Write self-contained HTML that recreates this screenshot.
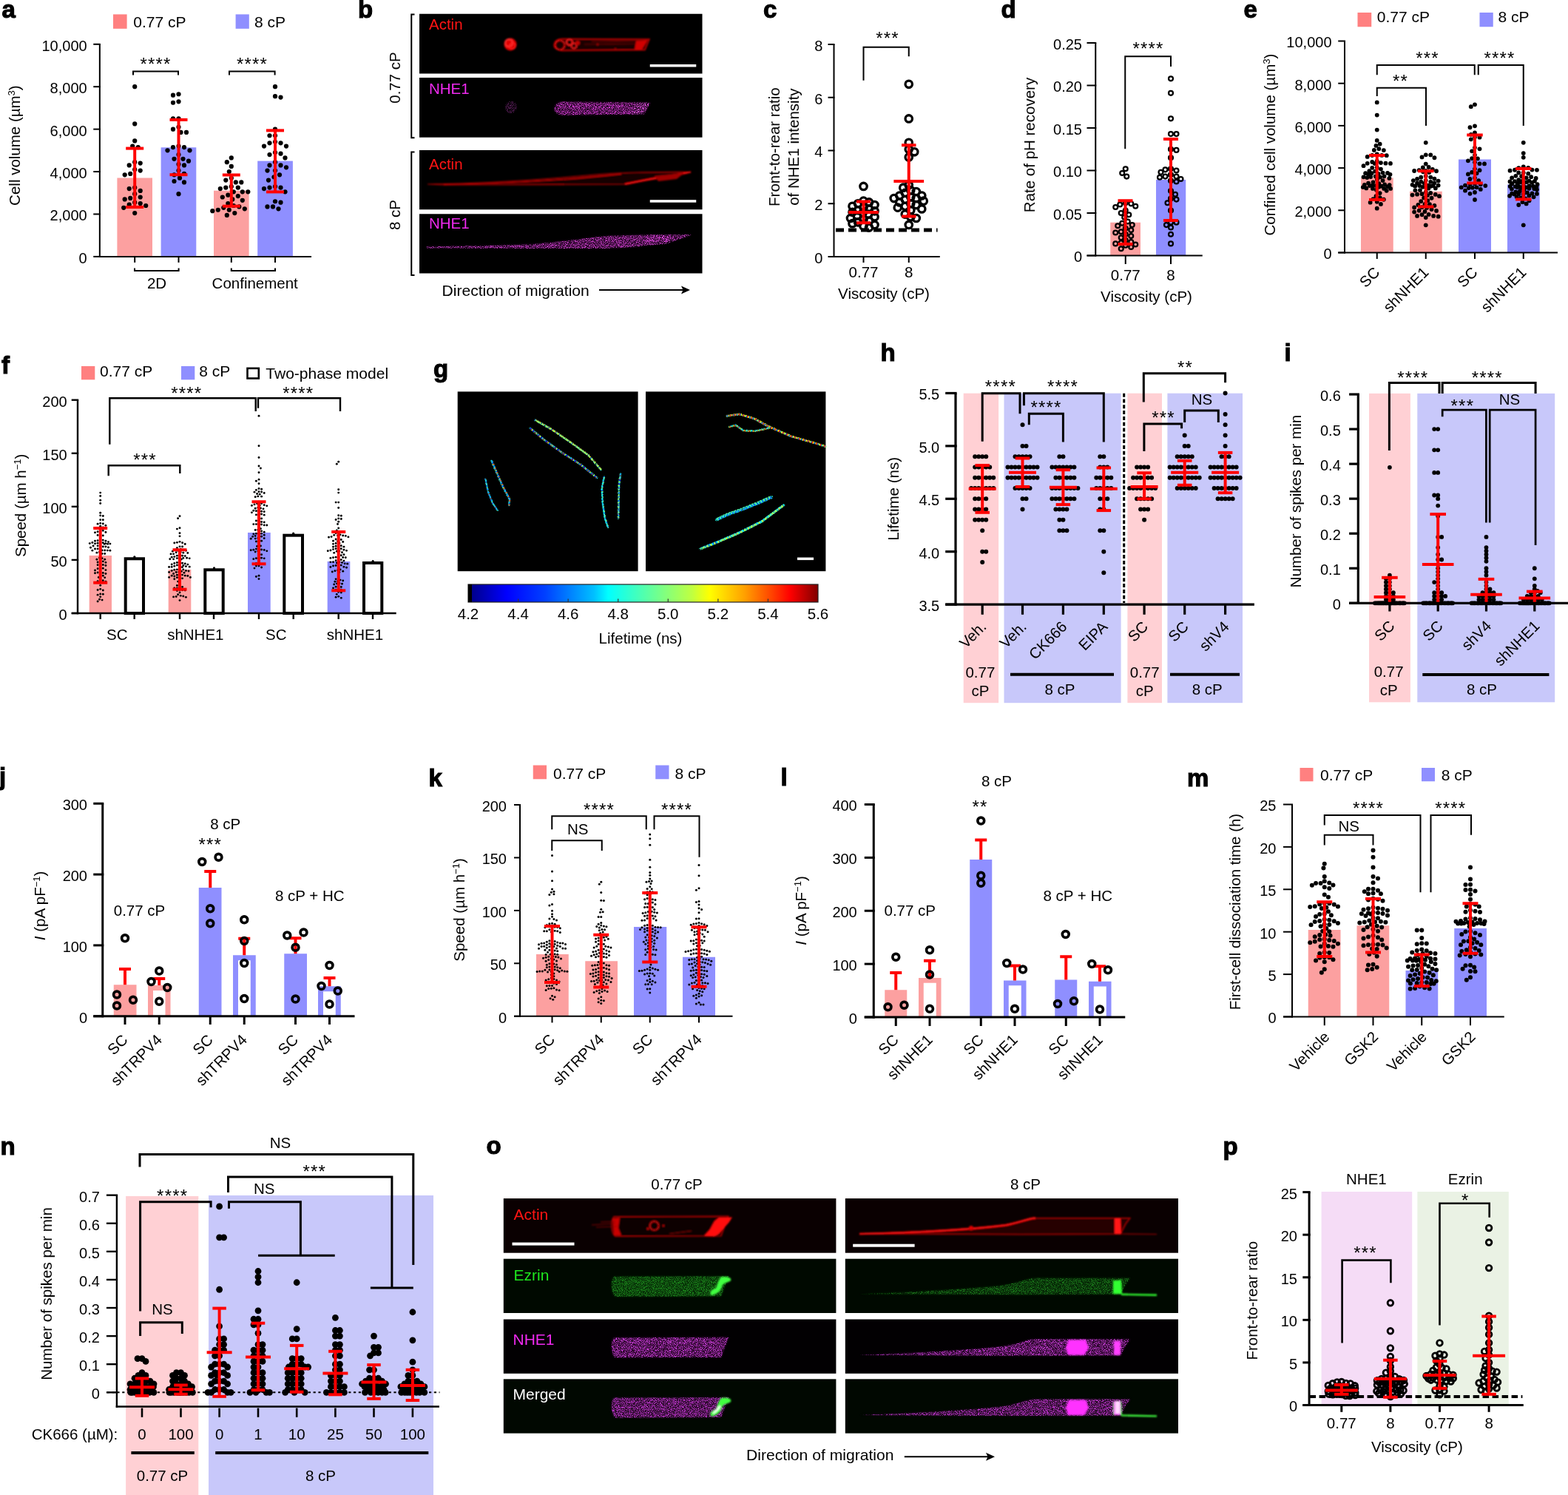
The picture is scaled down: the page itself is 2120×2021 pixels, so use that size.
<!DOCTYPE html>
<html><head><meta charset="utf-8"><title>Figure</title>
<style>html,body{margin:0;padding:0;background:#fff;overflow:hidden;} svg{display:block;} svg{font-family:"Liberation Sans",Helvetica,Arial,sans-serif;font-size:20.5px;}</style>
</head><body>
<svg width="2120" height="2021" viewBox="0 0 2120 2021">
<rect width="2120" height="2021" fill="#fff"/>
<defs>
<filter id="bl1" x="-20%" y="-50%" width="140%" height="200%"><feGaussianBlur stdDeviation="0.9"/></filter>
<filter id="bl2" x="-20%" y="-50%" width="140%" height="200%"><feGaussianBlur stdDeviation="1.6"/></filter>
<filter id="bl3" x="-20%" y="-50%" width="140%" height="200%"><feGaussianBlur stdDeviation="3"/></filter>
<filter id="spk" x="-5%" y="-30%" width="110%" height="160%">
 <feTurbulence type="fractalNoise" baseFrequency="1.1" numOctaves="2" seed="7" result="n"/>
 <feColorMatrix in="n" type="matrix" values="0 0 0 0 0  0 0 0 0 0  0 0 0 0 0  4.5 0 0 0 -2.0" result="m"/>
 <feComposite in="SourceGraphic" in2="m" operator="in" result="c"/>
 <feGaussianBlur in="c" stdDeviation="0.3"/>
</filter>
<filter id="spk2" x="-5%" y="-30%" width="110%" height="160%">
 <feTurbulence type="fractalNoise" baseFrequency="0.9" numOctaves="2" seed="3" result="n"/>
 <feColorMatrix in="n" type="matrix" values="0 0 0 0 0  0 0 0 0 0  0 0 0 0 0  4 0 0 0 -1.7" result="m"/>
 <feComposite in="SourceGraphic" in2="m" operator="in" result="c"/>
 <feGaussianBlur in="c" stdDeviation="0.3"/>
</filter>
<filter id="rag" x="-10%" y="-10%" width="120%" height="120%">
 <feTurbulence type="fractalNoise" baseFrequency="0.9" numOctaves="1" seed="11" result="n"/>
 <feColorMatrix in="n" type="matrix" values="0 0 0 0 0  0 0 0 0 0  0 0 0 0 0  3 0 0 0 -0.9" result="m"/>
 <feComposite in="SourceGraphic" in2="m" operator="in"/>
</filter>
<linearGradient id="jet" x1="0" x2="1" y1="0" y2="0">
 <stop offset="0" stop-color="#000080"/>
 <stop offset="0.11" stop-color="#0000ff"/>
 <stop offset="0.22" stop-color="#0040ff"/>
 <stop offset="0.36" stop-color="#00c0ff"/>
 <stop offset="0.40" stop-color="#00ffff"/>
 <stop offset="0.48" stop-color="#40ffbf"/>
 <stop offset="0.56" stop-color="#80ff80"/>
 <stop offset="0.64" stop-color="#c0ff40"/>
 <stop offset="0.69" stop-color="#ffff00"/>
 <stop offset="0.79" stop-color="#ffa000"/>
 <stop offset="0.87" stop-color="#ff4000"/>
 <stop offset="0.92" stop-color="#ff0000"/>
 <stop offset="1" stop-color="#800000"/>
</linearGradient>
</defs>
<text x="484.00" y="23.70" font-size="33" font-weight="bold" stroke="#000" stroke-width="1.1">b</text>
<rect x="567.00" y="18.75" width="382.50" height="80.75" fill="#000"/>
<rect x="567.00" y="105.00" width="382.50" height="80.75" fill="#000"/>
<rect x="567.00" y="203.00" width="382.50" height="80.25" fill="#000"/>
<rect x="567.00" y="289.25" width="382.50" height="80.25" fill="#000"/>
<text x="580.00" y="40.00" fill="#ff1414">Actin</text>
<text x="580.00" y="127.20" fill="#f02af0">NHE1</text>
<text x="580.00" y="228.75" fill="#ff1414">Actin</text>
<text x="580.00" y="309.40" fill="#f02af0">NHE1</text>
<rect x="878.75" y="87.00" width="62.50" height="3.50" fill="#fff"/>
<rect x="878.75" y="270.20" width="62.50" height="3.50" fill="#fff"/>
<polyline points="560.50,19.50 556.25,19.50 556.25,186.25 560.50,186.25" fill="none" stroke="#000" stroke-width="2"/>
<polyline points="560.50,205.50 556.25,205.50 556.25,372.00 560.50,372.00" fill="none" stroke="#000" stroke-width="2"/>
<text x="541.00" y="105.00" text-anchor="middle" transform="rotate(-90 541.00 105.00)">0.77 cP</text>
<text x="541.00" y="290.50" text-anchor="middle" transform="rotate(-90 541.00 290.50)">8 cP</text>
<text x="597.50" y="400.00" font-size="21.1">Direction of migration</text>
<line x1="810.00" y1="392.00" x2="928.00" y2="392.00" stroke="#000" stroke-width="2"/>
<path d="M933,392 L921,386.5 L923.5,392 L921,397.5 Z" fill="#000"/>
<g filter="url(#bl1)">
<circle cx="690" cy="60" r="8.5" fill="#e00000"/>
<circle cx="688" cy="58" r="5" fill="none" stroke="#ff3030" stroke-width="2"/>
<circle cx="693" cy="62" r="4" fill="none" stroke="#ff2020" stroke-width="1.6"/>
<path d="M760,52.5 L878,53 L872,67.5 L760,68.5 C751,68 748,63 749.5,59 C751,54 755,52.5 760,52.5 Z" fill="#1a0000" stroke="#d00000" stroke-width="1.4"/>
<circle cx="757" cy="61" r="6.5" fill="none" stroke="#e01010" stroke-width="1.6"/>
<circle cx="770" cy="57" r="4" fill="none" stroke="#ff2020" stroke-width="1.8"/>
<circle cx="776" cy="62" r="3.5" fill="none" stroke="#ff2020" stroke-width="1.6"/>
<circle cx="781" cy="58" r="3" fill="#c00000"/>
<path d="M860,55 L876,54 L868,67 L858,67 Z" fill="#d00000"/>
<path d="M800,56 L868,55" stroke="#a00000" stroke-width="0.8"/><path d="M790,60 L860,59" stroke="#800000" stroke-width="0.8"/>
<circle cx="808" cy="60" r="1.5" fill="#a00000"/><circle cx="832" cy="66" r="1.2" fill="#900000"/>
</g>
<g filter="url(#bl2)" opacity="0.5"><path d="M760,137.5 L879,138.5 L871,154.5 L760,155.5 C752,155 749,150 749.5,146 C750.5,140 755,137.5 760,137.5 Z" fill="#501050"/><path d="M577,333 C620,333 680,332 720,330 C760,327 790,322 820,319 C860,317 900,317 935,317.5 C925,322 905,327 880,331 C850,335 830,336 800,336 L577,335.5 Z" fill="#501050"/></g>
<g filter="url(#spk)">
<path d="M760,137.5 L879,138.5 L871,154.5 L760,155.5 C752,155 749,150 749.5,146 C750.5,140 755,137.5 760,137.5 Z" fill="#e040e0"/>
<path d="M858,140 L878,139 L870,154 L855,154 Z" fill="#ff60ff"/>
<circle cx="691" cy="145" r="8" fill="#602060"/>
</g>
<g filter="url(#bl1)">
<path d="M578,249 C640,248 700,245 760,240 C800,236 830,233.5 860,233 C890,232.5 915,232 934,232.5 C925,236 905,240 880,243 C860,246 852,249 845,249.5 L600,250 Z" fill="#140000" stroke="#b00000" stroke-width="1.1"/>
<path d="M600,249.5 C700,247.5 780,242 840,235" fill="none" stroke="#d00000" stroke-width="1.3"/>
<path d="M845,249 C870,244 900,238 934,232.5" fill="none" stroke="#ff1010" stroke-width="2"/>
<path d="M885,238 L925,234 L915,242 L890,245 Z" fill="#a00000"/>
</g>
<g filter="url(#spk)">
<path d="M577,333 C620,333 680,332 720,330 C760,327 790,322 820,319 C860,317 900,317 935,317.5 C925,322 905,327 880,331 C850,335 830,336 800,336 L577,335.5 Z" fill="#d040d0"/>
<path d="M870,318 L934,317.5 L900,330 L870,332 Z" fill="#ff50ff"/>
</g>
<text x="586.00" y="509.50" font-size="33" font-weight="bold" stroke="#000" stroke-width="1.1">g</text>
<rect x="618.70" y="529.40" width="243.90" height="242.80" fill="#000"/>
<rect x="873.00" y="529.40" width="243.40" height="242.80" fill="#000"/>
<path d="M723.5,567.8 L745.0,580.0 L770.0,597.0 L795.0,615.0 L812.7,635.0" fill="none" stroke="#28ffd7" stroke-width="2.6" stroke-linecap="round" stroke-linejoin="round" filter="url(#rag)"/>
<path d="M723.5,567.8 L745.0,580.0 L770.0,597.0 L795.0,615.0 L812.7,635.0" fill="none" stroke="#ffbd00" stroke-width="1.81" stroke-dasharray="1.4,3.4" stroke-dashoffset="2.7" transform="translate(0.18,0.35)"/>
<path d="M723.5,567.8 L745.0,580.0 L770.0,597.0 L795.0,615.0 L812.7,635.0" fill="none" stroke="#ff9600" stroke-width="2.26" stroke-dasharray="0.7,2.6" stroke-dashoffset="2.6" transform="translate(0.31,-0.60)"/>
<path d="M723.5,567.8 L745.0,580.0 L770.0,597.0 L795.0,615.0 L812.7,635.0" fill="none" stroke="#0000e6" stroke-width="2.34" stroke-dasharray="0.8,5.8" stroke-dashoffset="0.2" transform="translate(-0.57,0.05)"/>
<path d="M723.5,567.8 L745.0,580.0 L770.0,597.0 L795.0,615.0 L812.7,635.0" fill="none" stroke="#8fff70" stroke-width="1.45" stroke-dasharray="1.5,3.8" stroke-dashoffset="2.5" transform="translate(-0.57,-0.33)"/>
<path d="M723.5,567.8 L745.0,580.0 L770.0,597.0 L795.0,615.0 L812.7,635.0" fill="none" stroke="#002eff" stroke-width="1.45" stroke-dasharray="0.8,3.3" stroke-dashoffset="2.8" transform="translate(-0.25,-0.57)"/>
<path d="M723.5,567.8 L745.0,580.0 L770.0,597.0 L795.0,615.0 L812.7,635.0" fill="none" stroke="#7dff82" stroke-width="2.00" stroke-dasharray="1.4,4.4" stroke-dashoffset="1.1" transform="translate(0.59,0.43)"/>
<path d="M723.5,567.8 L745.0,580.0 L770.0,597.0 L795.0,615.0 L812.7,635.0" fill="none" stroke="#a5ff5a" stroke-width="2.39" stroke-dasharray="1.3,5.0" stroke-dashoffset="2.5" transform="translate(0.40,0.20)"/>
<path d="M723.5,567.8 L745.0,580.0 L770.0,597.0 L795.0,615.0 L812.7,635.0" fill="none" stroke="#9eff61" stroke-width="2.32" stroke-dasharray="0.9,4.6" stroke-dashoffset="5.1" transform="translate(0.01,0.11)"/>
<path d="M723.5,567.8 L745.0,580.0 L770.0,597.0 L795.0,615.0 L812.7,635.0" fill="none" stroke="#b3ff4c" stroke-width="1.39" stroke-dasharray="1.4,4.0" stroke-dashoffset="3.3" transform="translate(0.24,0.21)"/>
<path d="M716.6,578.8 L735.0,594.0 L760.0,612.0 L785.0,628.0 L807.2,646.0" fill="none" stroke="#28ffd7" stroke-width="2.6" stroke-linecap="round" stroke-linejoin="round" filter="url(#rag)"/>
<path d="M716.6,578.8 L735.0,594.0 L760.0,612.0 L785.0,628.0 L807.2,646.0" fill="none" stroke="#af0000" stroke-width="2.26" stroke-dasharray="0.7,2.8" stroke-dashoffset="4.4" transform="translate(0.20,-0.23)"/>
<path d="M716.6,578.8 L735.0,594.0 L760.0,612.0 L785.0,628.0 L807.2,646.0" fill="none" stroke="#0080ff" stroke-width="1.93" stroke-dasharray="1.2,4.6" stroke-dashoffset="1.0" transform="translate(-0.08,-0.13)"/>
<path d="M716.6,578.8 L735.0,594.0 L760.0,612.0 L785.0,628.0 L807.2,646.0" fill="none" stroke="#009aff" stroke-width="1.75" stroke-dasharray="1.5,4.4" stroke-dashoffset="1.6" transform="translate(-0.56,-0.57)"/>
<path d="M716.6,578.8 L735.0,594.0 L760.0,612.0 L785.0,628.0 L807.2,646.0" fill="none" stroke="#0000dc" stroke-width="1.66" stroke-dasharray="1.1,3.6" stroke-dashoffset="5.4" transform="translate(0.03,0.07)"/>
<path d="M716.6,578.8 L735.0,594.0 L760.0,612.0 L785.0,628.0 L807.2,646.0" fill="none" stroke="#2bffd3" stroke-width="1.83" stroke-dasharray="0.9,3.0" stroke-dashoffset="6.0" transform="translate(0.21,-0.38)"/>
<path d="M716.6,578.8 L735.0,594.0 L760.0,612.0 L785.0,628.0 L807.2,646.0" fill="none" stroke="#52ffad" stroke-width="2.12" stroke-dasharray="1.5,5.3" stroke-dashoffset="5.4" transform="translate(0.32,0.35)"/>
<path d="M716.6,578.8 L735.0,594.0 L760.0,612.0 L785.0,628.0 L807.2,646.0" fill="none" stroke="#0000dc" stroke-width="2.15" stroke-dasharray="1.6,3.1" stroke-dashoffset="4.3" transform="translate(-0.05,0.04)"/>
<path d="M716.6,578.8 L735.0,594.0 L760.0,612.0 L785.0,628.0 L807.2,646.0" fill="none" stroke="#af0000" stroke-width="1.82" stroke-dasharray="1.1,5.7" stroke-dashoffset="5.0" transform="translate(-0.18,0.46)"/>
<path d="M716.6,578.8 L735.0,594.0 L760.0,612.0 L785.0,628.0 L807.2,646.0" fill="none" stroke="#e0ff1f" stroke-width="2.11" stroke-dasharray="1.2,5.7" stroke-dashoffset="2.9" transform="translate(-0.33,-0.21)"/>
<path d="M664.5,622.7 L672.0,640.0 L680.0,658.0 L689.0,675.0 L688.0,683.0" fill="none" stroke="#28ffd7" stroke-width="2.4" stroke-linecap="round" stroke-linejoin="round" filter="url(#rag)"/>
<path d="M664.5,622.7 L672.0,640.0 L680.0,658.0 L689.0,675.0 L688.0,683.0" fill="none" stroke="#3affc4" stroke-width="1.83" stroke-dasharray="1.0,4.6" stroke-dashoffset="0.4" transform="translate(-0.58,0.40)"/>
<path d="M664.5,622.7 L672.0,640.0 L680.0,658.0 L689.0,675.0 L688.0,683.0" fill="none" stroke="#ffc500" stroke-width="2.27" stroke-dasharray="0.9,3.3" stroke-dashoffset="2.8" transform="translate(0.40,-0.03)"/>
<path d="M664.5,622.7 L672.0,640.0 L680.0,658.0 L689.0,675.0 L688.0,683.0" fill="none" stroke="#00c3ff" stroke-width="1.71" stroke-dasharray="1.2,5.5" stroke-dashoffset="4.4" transform="translate(0.21,-0.52)"/>
<path d="M664.5,622.7 L672.0,640.0 L680.0,658.0 L689.0,675.0 L688.0,683.0" fill="none" stroke="#00b2ff" stroke-width="1.44" stroke-dasharray="1.4,4.6" stroke-dashoffset="0.2" transform="translate(0.44,-0.03)"/>
<path d="M664.5,622.7 L672.0,640.0 L680.0,658.0 L689.0,675.0 L688.0,683.0" fill="none" stroke="#00baff" stroke-width="1.55" stroke-dasharray="1.3,5.7" stroke-dashoffset="4.8" transform="translate(-0.07,0.52)"/>
<path d="M664.5,622.7 L672.0,640.0 L680.0,658.0 L689.0,675.0 L688.0,683.0" fill="none" stroke="#0000dc" stroke-width="1.24" stroke-dasharray="1.5,2.8" stroke-dashoffset="1.3" transform="translate(0.56,-0.08)"/>
<path d="M664.5,622.7 L672.0,640.0 L680.0,658.0 L689.0,675.0 L688.0,683.0" fill="none" stroke="#0090ff" stroke-width="1.50" stroke-dasharray="1.1,3.9" stroke-dashoffset="3.5" transform="translate(0.10,0.49)"/>
<path d="M664.5,622.7 L672.0,640.0 L680.0,658.0 L689.0,675.0 L688.0,683.0" fill="none" stroke="#008dff" stroke-width="2.11" stroke-dasharray="1.3,5.8" stroke-dashoffset="5.9" transform="translate(0.21,-0.40)"/>
<path d="M664.5,622.7 L672.0,640.0 L680.0,658.0 L689.0,675.0 L688.0,683.0" fill="none" stroke="#ff5b00" stroke-width="1.94" stroke-dasharray="1.5,4.5" stroke-dashoffset="1.3" transform="translate(0.40,0.09)"/>
<path d="M656.3,647.4 L660.0,665.0 L666.0,680.0 L672.7,690.0" fill="none" stroke="#28ffd7" stroke-width="2.0" stroke-linecap="round" stroke-linejoin="round" filter="url(#rag)"/>
<path d="M656.3,647.4 L660.0,665.0 L666.0,680.0 L672.7,690.0" fill="none" stroke="#2fffcf" stroke-width="0.97" stroke-dasharray="1.0,3.0" stroke-dashoffset="2.4" transform="translate(0.50,0.36)"/>
<path d="M656.3,647.4 L660.0,665.0 L666.0,680.0 L672.7,690.0" fill="none" stroke="#81ff7e" stroke-width="1.44" stroke-dasharray="1.4,3.3" stroke-dashoffset="1.7" transform="translate(-0.39,-0.47)"/>
<path d="M656.3,647.4 L660.0,665.0 L666.0,680.0 L672.7,690.0" fill="none" stroke="#89ff76" stroke-width="1.70" stroke-dasharray="1.4,5.3" stroke-dashoffset="1.2" transform="translate(-0.23,0.15)"/>
<path d="M656.3,647.4 L660.0,665.0 L666.0,680.0 L672.7,690.0" fill="none" stroke="#af0000" stroke-width="1.78" stroke-dasharray="1.3,5.5" stroke-dashoffset="0.5" transform="translate(0.13,0.21)"/>
<path d="M656.3,647.4 L660.0,665.0 L666.0,680.0 L672.7,690.0" fill="none" stroke="#0089ff" stroke-width="1.83" stroke-dasharray="1.1,2.8" stroke-dashoffset="5.2" transform="translate(0.06,-0.24)"/>
<path d="M656.3,647.4 L660.0,665.0 L666.0,680.0 L672.7,690.0" fill="none" stroke="#23ffdb" stroke-width="1.78" stroke-dasharray="1.5,4.5" stroke-dashoffset="5.1" transform="translate(0.01,-0.10)"/>
<path d="M656.3,647.4 L660.0,665.0 L666.0,680.0 L672.7,690.0" fill="none" stroke="#0054ff" stroke-width="1.71" stroke-dasharray="0.8,3.6" stroke-dashoffset="0.3" transform="translate(-0.54,0.15)"/>
<path d="M656.3,647.4 L660.0,665.0 L666.0,680.0 L672.7,690.0" fill="none" stroke="#008aff" stroke-width="1.37" stroke-dasharray="0.9,4.4" stroke-dashoffset="2.1" transform="translate(0.60,-0.37)"/>
<path d="M656.3,647.4 L660.0,665.0 L666.0,680.0 L672.7,690.0" fill="none" stroke="#0094ff" stroke-width="1.26" stroke-dasharray="1.2,3.5" stroke-dashoffset="4.5" transform="translate(-0.22,0.07)"/>
<path d="M817.0,644.6 L814.0,660.0 L815.0,680.0 L818.0,700.0 L822.3,713.2" fill="none" stroke="#28ffd7" stroke-width="2.2" stroke-linecap="round" stroke-linejoin="round" filter="url(#rag)"/>
<path d="M817.0,644.6 L814.0,660.0 L815.0,680.0 L818.0,700.0 L822.3,713.2" fill="none" stroke="#0021ff" stroke-width="1.80" stroke-dasharray="1.4,5.8" stroke-dashoffset="5.5" transform="translate(-0.57,-0.04)"/>
<path d="M817.0,644.6 L814.0,660.0 L815.0,680.0 L818.0,700.0 L822.3,713.2" fill="none" stroke="#0025ff" stroke-width="1.98" stroke-dasharray="1.5,4.8" stroke-dashoffset="0.7" transform="translate(-0.04,-0.30)"/>
<path d="M817.0,644.6 L814.0,660.0 L815.0,680.0 L818.0,700.0 L822.3,713.2" fill="none" stroke="#0016ff" stroke-width="1.30" stroke-dasharray="0.6,3.3" stroke-dashoffset="5.5" transform="translate(0.32,-0.41)"/>
<path d="M817.0,644.6 L814.0,660.0 L815.0,680.0 L818.0,700.0 L822.3,713.2" fill="none" stroke="#00c7ff" stroke-width="1.67" stroke-dasharray="1.4,3.0" stroke-dashoffset="0.8" transform="translate(-0.60,0.45)"/>
<path d="M817.0,644.6 L814.0,660.0 L815.0,680.0 L818.0,700.0 L822.3,713.2" fill="none" stroke="#49ffb5" stroke-width="1.31" stroke-dasharray="1.6,5.6" stroke-dashoffset="5.8" transform="translate(0.05,0.21)"/>
<path d="M817.0,644.6 L814.0,660.0 L815.0,680.0 L818.0,700.0 L822.3,713.2" fill="none" stroke="#a9ff56" stroke-width="1.75" stroke-dasharray="0.8,5.8" stroke-dashoffset="5.8" transform="translate(0.47,-0.24)"/>
<path d="M817.0,644.6 L814.0,660.0 L815.0,680.0 L818.0,700.0 L822.3,713.2" fill="none" stroke="#00bdff" stroke-width="1.32" stroke-dasharray="0.7,2.7" stroke-dashoffset="3.6" transform="translate(-0.60,0.21)"/>
<path d="M817.0,644.6 L814.0,660.0 L815.0,680.0 L818.0,700.0 L822.3,713.2" fill="none" stroke="#80ff7f" stroke-width="1.89" stroke-dasharray="0.9,3.6" stroke-dashoffset="2.9" transform="translate(-0.22,-0.02)"/>
<path d="M817.0,644.6 L814.0,660.0 L815.0,680.0 L818.0,700.0 L822.3,713.2" fill="none" stroke="#15ffe9" stroke-width="1.81" stroke-dasharray="1.6,2.6" stroke-dashoffset="5.1" transform="translate(-0.58,0.35)"/>
<path d="M839.0,640.5 L837.0,655.0 L836.5,675.0 L836.0,701.0" fill="none" stroke="#28ffd7" stroke-width="2.6" stroke-linecap="round" stroke-linejoin="round" filter="url(#rag)"/>
<path d="M839.0,640.5 L837.0,655.0 L836.5,675.0 L836.0,701.0" fill="none" stroke="#87ff78" stroke-width="1.17" stroke-dasharray="1.1,3.4" stroke-dashoffset="4.0" transform="translate(-0.04,0.31)"/>
<path d="M839.0,640.5 L837.0,655.0 L836.5,675.0 L836.0,701.0" fill="none" stroke="#0000dc" stroke-width="1.52" stroke-dasharray="1.0,5.2" stroke-dashoffset="4.8" transform="translate(0.28,-0.10)"/>
<path d="M839.0,640.5 L837.0,655.0 L836.5,675.0 L836.0,701.0" fill="none" stroke="#0000f0" stroke-width="2.22" stroke-dasharray="0.8,4.4" stroke-dashoffset="1.6" transform="translate(0.36,0.22)"/>
<path d="M839.0,640.5 L837.0,655.0 L836.5,675.0 L836.0,701.0" fill="none" stroke="#00c5ff" stroke-width="1.29" stroke-dasharray="1.4,3.7" stroke-dashoffset="4.8" transform="translate(0.37,-0.07)"/>
<path d="M839.0,640.5 L837.0,655.0 L836.5,675.0 L836.0,701.0" fill="none" stroke="#91ff6e" stroke-width="2.41" stroke-dasharray="1.2,3.5" stroke-dashoffset="3.5" transform="translate(-0.36,0.19)"/>
<path d="M839.0,640.5 L837.0,655.0 L836.5,675.0 L836.0,701.0" fill="none" stroke="#6eff91" stroke-width="2.35" stroke-dasharray="1.0,5.8" stroke-dashoffset="3.1" transform="translate(0.17,0.24)"/>
<path d="M839.0,640.5 L837.0,655.0 L836.5,675.0 L836.0,701.0" fill="none" stroke="#ebff13" stroke-width="1.95" stroke-dasharray="0.6,3.8" stroke-dashoffset="1.8" transform="translate(0.11,-0.49)"/>
<path d="M839.0,640.5 L837.0,655.0 L836.5,675.0 L836.0,701.0" fill="none" stroke="#0000dc" stroke-width="1.32" stroke-dasharray="1.5,4.3" stroke-dashoffset="4.0" transform="translate(-0.23,-0.36)"/>
<path d="M839.0,640.5 L837.0,655.0 L836.5,675.0 L836.0,701.0" fill="none" stroke="#009bff" stroke-width="2.08" stroke-dasharray="0.8,5.5" stroke-dashoffset="0.1" transform="translate(0.33,-0.58)"/>
<path d="M982.8,562.3 L1000.0,560.0 L1020.0,566.0 L1039.0,576.5 L1070.0,590.0 L1095.0,597.0 L1116.0,603.5" fill="none" stroke="#78ff87" stroke-width="2.8" stroke-linecap="round" stroke-linejoin="round" filter="url(#rag)"/>
<path d="M982.8,562.3 L1000.0,560.0 L1020.0,566.0 L1039.0,576.5 L1070.0,590.0 L1095.0,597.0 L1116.0,603.5" fill="none" stroke="#46ffb8" stroke-width="2.01" stroke-dasharray="1.3,2.8" stroke-dashoffset="2.2" transform="translate(-0.53,0.01)"/>
<path d="M982.8,562.3 L1000.0,560.0 L1020.0,566.0 L1039.0,576.5 L1070.0,590.0 L1095.0,597.0 L1116.0,603.5" fill="none" stroke="#e9ff16" stroke-width="1.36" stroke-dasharray="0.6,4.0" stroke-dashoffset="0.5" transform="translate(-0.09,0.39)"/>
<path d="M982.8,562.3 L1000.0,560.0 L1020.0,566.0 L1039.0,576.5 L1070.0,590.0 L1095.0,597.0 L1116.0,603.5" fill="none" stroke="#e7ff17" stroke-width="2.07" stroke-dasharray="1.2,5.8" stroke-dashoffset="2.4" transform="translate(0.57,-0.54)"/>
<path d="M982.8,562.3 L1000.0,560.0 L1020.0,566.0 L1039.0,576.5 L1070.0,590.0 L1095.0,597.0 L1116.0,603.5" fill="none" stroke="#e5ff19" stroke-width="1.46" stroke-dasharray="1.5,3.5" stroke-dashoffset="0.7" transform="translate(-0.23,0.38)"/>
<path d="M982.8,562.3 L1000.0,560.0 L1020.0,566.0 L1039.0,576.5 L1070.0,590.0 L1095.0,597.0 L1116.0,603.5" fill="none" stroke="#f6ff08" stroke-width="2.03" stroke-dasharray="1.2,3.8" stroke-dashoffset="0.4" transform="translate(-0.53,-0.35)"/>
<path d="M982.8,562.3 L1000.0,560.0 L1020.0,566.0 L1039.0,576.5 L1070.0,590.0 L1095.0,597.0 L1116.0,603.5" fill="none" stroke="#ff6700" stroke-width="1.70" stroke-dasharray="1.3,4.0" stroke-dashoffset="3.5" transform="translate(-0.06,-0.24)"/>
<path d="M982.8,562.3 L1000.0,560.0 L1020.0,566.0 L1039.0,576.5 L1070.0,590.0 L1095.0,597.0 L1116.0,603.5" fill="none" stroke="#cfff30" stroke-width="2.00" stroke-dasharray="0.8,4.5" stroke-dashoffset="5.3" transform="translate(0.28,-0.25)"/>
<path d="M982.8,562.3 L1000.0,560.0 L1020.0,566.0 L1039.0,576.5 L1070.0,590.0 L1095.0,597.0 L1116.0,603.5" fill="none" stroke="#002fff" stroke-width="1.85" stroke-dasharray="1.6,2.9" stroke-dashoffset="4.5" transform="translate(-0.42,-0.01)"/>
<path d="M982.8,562.3 L1000.0,560.0 L1020.0,566.0 L1039.0,576.5 L1070.0,590.0 L1095.0,597.0 L1116.0,603.5" fill="none" stroke="#ff1f00" stroke-width="2.49" stroke-dasharray="1.4,4.5" stroke-dashoffset="1.9" transform="translate(0.23,0.11)"/>
<path d="M986.0,577.0 L995.0,575.0 L1005.0,582.0 L1020.0,583.0 L1040.0,578.8" fill="none" stroke="#78ff87" stroke-width="2.4" stroke-linecap="round" stroke-linejoin="round" filter="url(#rag)"/>
<path d="M986.0,577.0 L995.0,575.0 L1005.0,582.0 L1020.0,583.0 L1040.0,578.8" fill="none" stroke="#bfff40" stroke-width="1.18" stroke-dasharray="0.7,5.0" stroke-dashoffset="1.5" transform="translate(0.60,-0.35)"/>
<path d="M986.0,577.0 L995.0,575.0 L1005.0,582.0 L1020.0,583.0 L1040.0,578.8" fill="none" stroke="#af0000" stroke-width="1.62" stroke-dasharray="1.2,4.1" stroke-dashoffset="3.0" transform="translate(-0.37,0.40)"/>
<path d="M986.0,577.0 L995.0,575.0 L1005.0,582.0 L1020.0,583.0 L1040.0,578.8" fill="none" stroke="#fff700" stroke-width="1.57" stroke-dasharray="0.6,3.4" stroke-dashoffset="5.4" transform="translate(-0.15,-0.46)"/>
<path d="M986.0,577.0 L995.0,575.0 L1005.0,582.0 L1020.0,583.0 L1040.0,578.8" fill="none" stroke="#c4ff3b" stroke-width="1.16" stroke-dasharray="0.9,6.0" stroke-dashoffset="3.7" transform="translate(-0.15,0.19)"/>
<path d="M986.0,577.0 L995.0,575.0 L1005.0,582.0 L1020.0,583.0 L1040.0,578.8" fill="none" stroke="#00bcff" stroke-width="2.16" stroke-dasharray="1.1,4.8" stroke-dashoffset="3.5" transform="translate(-0.43,-0.52)"/>
<path d="M986.0,577.0 L995.0,575.0 L1005.0,582.0 L1020.0,583.0 L1040.0,578.8" fill="none" stroke="#ff4800" stroke-width="1.31" stroke-dasharray="1.5,4.2" stroke-dashoffset="5.7" transform="translate(0.09,0.27)"/>
<path d="M986.0,577.0 L995.0,575.0 L1005.0,582.0 L1020.0,583.0 L1040.0,578.8" fill="none" stroke="#fffa00" stroke-width="1.24" stroke-dasharray="1.0,5.6" stroke-dashoffset="4.6" transform="translate(-0.48,0.23)"/>
<path d="M986.0,577.0 L995.0,575.0 L1005.0,582.0 L1020.0,583.0 L1040.0,578.8" fill="none" stroke="#0cfff2" stroke-width="2.09" stroke-dasharray="1.3,5.8" stroke-dashoffset="3.0" transform="translate(-0.36,-0.42)"/>
<path d="M986.0,577.0 L995.0,575.0 L1005.0,582.0 L1020.0,583.0 L1040.0,578.8" fill="none" stroke="#006bff" stroke-width="1.69" stroke-dasharray="0.7,5.7" stroke-dashoffset="4.2" transform="translate(-0.34,-0.31)"/>
<path d="M969.0,702.3 L985.0,695.0 L1005.0,688.0 L1025.0,680.0 L1043.0,672.0" fill="none" stroke="#28ffd7" stroke-width="4.2" stroke-linecap="round" stroke-linejoin="round" filter="url(#rag)"/>
<path d="M969.0,702.3 L985.0,695.0 L1005.0,688.0 L1025.0,680.0 L1043.0,672.0" fill="none" stroke="#0043ff" stroke-width="1.90" stroke-dasharray="0.7,5.5" stroke-dashoffset="3.0" transform="translate(0.48,-0.50)"/>
<path d="M969.0,702.3 L985.0,695.0 L1005.0,688.0 L1025.0,680.0 L1043.0,672.0" fill="none" stroke="#52ffac" stroke-width="1.98" stroke-dasharray="1.2,4.7" stroke-dashoffset="2.3" transform="translate(0.24,-0.06)"/>
<path d="M969.0,702.3 L985.0,695.0 L1005.0,688.0 L1025.0,680.0 L1043.0,672.0" fill="none" stroke="#16ffe8" stroke-width="2.95" stroke-dasharray="0.8,2.9" stroke-dashoffset="5.5" transform="translate(0.11,0.33)"/>
<path d="M969.0,702.3 L985.0,695.0 L1005.0,688.0 L1025.0,680.0 L1043.0,672.0" fill="none" stroke="#0093ff" stroke-width="2.10" stroke-dasharray="1.0,5.1" stroke-dashoffset="1.7" transform="translate(0.21,0.27)"/>
<path d="M969.0,702.3 L985.0,695.0 L1005.0,688.0 L1025.0,680.0 L1043.0,672.0" fill="none" stroke="#00bfff" stroke-width="2.48" stroke-dasharray="0.9,3.2" stroke-dashoffset="4.9" transform="translate(-0.36,0.46)"/>
<path d="M969.0,702.3 L985.0,695.0 L1005.0,688.0 L1025.0,680.0 L1043.0,672.0" fill="none" stroke="#4effb0" stroke-width="2.69" stroke-dasharray="1.5,2.7" stroke-dashoffset="3.0" transform="translate(-0.57,-0.09)"/>
<path d="M969.0,702.3 L985.0,695.0 L1005.0,688.0 L1025.0,680.0 L1043.0,672.0" fill="none" stroke="#75ff89" stroke-width="3.11" stroke-dasharray="1.2,2.9" stroke-dashoffset="5.4" transform="translate(-0.36,-0.59)"/>
<path d="M969.0,702.3 L985.0,695.0 L1005.0,688.0 L1025.0,680.0 L1043.0,672.0" fill="none" stroke="#00e7ff" stroke-width="1.93" stroke-dasharray="0.7,4.4" stroke-dashoffset="0.5" transform="translate(-0.00,0.51)"/>
<path d="M969.0,702.3 L985.0,695.0 L1005.0,688.0 L1025.0,680.0 L1043.0,672.0" fill="none" stroke="#0050ff" stroke-width="3.11" stroke-dasharray="1.2,2.8" stroke-dashoffset="1.0" transform="translate(0.13,0.55)"/>
<path d="M947.0,742.0 L970.0,733.0 L1000.0,720.0 L1030.0,705.0 L1059.6,683.0" fill="none" stroke="#28ffd7" stroke-width="3.4" stroke-linecap="round" stroke-linejoin="round" filter="url(#rag)"/>
<path d="M947.0,742.0 L970.0,733.0 L1000.0,720.0 L1030.0,705.0 L1059.6,683.0" fill="none" stroke="#0041ff" stroke-width="2.91" stroke-dasharray="1.2,3.2" stroke-dashoffset="4.9" transform="translate(0.18,-0.41)"/>
<path d="M947.0,742.0 L970.0,733.0 L1000.0,720.0 L1030.0,705.0 L1059.6,683.0" fill="none" stroke="#00adff" stroke-width="1.95" stroke-dasharray="1.1,3.6" stroke-dashoffset="5.7" transform="translate(0.60,-0.55)"/>
<path d="M947.0,742.0 L970.0,733.0 L1000.0,720.0 L1030.0,705.0 L1059.6,683.0" fill="none" stroke="#d6ff28" stroke-width="2.68" stroke-dasharray="1.0,3.5" stroke-dashoffset="2.7" transform="translate(0.22,0.19)"/>
<path d="M947.0,742.0 L970.0,733.0 L1000.0,720.0 L1030.0,705.0 L1059.6,683.0" fill="none" stroke="#0033ff" stroke-width="3.20" stroke-dasharray="0.7,5.2" stroke-dashoffset="5.8" transform="translate(0.14,-0.55)"/>
<path d="M947.0,742.0 L970.0,733.0 L1000.0,720.0 L1030.0,705.0 L1059.6,683.0" fill="none" stroke="#8eff71" stroke-width="2.15" stroke-dasharray="1.5,3.6" stroke-dashoffset="5.4" transform="translate(-0.22,0.06)"/>
<path d="M947.0,742.0 L970.0,733.0 L1000.0,720.0 L1030.0,705.0 L1059.6,683.0" fill="none" stroke="#2affd4" stroke-width="2.52" stroke-dasharray="1.0,2.7" stroke-dashoffset="5.1" transform="translate(-0.41,-0.33)"/>
<path d="M947.0,742.0 L970.0,733.0 L1000.0,720.0 L1030.0,705.0 L1059.6,683.0" fill="none" stroke="#00f5ff" stroke-width="2.65" stroke-dasharray="1.1,5.4" stroke-dashoffset="3.2" transform="translate(0.43,-0.42)"/>
<path d="M947.0,742.0 L970.0,733.0 L1000.0,720.0 L1030.0,705.0 L1059.6,683.0" fill="none" stroke="#43ffbb" stroke-width="2.55" stroke-dasharray="1.2,3.8" stroke-dashoffset="0.7" transform="translate(0.33,-0.48)"/>
<path d="M947.0,742.0 L970.0,733.0 L1000.0,720.0 L1030.0,705.0 L1059.6,683.0" fill="none" stroke="#e3ff1b" stroke-width="2.23" stroke-dasharray="1.5,4.0" stroke-dashoffset="1.5" transform="translate(-0.27,0.14)"/>
<rect x="1078.00" y="753.60" width="22.00" height="3.50" fill="#fff"/>
<rect x="633" y="790" width="473" height="24" fill="url(#jet)" stroke="#222" stroke-width="1.2"/>
<rect x="633.00" y="790.00" width="5.00" height="24.00" fill="#000"/>
<text x="633.00" y="836.70" text-anchor="middle">4.2</text>
<line x1="700.57" y1="809.50" x2="700.57" y2="814.00" stroke="#333" stroke-width="1.2"/>
<text x="700.57" y="836.70" text-anchor="middle">4.4</text>
<line x1="768.14" y1="809.50" x2="768.14" y2="814.00" stroke="#333" stroke-width="1.2"/>
<text x="768.14" y="836.70" text-anchor="middle">4.6</text>
<line x1="835.71" y1="809.50" x2="835.71" y2="814.00" stroke="#333" stroke-width="1.2"/>
<text x="835.71" y="836.70" text-anchor="middle">4.8</text>
<line x1="903.28" y1="809.50" x2="903.28" y2="814.00" stroke="#333" stroke-width="1.2"/>
<text x="903.28" y="836.70" text-anchor="middle">5.0</text>
<line x1="970.85" y1="809.50" x2="970.85" y2="814.00" stroke="#333" stroke-width="1.2"/>
<text x="970.85" y="836.70" text-anchor="middle">5.2</text>
<line x1="1038.42" y1="809.50" x2="1038.42" y2="814.00" stroke="#333" stroke-width="1.2"/>
<text x="1038.42" y="836.70" text-anchor="middle">5.4</text>
<text x="1105.99" y="836.70" text-anchor="middle">5.6</text>
<text x="866.00" y="869.60" text-anchor="middle">Lifetime (ns)</text>
<text x="657.50" y="1560.40" font-size="33" font-weight="bold" stroke="#000" stroke-width="1.1">o</text>
<text x="915.00" y="1607.60" text-anchor="middle">0.77 cP</text>
<text x="1386.40" y="1607.60" text-anchor="middle">8 cP</text>
<rect x="680.80" y="1620.10" width="449.60" height="73.60" fill="#0a0001"/>
<rect x="1142.80" y="1620.10" width="450.20" height="73.60" fill="#0a0001"/>
<rect x="680.80" y="1701.70" width="449.60" height="73.30" fill="#000900"/>
<rect x="1142.80" y="1701.70" width="450.20" height="73.30" fill="#000900"/>
<rect x="680.80" y="1783.50" width="449.60" height="73.30" fill="#020002"/>
<rect x="1142.80" y="1783.50" width="450.20" height="73.30" fill="#020002"/>
<rect x="680.80" y="1864.30" width="449.60" height="73.30" fill="#010801"/>
<rect x="1142.80" y="1864.30" width="450.20" height="73.30" fill="#010801"/>
<text x="694.60" y="1649.00" font-size="21" fill="#ff1414">Actin</text>
<text x="694.60" y="1730.70" font-size="21" fill="#1ee61e">Ezrin</text>
<text x="693.50" y="1818.20" font-size="21" fill="#f02af0">NHE1</text>
<text x="693.50" y="1892.00" font-size="21" fill="#fff">Merged</text>
<rect x="692.50" y="1679.60" width="84.00" height="4.00" fill="#fff"/>
<rect x="1153.20" y="1681.70" width="83.40" height="4.00" fill="#fff"/>
<text x="1009.10" y="1974.10" font-size="21.1">Direction of migration</text>
<line x1="1222.80" y1="1969.30" x2="1340.00" y2="1969.30" stroke="#000" stroke-width="2"/>
<path d="M1345,1969.3 L1333,1963.8 L1335.5,1969.3 L1333,1974.8 Z" fill="#000"/>
<g filter="url(#bl1)">
<path d="M830,1644.5 L985,1644 L975,1671 L832,1671.5 C826,1668 825,1650 830,1644.5 Z" fill="#0a0000" stroke="#d00000" stroke-width="1.1"/>
<path d="M952,1671 L960,1662 L966,1651 L972,1646 L990,1645.5 L986,1652 L979,1660 L972,1668 L966,1671.5 Z" fill="#ff1010"/>
<circle cx="884.6" cy="1657" r="6" fill="none" stroke="#d01010" stroke-width="1.6"/>
<path d="M828,1647 L838,1646 L836,1660 L840,1670 L830,1670 Z" fill="#c80000"/>
<path d="M800,1656 L832,1654 M806,1659 L834,1658 M812,1652 L832,1651 M905,1668 L935,1664" stroke="#900000" stroke-width="0.9"/>
<circle cx="876" cy="1661" r="1.5" fill="#d00000"/><circle cx="897" cy="1657" r="1.2" fill="#c00000"/>
</g>
<g filter="url(#bl2)" opacity="0.55">
<path d="M830,1725.8 L985,1725.3 L975,1752.3 L832,1752.8 C826,1749.3 825,1731.3 830,1725.8 Z" fill="#0e500e"/>
<path d="M830,1808.2 L985,1807.7 L975,1834.7 L832,1835.2 C826,1831.7 825,1813.7 830,1808.2 Z" fill="#501050"/>
<path d="M830,1889.4 L985,1888.9 L975,1915.9 L832,1916.4 C826,1912.9 825,1894.9 830,1889.4 Z" fill="#4a104a"/>
</g>
<g filter="url(#spk)">
<path d="M830,1725.8 L985,1725.3 L975,1752.3 L832,1752.8 C826,1749.3 825,1731.3 830,1725.8 Z" fill="#1f8c1f"/>
<path d="M830,1808.2 L985,1807.7 L975,1834.7 L832,1835.2 C826,1831.7 825,1813.7 830,1808.2 Z" fill="#d040e0"/>
<path d="M830,1889.4 L985,1888.9 L975,1915.9 L832,1916.4 C826,1912.9 825,1894.9 830,1889.4 Z" fill="#c838d8"/>
</g>
<g filter="url(#bl1)">
<path d="M975,1726.3 C982,1725.3 990,1726.3 988,1731.3 C982,1735.3 978,1733.3 976,1739.3 C975,1744.3 970,1749.3 962,1751.3 C958,1747.3 962,1743.3 968,1741.3 C970,1735.3 972,1729.3 975,1726.3 Z" fill="#40ff40"/>
<path d="M975,1889.9 C982,1888.9 990,1889.9 988,1894.9 C982,1898.9 978,1896.9 976,1902.9 C975,1907.9 970,1912.9 962,1914.9 C958,1910.9 962,1906.9 968,1904.9 C970,1898.9 972,1892.9 975,1889.9 Z" fill="#40ff40"/>
<path d="M966,1911 C970,1908 973,1905 975,1901 L972,1900 C968,1905 965,1908 963,1911 Z" fill="#e8ffe8"/>
</g>
<g filter="url(#bl1)">
<path d="M1162,1668 C1230,1666 1300,1662 1350,1657 C1375,1654 1385,1648 1398,1646.5 L1528,1646.5 L1522,1655 L1515,1668.5 L1380,1669 Z" fill="#280000" stroke="#c00000" stroke-width="1.2"/>
<path d="M1162,1668 C1250,1666 1320,1661 1360,1656 C1380,1652 1390,1647 1400,1646.5" fill="none" stroke="#ff1010" stroke-width="2.4"/>
<path d="M1507,1647 L1515,1647 L1516,1668 L1507,1668 Z" fill="#ff1515"/>
<path d="M1515,1668 L1564,1668.5" stroke="#a00000" stroke-width="1.2"/>
<circle cx="1313" cy="1660" r="3" fill="#e00000"/>
</g>
<g filter="url(#bl2)" opacity="0.5">
<path d="M1162,1749.3 C1230,1747.3 1300,1743.3 1350,1738.3 C1375,1735.3 1385,1729.3 1398,1727.8 L1528,1727.8 L1522,1736.3 L1515,1749.8 L1380,1750.3 Z" fill="#0a400a"/>
<path d="M1162,1831.7 C1230,1829.7 1300,1825.7 1350,1820.7 C1375,1817.7 1385,1811.7 1398,1810.2 L1528,1810.2 L1522,1818.7 L1515,1832.2 L1380,1832.7 Z" fill="#501050"/>
<path d="M1162,1912.9 C1230,1910.9 1300,1906.9 1350,1901.9 C1375,1898.9 1385,1892.9 1398,1891.4 L1528,1891.4 L1522,1899.9 L1515,1913.4 L1380,1913.9 Z" fill="#4a104a"/>
</g>
<g filter="url(#spk)">
<path d="M1162,1749.3 C1230,1747.3 1300,1743.3 1350,1738.3 C1375,1735.3 1385,1729.3 1398,1727.8 L1528,1727.8 L1522,1736.3 L1515,1749.8 L1380,1750.3 Z" fill="#1a7a1a"/>
<path d="M1162,1831.7 C1230,1829.7 1300,1825.7 1350,1820.7 C1375,1817.7 1385,1811.7 1398,1810.2 L1528,1810.2 L1522,1818.7 L1515,1832.2 L1380,1832.7 Z" fill="#d040e0"/>
<path d="M1162,1912.9 C1230,1910.9 1300,1906.9 1350,1901.9 C1375,1898.9 1385,1892.9 1398,1891.4 L1528,1891.4 L1522,1899.9 L1515,1913.4 L1380,1913.9 Z" fill="#c838d8"/>
</g>
<g filter="url(#bl1)">
<path d="M1505,1731.3 L1516,1730.3 L1517,1749.3 L1505,1749.3 Z" fill="#30ff30"/>
<path d="M1516,1749.8 L1564,1750.8" stroke="#30ff30" stroke-width="2.4"/>
<path d="M1505,1894.9 L1516,1893.9 L1517,1912.9 L1505,1912.9 Z" fill="#40ff40"/>
<path d="M1516,1913.4 L1564,1914.4" stroke="#40ff40" stroke-width="2.4"/>
<path d="M1445,1811.2 L1468,1811.2 L1472,1821.7 L1466,1831.7 L1444,1831.7 L1441,1821.7 Z" fill="#ff30ff"/>
<path d="M1506,1812.7 L1515,1812.7 L1515,1831.7 L1506,1831.7 Z" fill="#ff40ff"/>
<path d="M1445,1892.4 L1468,1892.4 L1472,1902.9 L1466,1912.9 L1444,1912.9 L1441,1902.9 Z" fill="#ff30ff"/>
<path d="M1506,1893.9 L1515,1893.9 L1515,1912.9 L1506,1912.9 Z" fill="#ff40ff"/>
<path d="M1508,1894 L1514,1894 L1514,1911 L1508,1911 Z" fill="#ffffff" opacity="0.8"/>
</g>
<text x="2.50" y="24.20" font-size="33" font-weight="bold" stroke="#000" stroke-width="1.1">a</text>
<rect x="153.00" y="19.40" width="18.60" height="19.40" fill="#ff8080"/>
<text x="180.30" y="36.90" font-size="21">0.77 cP</text>
<rect x="318.60" y="19.40" width="18.20" height="19.40" fill="#8f8fff"/>
<text x="344.00" y="36.90" font-size="21">8 cP</text>
<rect x="158.40" y="240.50" width="47.60" height="106.40" fill="#fca0a0"/>
<rect x="217.60" y="199.30" width="47.70" height="147.60" fill="#8f8fff"/>
<rect x="289.00" y="257.70" width="47.60" height="89.20" fill="#fca0a0"/>
<rect x="348.20" y="217.59" width="47.70" height="129.31" fill="#8f8fff"/>
<circle cx="182.20" cy="117.22" r="3.10"/>
<circle cx="182.20" cy="167.46" r="3.10"/>
<circle cx="182.20" cy="190.43" r="3.10"/>
<circle cx="179.20" cy="197.61" r="3.10"/>
<circle cx="186.70" cy="199.04" r="3.10"/>
<circle cx="182.20" cy="219.14" r="3.10"/>
<circle cx="189.70" cy="220.58" r="3.10"/>
<circle cx="174.70" cy="223.45" r="3.10"/>
<circle cx="182.20" cy="229.19" r="3.10"/>
<circle cx="189.70" cy="230.62" r="3.10"/>
<circle cx="176.20" cy="234.93" r="3.10"/>
<circle cx="168.70" cy="236.37" r="3.10"/>
<circle cx="182.20" cy="253.59" r="3.10"/>
<circle cx="174.70" cy="255.03" r="3.10"/>
<circle cx="189.70" cy="257.90" r="3.10"/>
<circle cx="182.20" cy="262.21" r="3.10"/>
<circle cx="189.70" cy="266.51" r="3.10"/>
<circle cx="176.20" cy="267.95" r="3.10"/>
<circle cx="168.70" cy="269.38" r="3.10"/>
<circle cx="182.20" cy="273.69" r="3.10"/>
<circle cx="189.70" cy="275.12" r="3.10"/>
<circle cx="174.70" cy="276.56" r="3.10"/>
<circle cx="197.20" cy="278.00" r="3.10"/>
<circle cx="167.20" cy="280.87" r="3.10"/>
<circle cx="182.20" cy="288.04" r="3.10"/>
<circle cx="241.50" cy="127.27" r="3.10"/>
<circle cx="234.00" cy="128.70" r="3.10"/>
<circle cx="241.50" cy="137.32" r="3.10"/>
<circle cx="234.00" cy="138.75" r="3.10"/>
<circle cx="241.50" cy="160.28" r="3.10"/>
<circle cx="234.00" cy="160.28" r="3.10"/>
<circle cx="241.50" cy="171.77" r="3.10"/>
<circle cx="234.00" cy="174.64" r="3.10"/>
<circle cx="244.50" cy="178.95" r="3.10"/>
<circle cx="252.00" cy="178.95" r="3.10"/>
<circle cx="241.50" cy="197.61" r="3.10"/>
<circle cx="234.00" cy="199.04" r="3.10"/>
<circle cx="249.00" cy="199.04" r="3.10"/>
<circle cx="226.50" cy="203.35" r="3.10"/>
<circle cx="256.50" cy="203.35" r="3.10"/>
<circle cx="241.50" cy="209.09" r="3.10"/>
<circle cx="247.50" cy="214.83" r="3.10"/>
<circle cx="235.50" cy="214.83" r="3.10"/>
<circle cx="255.00" cy="217.70" r="3.10"/>
<circle cx="241.50" cy="222.01" r="3.10"/>
<circle cx="249.00" cy="223.45" r="3.10"/>
<circle cx="241.50" cy="230.62" r="3.10"/>
<circle cx="249.00" cy="234.93" r="3.10"/>
<circle cx="235.50" cy="236.37" r="3.10"/>
<circle cx="243.00" cy="240.67" r="3.10"/>
<circle cx="235.50" cy="244.98" r="3.10"/>
<circle cx="249.00" cy="246.41" r="3.10"/>
<circle cx="241.50" cy="262.21" r="3.10"/>
<circle cx="312.80" cy="213.40" r="3.10"/>
<circle cx="306.80" cy="219.14" r="3.10"/>
<circle cx="312.80" cy="224.88" r="3.10"/>
<circle cx="309.80" cy="232.06" r="3.10"/>
<circle cx="312.80" cy="240.67" r="3.10"/>
<circle cx="305.30" cy="243.54" r="3.10"/>
<circle cx="318.80" cy="246.41" r="3.10"/>
<circle cx="326.30" cy="246.41" r="3.10"/>
<circle cx="312.80" cy="252.16" r="3.10"/>
<circle cx="305.30" cy="253.59" r="3.10"/>
<circle cx="321.80" cy="253.59" r="3.10"/>
<circle cx="297.80" cy="255.03" r="3.10"/>
<circle cx="315.80" cy="259.33" r="3.10"/>
<circle cx="327.80" cy="259.33" r="3.10"/>
<circle cx="335.30" cy="259.33" r="3.10"/>
<circle cx="308.30" cy="263.64" r="3.10"/>
<circle cx="321.80" cy="265.08" r="3.10"/>
<circle cx="300.80" cy="266.51" r="3.10"/>
<circle cx="314.30" cy="269.38" r="3.10"/>
<circle cx="327.80" cy="270.82" r="3.10"/>
<circle cx="308.30" cy="275.12" r="3.10"/>
<circle cx="315.80" cy="278.00" r="3.10"/>
<circle cx="323.30" cy="279.43" r="3.10"/>
<circle cx="302.30" cy="280.87" r="3.10"/>
<circle cx="330.80" cy="282.30" r="3.10"/>
<circle cx="309.80" cy="283.74" r="3.10"/>
<circle cx="294.80" cy="283.74" r="3.10"/>
<circle cx="287.30" cy="285.17" r="3.10"/>
<circle cx="317.30" cy="288.04" r="3.10"/>
<circle cx="306.80" cy="290.92" r="3.10"/>
<circle cx="372.00" cy="117.22" r="3.10"/>
<circle cx="372.00" cy="130.14" r="3.10"/>
<circle cx="379.50" cy="131.57" r="3.10"/>
<circle cx="372.00" cy="174.64" r="3.10"/>
<circle cx="372.00" cy="183.25" r="3.10"/>
<circle cx="364.50" cy="183.25" r="3.10"/>
<circle cx="372.00" cy="191.87" r="3.10"/>
<circle cx="364.50" cy="193.30" r="3.10"/>
<circle cx="379.50" cy="193.30" r="3.10"/>
<circle cx="357.00" cy="197.61" r="3.10"/>
<circle cx="387.00" cy="197.61" r="3.10"/>
<circle cx="372.00" cy="206.22" r="3.10"/>
<circle cx="379.50" cy="207.66" r="3.10"/>
<circle cx="364.50" cy="209.09" r="3.10"/>
<circle cx="385.50" cy="213.40" r="3.10"/>
<circle cx="372.00" cy="219.14" r="3.10"/>
<circle cx="379.50" cy="223.45" r="3.10"/>
<circle cx="364.50" cy="223.45" r="3.10"/>
<circle cx="387.00" cy="226.32" r="3.10"/>
<circle cx="372.00" cy="230.62" r="3.10"/>
<circle cx="361.50" cy="230.62" r="3.10"/>
<circle cx="378.00" cy="236.37" r="3.10"/>
<circle cx="370.50" cy="239.24" r="3.10"/>
<circle cx="363.00" cy="243.54" r="3.10"/>
<circle cx="372.00" cy="252.16" r="3.10"/>
<circle cx="364.50" cy="253.59" r="3.10"/>
<circle cx="379.50" cy="253.59" r="3.10"/>
<circle cx="357.00" cy="255.03" r="3.10"/>
<circle cx="385.50" cy="259.33" r="3.10"/>
<circle cx="372.00" cy="272.25" r="3.10"/>
<circle cx="379.50" cy="273.69" r="3.10"/>
<circle cx="369.00" cy="279.43" r="3.10"/>
<circle cx="361.50" cy="279.43" r="3.10"/>
<circle cx="376.50" cy="282.30" r="3.10"/>
<line x1="182.20" y1="200.60" x2="182.20" y2="280.00" stroke="#ff0000" stroke-width="4"/>
<line x1="170.20" y1="200.60" x2="194.20" y2="200.60" stroke="#ff0000" stroke-width="4"/>
<line x1="170.20" y1="280.00" x2="194.20" y2="280.00" stroke="#ff0000" stroke-width="4"/>
<line x1="241.50" y1="161.90" x2="241.50" y2="236.20" stroke="#ff0000" stroke-width="4"/>
<line x1="229.50" y1="161.90" x2="253.50" y2="161.90" stroke="#ff0000" stroke-width="4"/>
<line x1="229.50" y1="236.20" x2="253.50" y2="236.20" stroke="#ff0000" stroke-width="4"/>
<line x1="312.80" y1="236.50" x2="312.80" y2="278.70" stroke="#ff0000" stroke-width="4"/>
<line x1="300.80" y1="236.50" x2="324.80" y2="236.50" stroke="#ff0000" stroke-width="4"/>
<line x1="300.80" y1="278.70" x2="324.80" y2="278.70" stroke="#ff0000" stroke-width="4"/>
<line x1="372.00" y1="176.40" x2="372.00" y2="259.40" stroke="#ff0000" stroke-width="4"/>
<line x1="360.00" y1="176.40" x2="384.00" y2="176.40" stroke="#ff0000" stroke-width="4"/>
<line x1="360.00" y1="259.40" x2="384.00" y2="259.40" stroke="#ff0000" stroke-width="4"/>
<line x1="134.85" y1="59.80" x2="134.85" y2="347.90" stroke="#000" stroke-width="2"/>
<line x1="126.25" y1="346.90" x2="135.85" y2="346.90" stroke="#000" stroke-width="2"/>
<text x="117.65" y="355.80" font-size="20" text-anchor="end">0</text>
<line x1="126.25" y1="289.48" x2="135.85" y2="289.48" stroke="#000" stroke-width="2"/>
<text x="117.65" y="298.38" font-size="20" text-anchor="end">2,000</text>
<line x1="126.25" y1="232.06" x2="135.85" y2="232.06" stroke="#000" stroke-width="2"/>
<text x="117.65" y="240.96" font-size="20" text-anchor="end">4,000</text>
<line x1="126.25" y1="174.64" x2="135.85" y2="174.64" stroke="#000" stroke-width="2"/>
<text x="117.65" y="183.54" font-size="20" text-anchor="end">6,000</text>
<line x1="126.25" y1="117.22" x2="135.85" y2="117.22" stroke="#000" stroke-width="2"/>
<text x="117.65" y="126.12" font-size="20" text-anchor="end">8,000</text>
<line x1="126.25" y1="59.80" x2="135.85" y2="59.80" stroke="#000" stroke-width="2"/>
<text x="117.65" y="68.70" font-size="20" text-anchor="end">10,000</text>
<line x1="134.00" y1="346.90" x2="421.00" y2="346.90" stroke="#000" stroke-width="2"/>
<line x1="182.20" y1="346.90" x2="182.20" y2="354.90" stroke="#000" stroke-width="2"/>
<line x1="241.50" y1="346.90" x2="241.50" y2="354.90" stroke="#000" stroke-width="2"/>
<line x1="312.80" y1="346.90" x2="312.80" y2="354.90" stroke="#000" stroke-width="2"/>
<line x1="372.00" y1="346.90" x2="372.00" y2="354.90" stroke="#000" stroke-width="2"/>
<polyline points="182.00,362.50 182.00,366.00 241.60,366.00 241.60,362.50" fill="none" stroke="#000" stroke-width="2"/>
<polyline points="312.80,362.50 312.80,366.00 372.00,366.00 372.00,362.50" fill="none" stroke="#000" stroke-width="2"/>
<text x="212.00" y="389.70" text-anchor="middle">2D</text>
<text x="344.70" y="389.70" text-anchor="middle">Confinement</text>
<polyline points="180.00,101.50 180.00,96.40 241.00,96.40 241.00,101.50" fill="none" stroke="#000" stroke-width="2" stroke-linejoin="miter" stroke-linecap="butt"/>
<polyline points="310.00,101.50 310.00,96.40 371.60,96.40 371.60,101.50" fill="none" stroke="#000" stroke-width="2" stroke-linejoin="miter" stroke-linecap="butt"/>
<text x="210.50" y="95.30" font-size="24" text-anchor="middle" letter-spacing="1.2">****</text>
<text x="341.00" y="95.30" font-size="24" text-anchor="middle" letter-spacing="1.2">****</text>
<text x="27.20" y="196.60" text-anchor="middle" transform="rotate(-90 27.20 196.60)">Cell volume (µm<tspan dy="-7" font-size="13">3</tspan><tspan dy="7">)</tspan></text>
<text x="1032.00" y="23.75" font-size="33" font-weight="bold" stroke="#000" stroke-width="1.1">c</text>
<line x1="1130.00" y1="311.12" x2="1267.50" y2="311.12" stroke="#000" stroke-width="5" stroke-dasharray="11,6"/>
<circle cx="1167.50" cy="251.93" r="4.70" fill="none" stroke="#000" stroke-width="3.3"/>
<circle cx="1167.50" cy="271.66" r="4.70" fill="none" stroke="#000" stroke-width="3.3"/>
<circle cx="1175.00" cy="273.46" r="4.70" fill="none" stroke="#000" stroke-width="3.3"/>
<circle cx="1160.00" cy="275.25" r="4.70" fill="none" stroke="#000" stroke-width="3.3"/>
<circle cx="1182.50" cy="277.04" r="4.70" fill="none" stroke="#000" stroke-width="3.3"/>
<circle cx="1152.50" cy="278.84" r="4.70" fill="none" stroke="#000" stroke-width="3.3"/>
<circle cx="1167.50" cy="280.63" r="4.70" fill="none" stroke="#000" stroke-width="3.3"/>
<circle cx="1175.00" cy="282.43" r="4.70" fill="none" stroke="#000" stroke-width="3.3"/>
<circle cx="1160.00" cy="284.22" r="4.70" fill="none" stroke="#000" stroke-width="3.3"/>
<circle cx="1182.50" cy="285.30" r="4.70" fill="none" stroke="#000" stroke-width="3.3"/>
<circle cx="1152.50" cy="286.73" r="4.70" fill="none" stroke="#000" stroke-width="3.3"/>
<circle cx="1166.66" cy="287.81" r="4.70" fill="none" stroke="#000" stroke-width="3.3"/>
<circle cx="1174.12" cy="289.60" r="4.70" fill="none" stroke="#000" stroke-width="3.3"/>
<circle cx="1158.88" cy="291.39" r="4.70" fill="none" stroke="#000" stroke-width="3.3"/>
<circle cx="1182.50" cy="293.19" r="4.70" fill="none" stroke="#000" stroke-width="3.3"/>
<circle cx="1150.00" cy="294.98" r="4.70" fill="none" stroke="#000" stroke-width="3.3"/>
<circle cx="1167.50" cy="296.77" r="4.70" fill="none" stroke="#000" stroke-width="3.3"/>
<circle cx="1175.00" cy="298.57" r="4.70" fill="none" stroke="#000" stroke-width="3.3"/>
<circle cx="1160.00" cy="300.36" r="4.70" fill="none" stroke="#000" stroke-width="3.3"/>
<circle cx="1152.50" cy="302.16" r="4.70" fill="none" stroke="#000" stroke-width="3.3"/>
<circle cx="1182.50" cy="303.95" r="4.70" fill="none" stroke="#000" stroke-width="3.3"/>
<circle cx="1167.50" cy="305.74" r="4.70" fill="none" stroke="#000" stroke-width="3.3"/>
<circle cx="1175.00" cy="307.54" r="4.70" fill="none" stroke="#000" stroke-width="3.3"/>
<circle cx="1228.75" cy="113.81" r="4.70" fill="none" stroke="#000" stroke-width="3.3"/>
<circle cx="1228.75" cy="160.45" r="4.70" fill="none" stroke="#000" stroke-width="3.3"/>
<circle cx="1228.75" cy="192.74" r="4.70" fill="none" stroke="#000" stroke-width="3.3"/>
<circle cx="1228.75" cy="201.71" r="4.70" fill="none" stroke="#000" stroke-width="3.3"/>
<circle cx="1236.25" cy="205.29" r="4.70" fill="none" stroke="#000" stroke-width="3.3"/>
<circle cx="1228.75" cy="212.47" r="4.70" fill="none" stroke="#000" stroke-width="3.3"/>
<circle cx="1228.75" cy="250.14" r="4.70" fill="none" stroke="#000" stroke-width="3.3"/>
<circle cx="1221.25" cy="253.72" r="4.70" fill="none" stroke="#000" stroke-width="3.3"/>
<circle cx="1231.25" cy="257.31" r="4.70" fill="none" stroke="#000" stroke-width="3.3"/>
<circle cx="1238.75" cy="259.11" r="4.70" fill="none" stroke="#000" stroke-width="3.3"/>
<circle cx="1223.75" cy="260.90" r="4.70" fill="none" stroke="#000" stroke-width="3.3"/>
<circle cx="1216.25" cy="264.49" r="4.70" fill="none" stroke="#000" stroke-width="3.3"/>
<circle cx="1246.25" cy="264.49" r="4.70" fill="none" stroke="#000" stroke-width="3.3"/>
<circle cx="1231.25" cy="266.28" r="4.70" fill="none" stroke="#000" stroke-width="3.3"/>
<circle cx="1238.75" cy="268.07" r="4.70" fill="none" stroke="#000" stroke-width="3.3"/>
<circle cx="1208.75" cy="268.07" r="4.70" fill="none" stroke="#000" stroke-width="3.3"/>
<circle cx="1223.75" cy="269.87" r="4.70" fill="none" stroke="#000" stroke-width="3.3"/>
<circle cx="1248.75" cy="271.66" r="4.70" fill="none" stroke="#000" stroke-width="3.3"/>
<circle cx="1216.25" cy="273.46" r="4.70" fill="none" stroke="#000" stroke-width="3.3"/>
<circle cx="1231.25" cy="275.25" r="4.70" fill="none" stroke="#000" stroke-width="3.3"/>
<circle cx="1238.75" cy="277.04" r="4.70" fill="none" stroke="#000" stroke-width="3.3"/>
<circle cx="1223.75" cy="278.84" r="4.70" fill="none" stroke="#000" stroke-width="3.3"/>
<circle cx="1213.75" cy="280.63" r="4.70" fill="none" stroke="#000" stroke-width="3.3"/>
<circle cx="1246.25" cy="282.43" r="4.70" fill="none" stroke="#000" stroke-width="3.3"/>
<circle cx="1231.25" cy="284.22" r="4.70" fill="none" stroke="#000" stroke-width="3.3"/>
<circle cx="1223.75" cy="289.60" r="4.70" fill="none" stroke="#000" stroke-width="3.3"/>
<circle cx="1231.25" cy="293.19" r="4.70" fill="none" stroke="#000" stroke-width="3.3"/>
<circle cx="1238.75" cy="294.98" r="4.70" fill="none" stroke="#000" stroke-width="3.3"/>
<circle cx="1228.75" cy="303.95" r="4.70" fill="none" stroke="#000" stroke-width="3.3"/>
<line x1="1167.50" y1="272.50" x2="1167.50" y2="301.25" stroke="#ff0000" stroke-width="4"/>
<line x1="1158.00" y1="272.50" x2="1177.00" y2="272.50" stroke="#ff0000" stroke-width="4"/>
<line x1="1158.00" y1="301.25" x2="1177.00" y2="301.25" stroke="#ff0000" stroke-width="4"/>
<line x1="1147.25" y1="287.00" x2="1187.75" y2="287.00" stroke="#ff0000" stroke-width="4"/>
<line x1="1228.75" y1="196.25" x2="1228.75" y2="292.50" stroke="#ff0000" stroke-width="4"/>
<line x1="1219.00" y1="196.25" x2="1238.50" y2="196.25" stroke="#ff0000" stroke-width="4"/>
<line x1="1219.00" y1="292.50" x2="1238.50" y2="292.50" stroke="#ff0000" stroke-width="4"/>
<line x1="1208.38" y1="245.00" x2="1249.12" y2="245.00" stroke="#ff0000" stroke-width="4"/>
<line x1="1127.50" y1="60.00" x2="1127.50" y2="348.00" stroke="#000" stroke-width="2"/>
<line x1="1119.50" y1="347.00" x2="1128.50" y2="347.00" stroke="#000" stroke-width="2"/>
<text x="1112.30" y="355.90" font-size="20" text-anchor="end">0</text>
<line x1="1119.50" y1="275.25" x2="1128.50" y2="275.25" stroke="#000" stroke-width="2"/>
<text x="1112.30" y="284.15" font-size="20" text-anchor="end">2</text>
<line x1="1119.50" y1="203.50" x2="1128.50" y2="203.50" stroke="#000" stroke-width="2"/>
<text x="1112.30" y="212.40" font-size="20" text-anchor="end">4</text>
<line x1="1119.50" y1="131.75" x2="1128.50" y2="131.75" stroke="#000" stroke-width="2"/>
<text x="1112.30" y="140.65" font-size="20" text-anchor="end">6</text>
<line x1="1119.50" y1="60.00" x2="1128.50" y2="60.00" stroke="#000" stroke-width="2"/>
<text x="1112.30" y="68.90" font-size="20" text-anchor="end">8</text>
<line x1="1126.50" y1="347.00" x2="1270.75" y2="347.00" stroke="#000" stroke-width="2"/>
<line x1="1167.50" y1="347.00" x2="1167.50" y2="355.00" stroke="#000" stroke-width="2"/>
<line x1="1228.75" y1="347.00" x2="1228.75" y2="355.00" stroke="#000" stroke-width="2"/>
<text x="1167.50" y="375.00" text-anchor="middle">0.77</text>
<text x="1228.75" y="375.00" text-anchor="middle">8</text>
<text x="1195.00" y="403.75" text-anchor="middle">Viscosity (cP)</text>
<text x="1054.50" y="198.60" text-anchor="middle" transform="rotate(-90 1054.50 198.60)">Front-to-rear ratio</text>
<text x="1080.50" y="198.60" text-anchor="middle" transform="rotate(-90 1080.50 198.60)">of NHE1 intensity</text>
<polyline points="1167.50,108.75 1167.50,63.75 1228.75,63.75 1228.75,76.25" fill="none" stroke="#000" stroke-width="2"/>
<text x="1200.00" y="60.20" font-size="24" text-anchor="middle" letter-spacing="1.2">***</text>
<text x="1353.50" y="23.75" font-size="33" font-weight="bold" stroke="#000" stroke-width="1.1">d</text>
<rect x="1501.25" y="300.75" width="40.75" height="44.75" fill="#fca0a0"/>
<rect x="1563.00" y="243.00" width="40.25" height="102.50" fill="#8f8fff"/>
<circle cx="1521.75" cy="228.20" r="2.95" fill="none" stroke="#000" stroke-width="2.25"/>
<circle cx="1517.25" cy="233.95" r="2.95" fill="none" stroke="#000" stroke-width="2.25"/>
<circle cx="1523.25" cy="238.55" r="2.95" fill="none" stroke="#000" stroke-width="2.25"/>
<circle cx="1521.75" cy="274.20" r="2.95" fill="none" stroke="#000" stroke-width="2.25"/>
<circle cx="1529.25" cy="275.35" r="2.95" fill="none" stroke="#000" stroke-width="2.25"/>
<circle cx="1514.25" cy="276.50" r="2.95" fill="none" stroke="#000" stroke-width="2.25"/>
<circle cx="1535.25" cy="278.80" r="2.95" fill="none" stroke="#000" stroke-width="2.25"/>
<circle cx="1508.25" cy="279.95" r="2.95" fill="none" stroke="#000" stroke-width="2.25"/>
<circle cx="1521.75" cy="284.55" r="2.95" fill="none" stroke="#000" stroke-width="2.25"/>
<circle cx="1515.75" cy="288.00" r="2.95" fill="none" stroke="#000" stroke-width="2.25"/>
<circle cx="1526.25" cy="290.30" r="2.95" fill="none" stroke="#000" stroke-width="2.25"/>
<circle cx="1520.25" cy="293.75" r="2.95" fill="none" stroke="#000" stroke-width="2.25"/>
<circle cx="1524.75" cy="299.50" r="2.95" fill="none" stroke="#000" stroke-width="2.25"/>
<circle cx="1517.25" cy="301.80" r="2.95" fill="none" stroke="#000" stroke-width="2.25"/>
<circle cx="1530.75" cy="304.10" r="2.95" fill="none" stroke="#000" stroke-width="2.25"/>
<circle cx="1511.25" cy="305.25" r="2.95" fill="none" stroke="#000" stroke-width="2.25"/>
<circle cx="1521.75" cy="308.70" r="2.95" fill="none" stroke="#000" stroke-width="2.25"/>
<circle cx="1529.25" cy="311.00" r="2.95" fill="none" stroke="#000" stroke-width="2.25"/>
<circle cx="1515.75" cy="313.30" r="2.95" fill="none" stroke="#000" stroke-width="2.25"/>
<circle cx="1508.25" cy="314.45" r="2.95" fill="none" stroke="#000" stroke-width="2.25"/>
<circle cx="1521.75" cy="316.75" r="2.95" fill="none" stroke="#000" stroke-width="2.25"/>
<circle cx="1529.25" cy="319.05" r="2.95" fill="none" stroke="#000" stroke-width="2.25"/>
<circle cx="1515.75" cy="321.35" r="2.95" fill="none" stroke="#000" stroke-width="2.25"/>
<circle cx="1521.75" cy="324.80" r="2.95" fill="none" stroke="#000" stroke-width="2.25"/>
<circle cx="1529.25" cy="327.10" r="2.95" fill="none" stroke="#000" stroke-width="2.25"/>
<circle cx="1515.75" cy="328.25" r="2.95" fill="none" stroke="#000" stroke-width="2.25"/>
<circle cx="1508.25" cy="329.40" r="2.95" fill="none" stroke="#000" stroke-width="2.25"/>
<circle cx="1535.25" cy="330.55" r="2.95" fill="none" stroke="#000" stroke-width="2.25"/>
<circle cx="1521.75" cy="331.70" r="2.95" fill="none" stroke="#000" stroke-width="2.25"/>
<circle cx="1529.25" cy="334.00" r="2.95" fill="none" stroke="#000" stroke-width="2.25"/>
<circle cx="1515.75" cy="336.30" r="2.95" fill="none" stroke="#000" stroke-width="2.25"/>
<circle cx="1583.00" cy="106.30" r="2.95" fill="none" stroke="#000" stroke-width="2.25"/>
<circle cx="1583.00" cy="125.85" r="2.95" fill="none" stroke="#000" stroke-width="2.25"/>
<circle cx="1583.00" cy="160.35" r="2.95" fill="none" stroke="#000" stroke-width="2.25"/>
<circle cx="1583.00" cy="181.05" r="2.95" fill="none" stroke="#000" stroke-width="2.25"/>
<circle cx="1590.50" cy="181.05" r="2.95" fill="none" stroke="#000" stroke-width="2.25"/>
<circle cx="1583.00" cy="201.75" r="2.95" fill="none" stroke="#000" stroke-width="2.25"/>
<circle cx="1590.50" cy="202.90" r="2.95" fill="none" stroke="#000" stroke-width="2.25"/>
<circle cx="1583.00" cy="213.25" r="2.95" fill="none" stroke="#000" stroke-width="2.25"/>
<circle cx="1583.00" cy="228.20" r="2.95" fill="none" stroke="#000" stroke-width="2.25"/>
<circle cx="1575.50" cy="229.35" r="2.95" fill="none" stroke="#000" stroke-width="2.25"/>
<circle cx="1590.50" cy="230.50" r="2.95" fill="none" stroke="#000" stroke-width="2.25"/>
<circle cx="1569.50" cy="232.80" r="2.95" fill="none" stroke="#000" stroke-width="2.25"/>
<circle cx="1583.00" cy="236.25" r="2.95" fill="none" stroke="#000" stroke-width="2.25"/>
<circle cx="1575.50" cy="238.55" r="2.95" fill="none" stroke="#000" stroke-width="2.25"/>
<circle cx="1590.50" cy="238.55" r="2.95" fill="none" stroke="#000" stroke-width="2.25"/>
<circle cx="1568.00" cy="239.70" r="2.95" fill="none" stroke="#000" stroke-width="2.25"/>
<circle cx="1596.50" cy="242.00" r="2.95" fill="none" stroke="#000" stroke-width="2.25"/>
<circle cx="1583.00" cy="244.30" r="2.95" fill="none" stroke="#000" stroke-width="2.25"/>
<circle cx="1590.50" cy="245.45" r="2.95" fill="none" stroke="#000" stroke-width="2.25"/>
<circle cx="1583.00" cy="258.10" r="2.95" fill="none" stroke="#000" stroke-width="2.25"/>
<circle cx="1589.00" cy="262.70" r="2.95" fill="none" stroke="#000" stroke-width="2.25"/>
<circle cx="1583.00" cy="268.45" r="2.95" fill="none" stroke="#000" stroke-width="2.25"/>
<circle cx="1590.50" cy="269.60" r="2.95" fill="none" stroke="#000" stroke-width="2.25"/>
<circle cx="1578.50" cy="274.20" r="2.95" fill="none" stroke="#000" stroke-width="2.25"/>
<circle cx="1583.00" cy="284.55" r="2.95" fill="none" stroke="#000" stroke-width="2.25"/>
<circle cx="1583.00" cy="300.65" r="2.95" fill="none" stroke="#000" stroke-width="2.25"/>
<circle cx="1590.50" cy="300.65" r="2.95" fill="none" stroke="#000" stroke-width="2.25"/>
<circle cx="1577.00" cy="304.10" r="2.95" fill="none" stroke="#000" stroke-width="2.25"/>
<circle cx="1583.00" cy="307.55" r="2.95" fill="none" stroke="#000" stroke-width="2.25"/>
<circle cx="1583.00" cy="316.75" r="2.95" fill="none" stroke="#000" stroke-width="2.25"/>
<circle cx="1583.00" cy="329.40" r="2.95" fill="none" stroke="#000" stroke-width="2.25"/>
<line x1="1521.50" y1="271.25" x2="1521.50" y2="330.00" stroke="#ff0000" stroke-width="4"/>
<line x1="1511.50" y1="271.25" x2="1531.50" y2="271.25" stroke="#ff0000" stroke-width="4"/>
<line x1="1511.50" y1="330.00" x2="1531.50" y2="330.00" stroke="#ff0000" stroke-width="4"/>
<line x1="1583.00" y1="188.00" x2="1583.00" y2="298.00" stroke="#ff0000" stroke-width="4"/>
<line x1="1573.00" y1="188.00" x2="1593.00" y2="188.00" stroke="#ff0000" stroke-width="4"/>
<line x1="1573.00" y1="298.00" x2="1593.00" y2="298.00" stroke="#ff0000" stroke-width="4"/>
<line x1="1481.25" y1="58.00" x2="1481.25" y2="346.50" stroke="#000" stroke-width="2"/>
<line x1="1469.50" y1="345.50" x2="1482.25" y2="345.50" stroke="#000" stroke-width="2"/>
<text x="1463.00" y="354.40" font-size="20" text-anchor="end">0</text>
<line x1="1469.50" y1="288.00" x2="1482.25" y2="288.00" stroke="#000" stroke-width="2"/>
<text x="1463.00" y="296.90" font-size="20" text-anchor="end">0.05</text>
<line x1="1469.50" y1="230.50" x2="1482.25" y2="230.50" stroke="#000" stroke-width="2"/>
<text x="1463.00" y="239.40" font-size="20" text-anchor="end">0.10</text>
<line x1="1469.50" y1="173.00" x2="1482.25" y2="173.00" stroke="#000" stroke-width="2"/>
<text x="1463.00" y="181.90" font-size="20" text-anchor="end">0.15</text>
<line x1="1469.50" y1="115.50" x2="1482.25" y2="115.50" stroke="#000" stroke-width="2"/>
<text x="1463.00" y="124.40" font-size="20" text-anchor="end">0.20</text>
<line x1="1469.50" y1="58.00" x2="1482.25" y2="58.00" stroke="#000" stroke-width="2"/>
<text x="1463.00" y="66.90" font-size="20" text-anchor="end">0.25</text>
<line x1="1469.50" y1="345.50" x2="1625.75" y2="345.50" stroke="#000" stroke-width="2"/>
<line x1="1521.75" y1="345.50" x2="1521.75" y2="357.00" stroke="#000" stroke-width="2"/>
<line x1="1583.00" y1="345.50" x2="1583.00" y2="357.00" stroke="#000" stroke-width="2"/>
<text x="1521.75" y="378.75" text-anchor="middle">0.77</text>
<text x="1583.00" y="378.75" text-anchor="middle">8</text>
<text x="1550.00" y="407.50" text-anchor="middle">Viscosity (cP)</text>
<text x="1398.50" y="196.00" text-anchor="middle" transform="rotate(-90 1398.50 196.00)">Rate of pH recovery</text>
<polyline points="1521.25,201.25 1521.25,76.25 1583.00,76.25 1583.00,90.00" fill="none" stroke="#000" stroke-width="2"/>
<text x="1552.50" y="74.40" font-size="24" text-anchor="middle" letter-spacing="1.2">****</text>
<text x="1681.50" y="23.75" font-size="33" font-weight="bold" stroke="#000" stroke-width="1.1">e</text>
<rect x="1835.50" y="17.00" width="18.75" height="19.25" fill="#ff8080"/>
<text x="1861.75" y="30.40" font-size="21">0.77 cP</text>
<rect x="2000.50" y="17.00" width="18.25" height="19.25" fill="#8f8fff"/>
<text x="2025.50" y="30.40" font-size="21">8 cP</text>
<rect x="1840.00" y="240.50" width="43.75" height="101.00" fill="#fca0a0"/>
<rect x="1906.00" y="258.75" width="43.75" height="82.75" fill="#fca0a0"/>
<rect x="1972.00" y="215.50" width="44.00" height="126.00" fill="#8f8fff"/>
<rect x="2038.00" y="249.50" width="43.75" height="92.00" fill="#8f8fff"/>
<circle cx="1861.75" cy="138.44" r="2.90"/>
<circle cx="1861.75" cy="155.60" r="2.90"/>
<circle cx="1861.75" cy="175.62" r="2.90"/>
<circle cx="1861.75" cy="189.94" r="2.90"/>
<circle cx="1865.65" cy="194.64" r="2.90"/>
<circle cx="1860.45" cy="196.93" r="2.90"/>
<circle cx="1864.35" cy="201.18" r="2.90"/>
<circle cx="1857.85" cy="202.99" r="2.90"/>
<circle cx="1870.85" cy="203.10" r="2.90"/>
<circle cx="1861.75" cy="208.48" r="2.90"/>
<circle cx="1868.25" cy="209.96" r="2.90"/>
<circle cx="1855.25" cy="210.00" r="2.90"/>
<circle cx="1874.75" cy="210.13" r="2.90"/>
<circle cx="1848.75" cy="211.96" r="2.90"/>
<circle cx="1861.75" cy="217.77" r="2.90"/>
<circle cx="1855.25" cy="219.00" r="2.90"/>
<circle cx="1866.95" cy="220.05" r="2.90"/>
<circle cx="1873.45" cy="220.69" r="2.90"/>
<circle cx="1848.75" cy="220.82" r="2.90"/>
<circle cx="1879.95" cy="220.90" r="2.90"/>
<circle cx="1858.73" cy="221.05" r="2.90"/>
<circle cx="1843.55" cy="224.14" r="2.90"/>
<circle cx="1861.75" cy="226.31" r="2.90"/>
<circle cx="1855.25" cy="226.78" r="2.90"/>
<circle cx="1866.95" cy="228.58" r="2.90"/>
<circle cx="1851.35" cy="231.14" r="2.90"/>
<circle cx="1859.15" cy="231.65" r="2.90"/>
<circle cx="1869.55" cy="233.57" r="2.90"/>
<circle cx="1876.05" cy="233.89" r="2.90"/>
<circle cx="1846.15" cy="234.17" r="2.90"/>
<circle cx="1854.54" cy="234.27" r="2.90"/>
<circle cx="1863.60" cy="234.95" r="2.90"/>
<circle cx="1850.01" cy="235.41" r="2.90"/>
<circle cx="1879.52" cy="235.81" r="2.90"/>
<circle cx="1859.66" cy="238.31" r="2.90"/>
<circle cx="1871.54" cy="238.32" r="2.90"/>
<circle cx="1853.22" cy="239.05" r="2.90"/>
<circle cx="1843.55" cy="239.32" r="2.90"/>
<circle cx="1866.04" cy="239.47" r="2.90"/>
<circle cx="1848.31" cy="240.04" r="2.90"/>
<circle cx="1878.35" cy="240.93" r="2.90"/>
<circle cx="1861.89" cy="242.72" r="2.90"/>
<circle cx="1869.55" cy="244.07" r="2.90"/>
<circle cx="1856.55" cy="246.37" r="2.90"/>
<circle cx="1850.05" cy="247.61" r="2.90"/>
<circle cx="1864.35" cy="248.15" r="2.90"/>
<circle cx="1872.15" cy="249.37" r="2.90"/>
<circle cx="1844.85" cy="249.99" r="2.90"/>
<circle cx="1878.65" cy="250.11" r="2.90"/>
<circle cx="1855.76" cy="250.47" r="2.90"/>
<circle cx="1860.67" cy="250.98" r="2.90"/>
<circle cx="1851.87" cy="251.05" r="2.90"/>
<circle cx="1867.48" cy="251.70" r="2.90"/>
<circle cx="1876.02" cy="252.30" r="2.90"/>
<circle cx="1864.08" cy="252.89" r="2.90"/>
<circle cx="1842.84" cy="253.13" r="2.90"/>
<circle cx="1847.27" cy="254.39" r="2.90"/>
<circle cx="1855.94" cy="254.89" r="2.90"/>
<circle cx="1871.22" cy="254.92" r="2.90"/>
<circle cx="1880.06" cy="254.93" r="2.90"/>
<circle cx="1860.92" cy="256.75" r="2.90"/>
<circle cx="1874.70" cy="257.81" r="2.90"/>
<circle cx="1865.65" cy="261.09" r="2.90"/>
<circle cx="1860.45" cy="265.04" r="2.90"/>
<circle cx="1865.65" cy="267.14" r="2.90"/>
<circle cx="1856.55" cy="269.17" r="2.90"/>
<circle cx="1870.85" cy="269.73" r="2.90"/>
<circle cx="1861.75" cy="272.81" r="2.90"/>
<circle cx="1852.65" cy="273.68" r="2.90"/>
<circle cx="1866.95" cy="275.93" r="2.90"/>
<circle cx="1861.75" cy="281.72" r="2.90"/>
<circle cx="1927.75" cy="192.78" r="2.90"/>
<circle cx="1927.75" cy="209.29" r="2.90"/>
<circle cx="1934.25" cy="209.44" r="2.90"/>
<circle cx="1922.55" cy="212.39" r="2.90"/>
<circle cx="1939.45" cy="213.24" r="2.90"/>
<circle cx="1927.75" cy="221.53" r="2.90"/>
<circle cx="1931.65" cy="226.02" r="2.90"/>
<circle cx="1923.85" cy="226.39" r="2.90"/>
<circle cx="1936.85" cy="228.97" r="2.90"/>
<circle cx="1918.65" cy="230.10" r="2.90"/>
<circle cx="1927.75" cy="231.00" r="2.90"/>
<circle cx="1912.15" cy="231.00" r="2.90"/>
<circle cx="1942.05" cy="231.24" r="2.90"/>
<circle cx="1924.14" cy="232.26" r="2.90"/>
<circle cx="1932.25" cy="232.98" r="2.90"/>
<circle cx="1927.75" cy="237.98" r="2.90"/>
<circle cx="1934.25" cy="239.58" r="2.90"/>
<circle cx="1921.25" cy="239.66" r="2.90"/>
<circle cx="1939.45" cy="241.67" r="2.90"/>
<circle cx="1916.05" cy="241.96" r="2.90"/>
<circle cx="1927.75" cy="243.87" r="2.90"/>
<circle cx="1910.85" cy="244.07" r="2.90"/>
<circle cx="1944.65" cy="244.53" r="2.90"/>
<circle cx="1921.25" cy="245.68" r="2.90"/>
<circle cx="1934.25" cy="245.81" r="2.90"/>
<circle cx="1939.34" cy="247.44" r="2.90"/>
<circle cx="1916.01" cy="247.74" r="2.90"/>
<circle cx="1925.77" cy="247.94" r="2.90"/>
<circle cx="1909.55" cy="249.81" r="2.90"/>
<circle cx="1944.65" cy="250.54" r="2.90"/>
<circle cx="1931.08" cy="250.75" r="2.90"/>
<circle cx="1937.54" cy="251.00" r="2.90"/>
<circle cx="1919.22" cy="251.00" r="2.90"/>
<circle cx="1913.20" cy="251.64" r="2.90"/>
<circle cx="1934.61" cy="251.68" r="2.90"/>
<circle cx="1923.62" cy="252.79" r="2.90"/>
<circle cx="1927.89" cy="253.32" r="2.90"/>
<circle cx="1940.88" cy="254.38" r="2.90"/>
<circle cx="1931.43" cy="254.64" r="2.90"/>
<circle cx="1919.95" cy="257.04" r="2.90"/>
<circle cx="1913.45" cy="257.33" r="2.90"/>
<circle cx="1927.75" cy="259.49" r="2.90"/>
<circle cx="1934.25" cy="260.91" r="2.90"/>
<circle cx="1922.55" cy="262.21" r="2.90"/>
<circle cx="1916.05" cy="262.67" r="2.90"/>
<circle cx="1940.75" cy="262.96" r="2.90"/>
<circle cx="1909.55" cy="263.56" r="2.90"/>
<circle cx="1930.05" cy="264.12" r="2.90"/>
<circle cx="1945.95" cy="265.16" r="2.90"/>
<circle cx="1925.15" cy="267.41" r="2.90"/>
<circle cx="1935.55" cy="267.73" r="2.90"/>
<circle cx="1930.35" cy="271.11" r="2.90"/>
<circle cx="1921.25" cy="272.15" r="2.90"/>
<circle cx="1926.45" cy="275.94" r="2.90"/>
<circle cx="1932.95" cy="276.14" r="2.90"/>
<circle cx="1917.35" cy="277.00" r="2.90"/>
<circle cx="1939.45" cy="277.93" r="2.90"/>
<circle cx="1922.55" cy="280.15" r="2.90"/>
<circle cx="1912.15" cy="280.49" r="2.90"/>
<circle cx="1929.05" cy="280.96" r="2.90"/>
<circle cx="1935.55" cy="283.00" r="2.90"/>
<circle cx="1918.65" cy="284.64" r="2.90"/>
<circle cx="1942.05" cy="284.97" r="2.90"/>
<circle cx="1926.45" cy="286.00" r="2.90"/>
<circle cx="1912.15" cy="286.58" r="2.90"/>
<circle cx="1931.65" cy="289.96" r="2.90"/>
<circle cx="1922.55" cy="290.26" r="2.90"/>
<circle cx="1938.15" cy="291.92" r="2.90"/>
<circle cx="1916.05" cy="291.94" r="2.90"/>
<circle cx="1944.65" cy="292.69" r="2.90"/>
<circle cx="1927.75" cy="294.03" r="2.90"/>
<circle cx="1927.75" cy="304.32" r="2.90"/>
<circle cx="1994.00" cy="141.30" r="2.90"/>
<circle cx="1988.80" cy="144.16" r="2.90"/>
<circle cx="1994.00" cy="170.36" r="2.90"/>
<circle cx="1987.50" cy="172.27" r="2.90"/>
<circle cx="1994.00" cy="179.40" r="2.90"/>
<circle cx="1988.80" cy="181.84" r="2.90"/>
<circle cx="1994.00" cy="185.50" r="2.90"/>
<circle cx="2000.50" cy="185.72" r="2.90"/>
<circle cx="1988.80" cy="188.36" r="2.90"/>
<circle cx="1994.00" cy="199.62" r="2.90"/>
<circle cx="2000.50" cy="201.34" r="2.90"/>
<circle cx="1990.10" cy="204.33" r="2.90"/>
<circle cx="1994.00" cy="209.58" r="2.90"/>
<circle cx="1990.10" cy="214.03" r="2.90"/>
<circle cx="1997.90" cy="214.34" r="2.90"/>
<circle cx="1984.90" cy="217.28" r="2.90"/>
<circle cx="1994.00" cy="219.36" r="2.90"/>
<circle cx="2000.50" cy="221.28" r="2.90"/>
<circle cx="2007.00" cy="221.40" r="2.90"/>
<circle cx="1994.00" cy="228.33" r="2.90"/>
<circle cx="2000.50" cy="230.20" r="2.90"/>
<circle cx="1990.10" cy="232.97" r="2.90"/>
<circle cx="1996.60" cy="234.32" r="2.90"/>
<circle cx="1984.90" cy="235.39" r="2.90"/>
<circle cx="1994.00" cy="240.42" r="2.90"/>
<circle cx="1987.50" cy="241.99" r="2.90"/>
<circle cx="1999.20" cy="244.16" r="2.90"/>
<circle cx="1994.00" cy="248.37" r="2.90"/>
<circle cx="1987.50" cy="249.07" r="2.90"/>
<circle cx="2001.80" cy="249.34" r="2.90"/>
<circle cx="1981.00" cy="250.53" r="2.90"/>
<circle cx="2008.30" cy="251.06" r="2.90"/>
<circle cx="1996.60" cy="253.42" r="2.90"/>
<circle cx="1975.80" cy="253.46" r="2.90"/>
<circle cx="1990.98" cy="253.72" r="2.90"/>
<circle cx="1985.71" cy="254.04" r="2.90"/>
<circle cx="2001.80" cy="255.97" r="2.90"/>
<circle cx="1981.00" cy="257.66" r="2.90"/>
<circle cx="1994.00" cy="260.00" r="2.90"/>
<circle cx="1987.50" cy="261.78" r="2.90"/>
<circle cx="1994.00" cy="270.00" r="2.90"/>
<circle cx="2059.75" cy="192.78" r="2.90"/>
<circle cx="2059.75" cy="207.08" r="2.90"/>
<circle cx="2059.75" cy="212.80" r="2.90"/>
<circle cx="2059.75" cy="225.34" r="2.90"/>
<circle cx="2066.25" cy="226.93" r="2.90"/>
<circle cx="2053.25" cy="227.03" r="2.90"/>
<circle cx="2071.45" cy="229.60" r="2.90"/>
<circle cx="2048.05" cy="229.76" r="2.90"/>
<circle cx="2077.95" cy="229.85" r="2.90"/>
<circle cx="2041.55" cy="230.65" r="2.90"/>
<circle cx="2059.75" cy="233.29" r="2.90"/>
<circle cx="2053.25" cy="233.49" r="2.90"/>
<circle cx="2066.25" cy="234.65" r="2.90"/>
<circle cx="2049.35" cy="237.82" r="2.90"/>
<circle cx="2057.15" cy="238.27" r="2.90"/>
<circle cx="2070.15" cy="239.17" r="2.90"/>
<circle cx="2063.65" cy="240.30" r="2.90"/>
<circle cx="2044.15" cy="240.46" r="2.90"/>
<circle cx="2076.65" cy="241.02" r="2.90"/>
<circle cx="2053.25" cy="243.08" r="2.90"/>
<circle cx="2058.86" cy="243.85" r="2.90"/>
<circle cx="2067.55" cy="244.62" r="2.90"/>
<circle cx="2074.91" cy="244.96" r="2.90"/>
<circle cx="2048.05" cy="245.23" r="2.90"/>
<circle cx="2041.55" cy="245.49" r="2.90"/>
<circle cx="2063.96" cy="246.19" r="2.90"/>
<circle cx="2055.91" cy="246.26" r="2.90"/>
<circle cx="2071.27" cy="246.80" r="2.90"/>
<circle cx="2051.78" cy="247.92" r="2.90"/>
<circle cx="2044.16" cy="248.47" r="2.90"/>
<circle cx="2078.61" cy="249.05" r="2.90"/>
<circle cx="2059.75" cy="250.68" r="2.90"/>
<circle cx="2067.55" cy="251.15" r="2.90"/>
<circle cx="2072.86" cy="251.68" r="2.90"/>
<circle cx="2041.76" cy="251.95" r="2.90"/>
<circle cx="2048.75" cy="252.09" r="2.90"/>
<circle cx="2054.06" cy="252.25" r="2.90"/>
<circle cx="2077.48" cy="252.53" r="2.90"/>
<circle cx="2063.43" cy="253.30" r="2.90"/>
<circle cx="2051.42" cy="253.38" r="2.90"/>
<circle cx="2056.50" cy="253.98" r="2.90"/>
<circle cx="2067.42" cy="254.82" r="2.90"/>
<circle cx="2074.34" cy="255.33" r="2.90"/>
<circle cx="2043.92" cy="255.57" r="2.90"/>
<circle cx="2077.93" cy="256.22" r="2.90"/>
<circle cx="2060.54" cy="256.72" r="2.90"/>
<circle cx="2054.90" cy="258.50" r="2.90"/>
<circle cx="2049.35" cy="259.45" r="2.90"/>
<circle cx="2064.95" cy="260.44" r="2.90"/>
<circle cx="2071.45" cy="261.51" r="2.90"/>
<circle cx="2044.15" cy="261.65" r="2.90"/>
<circle cx="2077.95" cy="261.97" r="2.90"/>
<circle cx="2053.42" cy="262.13" r="2.90"/>
<circle cx="2059.75" cy="262.60" r="2.90"/>
<circle cx="2047.57" cy="262.61" r="2.90"/>
<circle cx="2067.33" cy="264.59" r="2.90"/>
<circle cx="2041.05" cy="264.80" r="2.90"/>
<circle cx="2050.66" cy="266.16" r="2.90"/>
<circle cx="2073.57" cy="266.31" r="2.90"/>
<circle cx="2056.17" cy="267.50" r="2.90"/>
<circle cx="2062.35" cy="268.28" r="2.90"/>
<circle cx="2067.55" cy="271.36" r="2.90"/>
<circle cx="2058.45" cy="273.15" r="2.90"/>
<circle cx="2063.65" cy="275.46" r="2.90"/>
<circle cx="2053.25" cy="277.01" r="2.90"/>
<circle cx="2059.75" cy="304.32" r="2.90"/>
<line x1="1861.75" y1="210.00" x2="1861.75" y2="270.00" stroke="#ff0000" stroke-width="4"/>
<line x1="1851.00" y1="210.00" x2="1872.50" y2="210.00" stroke="#ff0000" stroke-width="4"/>
<line x1="1851.00" y1="270.00" x2="1872.50" y2="270.00" stroke="#ff0000" stroke-width="4"/>
<line x1="1927.75" y1="231.25" x2="1927.75" y2="279.50" stroke="#ff0000" stroke-width="4"/>
<line x1="1917.00" y1="231.25" x2="1938.50" y2="231.25" stroke="#ff0000" stroke-width="4"/>
<line x1="1917.00" y1="279.50" x2="1938.50" y2="279.50" stroke="#ff0000" stroke-width="4"/>
<line x1="1994.00" y1="182.50" x2="1994.00" y2="247.50" stroke="#ff0000" stroke-width="4"/>
<line x1="1983.25" y1="182.50" x2="2004.75" y2="182.50" stroke="#ff0000" stroke-width="4"/>
<line x1="1983.25" y1="247.50" x2="2004.75" y2="247.50" stroke="#ff0000" stroke-width="4"/>
<line x1="2059.75" y1="228.00" x2="2059.75" y2="269.50" stroke="#ff0000" stroke-width="4"/>
<line x1="2049.00" y1="228.00" x2="2070.50" y2="228.00" stroke="#ff0000" stroke-width="4"/>
<line x1="2049.00" y1="269.50" x2="2070.50" y2="269.50" stroke="#ff0000" stroke-width="4"/>
<line x1="1818.00" y1="55.50" x2="1818.00" y2="342.50" stroke="#000" stroke-width="2"/>
<line x1="1809.25" y1="341.50" x2="1819.00" y2="341.50" stroke="#000" stroke-width="2"/>
<text x="1800.50" y="350.40" font-size="20" text-anchor="end">0</text>
<line x1="1809.25" y1="284.30" x2="1819.00" y2="284.30" stroke="#000" stroke-width="2"/>
<text x="1800.50" y="293.20" font-size="20" text-anchor="end">2,000</text>
<line x1="1809.25" y1="227.10" x2="1819.00" y2="227.10" stroke="#000" stroke-width="2"/>
<text x="1800.50" y="236.00" font-size="20" text-anchor="end">4,000</text>
<line x1="1809.25" y1="169.90" x2="1819.00" y2="169.90" stroke="#000" stroke-width="2"/>
<text x="1800.50" y="178.80" font-size="20" text-anchor="end">6,000</text>
<line x1="1809.25" y1="112.70" x2="1819.00" y2="112.70" stroke="#000" stroke-width="2"/>
<text x="1800.50" y="121.60" font-size="20" text-anchor="end">8,000</text>
<line x1="1809.25" y1="55.50" x2="1819.00" y2="55.50" stroke="#000" stroke-width="2"/>
<text x="1800.50" y="64.40" font-size="20" text-anchor="end">10,000</text>
<line x1="1809.25" y1="341.50" x2="2106.00" y2="341.50" stroke="#000" stroke-width="2"/>
<line x1="1861.75" y1="341.50" x2="1861.75" y2="350.00" stroke="#000" stroke-width="2"/>
<line x1="1927.75" y1="341.50" x2="1927.75" y2="350.00" stroke="#000" stroke-width="2"/>
<line x1="1994.00" y1="341.50" x2="1994.00" y2="350.00" stroke="#000" stroke-width="2"/>
<line x1="2059.75" y1="341.50" x2="2059.75" y2="350.00" stroke="#000" stroke-width="2"/>
<text x="1866.75" y="369.50" text-anchor="end" transform="rotate(-45 1866.75 369.50)">SC</text>
<text x="1932.75" y="369.50" text-anchor="end" transform="rotate(-45 1932.75 369.50)">shNHE1</text>
<text x="1999.00" y="369.50" text-anchor="end" transform="rotate(-45 1999.00 369.50)">SC</text>
<text x="2064.75" y="369.50" text-anchor="end" transform="rotate(-45 2064.75 369.50)">shNHE1</text>
<text x="1724.00" y="195.60" text-anchor="middle" transform="rotate(-90 1724.00 195.60)">Confined cell volume (µm<tspan dy="-7" font-size="13">3</tspan><tspan dy="7">)</tspan></text>
<polyline points="1861.75,130.00 1861.75,118.75 1928.00,118.75 1928.00,170.00" fill="none" stroke="#000" stroke-width="2"/>
<polyline points="1861.75,101.25 1861.75,88.00 1993.75,88.00 1993.75,101.25" fill="none" stroke="#000" stroke-width="2"/>
<polyline points="1998.75,101.25 1998.75,88.00 2059.75,88.00 2059.75,170.00" fill="none" stroke="#000" stroke-width="2"/>
<text x="1893.50" y="117.60" font-size="24" text-anchor="middle" letter-spacing="1.2">**</text>
<text x="1930.00" y="87.40" font-size="24" text-anchor="middle" letter-spacing="1.2">***</text>
<text x="2027.50" y="87.40" font-size="24" text-anchor="middle" letter-spacing="1.2">****</text>
<text x="2.00" y="505.00" font-size="33" font-weight="bold" stroke="#000" stroke-width="1.1">f</text>
<rect x="110.00" y="495.00" width="18.30" height="18.30" fill="#ff8080"/>
<text x="135.00" y="509.30" font-size="21">0.77 cP</text>
<rect x="245.00" y="495.00" width="18.30" height="18.30" fill="#8f8fff"/>
<text x="269.30" y="509.30" font-size="21">8 cP</text>
<rect x="334.5" y="497.9" width="15.3" height="13.6" fill="none" stroke="#000" stroke-width="2.6"/>
<text x="359.30" y="511.70" font-size="21">Two-phase model</text>
<rect x="120.70" y="751.00" width="30.30" height="78.00" fill="#fca0a0"/>
<rect x="227.70" y="770.00" width="30.60" height="59.00" fill="#fca0a0"/>
<rect x="335.00" y="720.00" width="30.70" height="109.00" fill="#8f8fff"/>
<rect x="442.70" y="759.00" width="30.60" height="70.00" fill="#8f8fff"/>
<rect x="169.70" y="755.30" width="24.30" height="73.70" fill="none" stroke="#000" stroke-width="4"/>
<circle cx="181.85" cy="752.80" r="1.60"/>
<rect x="277.30" y="770.30" width="24.40" height="58.70" fill="none" stroke="#000" stroke-width="4"/>
<circle cx="289.50" cy="767.80" r="1.60"/>
<rect x="384.30" y="723.70" width="24.70" height="105.30" fill="none" stroke="#000" stroke-width="4"/>
<circle cx="396.65" cy="721.20" r="1.60"/>
<rect x="492.00" y="761.00" width="24.30" height="68.00" fill="none" stroke="#000" stroke-width="4"/>
<circle cx="504.15" cy="758.50" r="1.60"/>
<circle cx="135.70" cy="666.11" r="1.45"/>
<circle cx="135.70" cy="670.43" r="1.45"/>
<circle cx="135.70" cy="676.20" r="1.45"/>
<circle cx="135.70" cy="680.53" r="1.45"/>
<circle cx="135.70" cy="693.18" r="1.45"/>
<circle cx="135.70" cy="696.90" r="1.45"/>
<circle cx="139.30" cy="697.45" r="1.45"/>
<circle cx="135.70" cy="702.67" r="1.45"/>
<circle cx="139.30" cy="702.76" r="1.45"/>
<circle cx="135.70" cy="707.41" r="1.45"/>
<circle cx="139.30" cy="708.01" r="1.45"/>
<circle cx="132.10" cy="708.26" r="1.45"/>
<circle cx="142.90" cy="710.36" r="1.45"/>
<circle cx="135.70" cy="711.19" r="1.45"/>
<circle cx="139.30" cy="712.97" r="1.45"/>
<circle cx="133.30" cy="714.13" r="1.45"/>
<circle cx="129.70" cy="714.48" r="1.45"/>
<circle cx="135.70" cy="716.73" r="1.45"/>
<circle cx="139.30" cy="717.33" r="1.45"/>
<circle cx="132.10" cy="718.79" r="1.45"/>
<circle cx="142.90" cy="719.56" r="1.45"/>
<circle cx="128.50" cy="719.88" r="1.45"/>
<circle cx="135.70" cy="723.01" r="1.45"/>
<circle cx="132.10" cy="723.46" r="1.45"/>
<circle cx="139.30" cy="723.96" r="1.45"/>
<circle cx="135.70" cy="729.44" r="1.45"/>
<circle cx="139.30" cy="730.12" r="1.45"/>
<circle cx="132.10" cy="730.73" r="1.45"/>
<circle cx="142.90" cy="731.18" r="1.45"/>
<circle cx="128.50" cy="731.31" r="1.45"/>
<circle cx="146.50" cy="732.59" r="1.45"/>
<circle cx="135.70" cy="733.34" r="1.45"/>
<circle cx="124.90" cy="733.50" r="1.45"/>
<circle cx="139.30" cy="733.65" r="1.45"/>
<circle cx="132.10" cy="734.28" r="1.45"/>
<circle cx="121.30" cy="734.58" r="1.45"/>
<circle cx="142.90" cy="734.66" r="1.45"/>
<circle cx="128.50" cy="734.91" r="1.45"/>
<circle cx="148.90" cy="735.08" r="1.45"/>
<circle cx="145.69" cy="735.34" r="1.45"/>
<circle cx="141.04" cy="735.39" r="1.45"/>
<circle cx="135.70" cy="737.57" r="1.45"/>
<circle cx="132.10" cy="737.84" r="1.45"/>
<circle cx="126.10" cy="737.93" r="1.45"/>
<circle cx="139.30" cy="738.94" r="1.45"/>
<circle cx="142.90" cy="738.96" r="1.45"/>
<circle cx="146.50" cy="740.07" r="1.45"/>
<circle cx="122.50" cy="740.24" r="1.45"/>
<circle cx="135.70" cy="741.36" r="1.45"/>
<circle cx="132.10" cy="741.92" r="1.45"/>
<circle cx="128.50" cy="742.03" r="1.45"/>
<circle cx="138.10" cy="743.99" r="1.45"/>
<circle cx="141.70" cy="744.01" r="1.45"/>
<circle cx="145.30" cy="744.10" r="1.45"/>
<circle cx="124.90" cy="744.13" r="1.45"/>
<circle cx="148.90" cy="744.32" r="1.45"/>
<circle cx="134.50" cy="746.19" r="1.45"/>
<circle cx="130.90" cy="747.16" r="1.45"/>
<circle cx="138.10" cy="748.44" r="1.45"/>
<circle cx="141.70" cy="748.47" r="1.45"/>
<circle cx="135.70" cy="750.92" r="1.45"/>
<circle cx="134.50" cy="754.19" r="1.45"/>
<circle cx="138.10" cy="754.76" r="1.45"/>
<circle cx="130.90" cy="756.27" r="1.45"/>
<circle cx="141.70" cy="756.28" r="1.45"/>
<circle cx="135.70" cy="757.79" r="1.45"/>
<circle cx="139.30" cy="758.97" r="1.45"/>
<circle cx="132.10" cy="759.98" r="1.45"/>
<circle cx="142.90" cy="760.42" r="1.45"/>
<circle cx="135.70" cy="761.45" r="1.45"/>
<circle cx="139.30" cy="763.50" r="1.45"/>
<circle cx="132.10" cy="763.73" r="1.45"/>
<circle cx="142.90" cy="764.50" r="1.45"/>
<circle cx="135.70" cy="768.08" r="1.45"/>
<circle cx="139.30" cy="768.26" r="1.45"/>
<circle cx="132.10" cy="768.80" r="1.45"/>
<circle cx="142.90" cy="770.61" r="1.45"/>
<circle cx="128.50" cy="770.98" r="1.45"/>
<circle cx="135.70" cy="773.76" r="1.45"/>
<circle cx="132.10" cy="774.06" r="1.45"/>
<circle cx="139.30" cy="774.52" r="1.45"/>
<circle cx="128.50" cy="774.82" r="1.45"/>
<circle cx="142.90" cy="775.47" r="1.45"/>
<circle cx="135.70" cy="778.07" r="1.45"/>
<circle cx="139.30" cy="778.18" r="1.45"/>
<circle cx="133.30" cy="780.55" r="1.45"/>
<circle cx="141.70" cy="780.87" r="1.45"/>
<circle cx="135.70" cy="783.38" r="1.45"/>
<circle cx="139.30" cy="784.78" r="1.45"/>
<circle cx="132.10" cy="785.71" r="1.45"/>
<circle cx="142.90" cy="786.08" r="1.45"/>
<circle cx="135.70" cy="791.34" r="1.45"/>
<circle cx="135.70" cy="796.36" r="1.45"/>
<circle cx="132.10" cy="797.55" r="1.45"/>
<circle cx="139.30" cy="797.96" r="1.45"/>
<circle cx="135.70" cy="803.03" r="1.45"/>
<circle cx="139.30" cy="803.27" r="1.45"/>
<circle cx="132.10" cy="804.14" r="1.45"/>
<circle cx="135.70" cy="806.86" r="1.45"/>
<circle cx="134.50" cy="810.24" r="1.45"/>
<circle cx="138.10" cy="811.11" r="1.45"/>
<circle cx="132.10" cy="812.93" r="1.45"/>
<circle cx="243.00" cy="697.82" r="1.45"/>
<circle cx="240.60" cy="700.71" r="1.45"/>
<circle cx="243.00" cy="713.68" r="1.45"/>
<circle cx="239.40" cy="715.12" r="1.45"/>
<circle cx="243.00" cy="720.63" r="1.45"/>
<circle cx="243.00" cy="724.87" r="1.45"/>
<circle cx="243.00" cy="732.33" r="1.45"/>
<circle cx="239.40" cy="733.36" r="1.45"/>
<circle cx="246.60" cy="733.80" r="1.45"/>
<circle cx="235.80" cy="733.99" r="1.45"/>
<circle cx="250.20" cy="735.47" r="1.45"/>
<circle cx="243.00" cy="738.87" r="1.45"/>
<circle cx="246.60" cy="739.01" r="1.45"/>
<circle cx="239.40" cy="740.62" r="1.45"/>
<circle cx="244.20" cy="742.24" r="1.45"/>
<circle cx="247.80" cy="743.14" r="1.45"/>
<circle cx="237.00" cy="743.22" r="1.45"/>
<circle cx="240.60" cy="744.21" r="1.45"/>
<circle cx="251.40" cy="744.37" r="1.45"/>
<circle cx="233.40" cy="745.18" r="1.45"/>
<circle cx="244.20" cy="746.53" r="1.45"/>
<circle cx="238.20" cy="746.71" r="1.45"/>
<circle cx="247.80" cy="747.26" r="1.45"/>
<circle cx="253.80" cy="747.49" r="1.45"/>
<circle cx="234.60" cy="748.85" r="1.45"/>
<circle cx="231.00" cy="748.92" r="1.45"/>
<circle cx="243.00" cy="750.36" r="1.45"/>
<circle cx="239.40" cy="751.13" r="1.45"/>
<circle cx="246.60" cy="751.18" r="1.45"/>
<circle cx="250.20" cy="751.60" r="1.45"/>
<circle cx="235.80" cy="752.62" r="1.45"/>
<circle cx="232.20" cy="753.16" r="1.45"/>
<circle cx="243.00" cy="753.84" r="1.45"/>
<circle cx="252.60" cy="754.25" r="1.45"/>
<circle cx="247.80" cy="754.42" r="1.45"/>
<circle cx="239.40" cy="754.62" r="1.45"/>
<circle cx="256.20" cy="754.83" r="1.45"/>
<circle cx="229.80" cy="755.80" r="1.45"/>
<circle cx="234.60" cy="755.86" r="1.45"/>
<circle cx="245.42" cy="756.03" r="1.45"/>
<circle cx="243.00" cy="760.14" r="1.45"/>
<circle cx="239.40" cy="760.44" r="1.45"/>
<circle cx="246.60" cy="761.20" r="1.45"/>
<circle cx="235.80" cy="761.44" r="1.45"/>
<circle cx="250.20" cy="761.94" r="1.45"/>
<circle cx="232.20" cy="762.98" r="1.45"/>
<circle cx="253.80" cy="763.10" r="1.45"/>
<circle cx="243.00" cy="763.92" r="1.45"/>
<circle cx="239.40" cy="764.05" r="1.45"/>
<circle cx="247.80" cy="764.45" r="1.45"/>
<circle cx="235.80" cy="765.22" r="1.45"/>
<circle cx="251.40" cy="765.59" r="1.45"/>
<circle cx="256.20" cy="766.16" r="1.45"/>
<circle cx="232.20" cy="766.41" r="1.45"/>
<circle cx="228.60" cy="766.43" r="1.45"/>
<circle cx="246.43" cy="766.65" r="1.45"/>
<circle cx="243.00" cy="769.24" r="1.45"/>
<circle cx="239.40" cy="769.87" r="1.45"/>
<circle cx="247.80" cy="769.88" r="1.45"/>
<circle cx="235.80" cy="770.22" r="1.45"/>
<circle cx="251.40" cy="771.44" r="1.45"/>
<circle cx="232.20" cy="771.53" r="1.45"/>
<circle cx="255.00" cy="772.07" r="1.45"/>
<circle cx="245.40" cy="772.34" r="1.45"/>
<circle cx="241.80" cy="773.20" r="1.45"/>
<circle cx="238.20" cy="773.55" r="1.45"/>
<circle cx="228.60" cy="773.56" r="1.45"/>
<circle cx="249.00" cy="774.22" r="1.45"/>
<circle cx="234.60" cy="775.43" r="1.45"/>
<circle cx="243.00" cy="776.41" r="1.45"/>
<circle cx="246.60" cy="777.10" r="1.45"/>
<circle cx="239.40" cy="777.20" r="1.45"/>
<circle cx="250.20" cy="778.15" r="1.45"/>
<circle cx="232.20" cy="778.25" r="1.45"/>
<circle cx="253.80" cy="778.56" r="1.45"/>
<circle cx="235.80" cy="779.03" r="1.45"/>
<circle cx="243.00" cy="780.06" r="1.45"/>
<circle cx="228.60" cy="780.38" r="1.45"/>
<circle cx="257.40" cy="780.46" r="1.45"/>
<circle cx="239.40" cy="780.80" r="1.45"/>
<circle cx="246.60" cy="781.83" r="1.45"/>
<circle cx="235.80" cy="782.69" r="1.45"/>
<circle cx="243.00" cy="783.48" r="1.45"/>
<circle cx="240.60" cy="786.11" r="1.45"/>
<circle cx="243.00" cy="789.19" r="1.45"/>
<circle cx="239.40" cy="791.47" r="1.45"/>
<circle cx="243.00" cy="792.88" r="1.45"/>
<circle cx="246.60" cy="793.50" r="1.45"/>
<circle cx="239.40" cy="795.06" r="1.45"/>
<circle cx="235.80" cy="795.06" r="1.45"/>
<circle cx="243.00" cy="797.44" r="1.45"/>
<circle cx="246.60" cy="797.84" r="1.45"/>
<circle cx="250.20" cy="798.00" r="1.45"/>
<circle cx="239.40" cy="798.53" r="1.45"/>
<circle cx="243.00" cy="800.98" r="1.45"/>
<circle cx="240.60" cy="803.72" r="1.45"/>
<circle cx="244.20" cy="805.37" r="1.45"/>
<circle cx="247.80" cy="805.93" r="1.45"/>
<circle cx="238.20" cy="806.46" r="1.45"/>
<circle cx="234.60" cy="806.89" r="1.45"/>
<circle cx="251.40" cy="807.33" r="1.45"/>
<circle cx="243.00" cy="811.59" r="1.45"/>
<circle cx="350.00" cy="562.32" r="1.45"/>
<circle cx="350.00" cy="602.68" r="1.45"/>
<circle cx="350.00" cy="618.54" r="1.45"/>
<circle cx="350.00" cy="630.05" r="1.45"/>
<circle cx="352.40" cy="632.96" r="1.45"/>
<circle cx="350.00" cy="638.72" r="1.45"/>
<circle cx="350.00" cy="648.17" r="1.45"/>
<circle cx="346.40" cy="650.19" r="1.45"/>
<circle cx="350.00" cy="653.75" r="1.45"/>
<circle cx="350.00" cy="660.55" r="1.45"/>
<circle cx="353.60" cy="661.32" r="1.45"/>
<circle cx="346.40" cy="662.41" r="1.45"/>
<circle cx="350.00" cy="664.74" r="1.45"/>
<circle cx="353.60" cy="664.99" r="1.45"/>
<circle cx="344.00" cy="665.14" r="1.45"/>
<circle cx="357.20" cy="666.46" r="1.45"/>
<circle cx="347.60" cy="667.51" r="1.45"/>
<circle cx="351.20" cy="668.17" r="1.45"/>
<circle cx="348.80" cy="670.90" r="1.45"/>
<circle cx="353.60" cy="671.17" r="1.45"/>
<circle cx="345.20" cy="671.81" r="1.45"/>
<circle cx="350.00" cy="678.30" r="1.45"/>
<circle cx="353.60" cy="680.65" r="1.45"/>
<circle cx="347.60" cy="680.82" r="1.45"/>
<circle cx="344.00" cy="681.90" r="1.45"/>
<circle cx="357.20" cy="682.71" r="1.45"/>
<circle cx="351.20" cy="683.13" r="1.45"/>
<circle cx="340.40" cy="683.39" r="1.45"/>
<circle cx="360.80" cy="683.86" r="1.45"/>
<circle cx="348.80" cy="686.30" r="1.45"/>
<circle cx="352.40" cy="687.06" r="1.45"/>
<circle cx="345.20" cy="687.29" r="1.45"/>
<circle cx="356.00" cy="687.91" r="1.45"/>
<circle cx="350.00" cy="689.68" r="1.45"/>
<circle cx="342.80" cy="690.20" r="1.45"/>
<circle cx="346.40" cy="690.71" r="1.45"/>
<circle cx="353.60" cy="691.18" r="1.45"/>
<circle cx="357.20" cy="691.65" r="1.45"/>
<circle cx="340.40" cy="692.87" r="1.45"/>
<circle cx="350.00" cy="693.73" r="1.45"/>
<circle cx="353.60" cy="695.04" r="1.45"/>
<circle cx="346.40" cy="695.92" r="1.45"/>
<circle cx="357.20" cy="696.16" r="1.45"/>
<circle cx="350.00" cy="699.85" r="1.45"/>
<circle cx="353.60" cy="700.99" r="1.45"/>
<circle cx="350.00" cy="703.32" r="1.45"/>
<circle cx="346.40" cy="703.98" r="1.45"/>
<circle cx="353.60" cy="705.52" r="1.45"/>
<circle cx="357.20" cy="705.91" r="1.45"/>
<circle cx="350.00" cy="707.24" r="1.45"/>
<circle cx="346.40" cy="708.60" r="1.45"/>
<circle cx="342.80" cy="708.65" r="1.45"/>
<circle cx="353.60" cy="709.01" r="1.45"/>
<circle cx="357.20" cy="709.91" r="1.45"/>
<circle cx="360.80" cy="709.98" r="1.45"/>
<circle cx="350.00" cy="712.13" r="1.45"/>
<circle cx="352.40" cy="714.67" r="1.45"/>
<circle cx="348.80" cy="716.23" r="1.45"/>
<circle cx="345.20" cy="716.57" r="1.45"/>
<circle cx="353.60" cy="717.93" r="1.45"/>
<circle cx="357.20" cy="719.23" r="1.45"/>
<circle cx="350.00" cy="720.60" r="1.45"/>
<circle cx="346.40" cy="721.25" r="1.45"/>
<circle cx="353.60" cy="721.37" r="1.45"/>
<circle cx="342.80" cy="721.96" r="1.45"/>
<circle cx="357.20" cy="723.18" r="1.45"/>
<circle cx="350.00" cy="724.23" r="1.45"/>
<circle cx="345.20" cy="724.50" r="1.45"/>
<circle cx="353.60" cy="725.28" r="1.45"/>
<circle cx="341.60" cy="725.39" r="1.45"/>
<circle cx="348.80" cy="727.55" r="1.45"/>
<circle cx="357.20" cy="727.66" r="1.45"/>
<circle cx="345.20" cy="728.09" r="1.45"/>
<circle cx="339.20" cy="728.31" r="1.45"/>
<circle cx="350.00" cy="730.76" r="1.45"/>
<circle cx="353.60" cy="731.21" r="1.45"/>
<circle cx="346.40" cy="732.01" r="1.45"/>
<circle cx="350.00" cy="735.40" r="1.45"/>
<circle cx="352.40" cy="738.07" r="1.45"/>
<circle cx="347.60" cy="738.48" r="1.45"/>
<circle cx="350.00" cy="741.70" r="1.45"/>
<circle cx="346.40" cy="742.08" r="1.45"/>
<circle cx="353.60" cy="743.06" r="1.45"/>
<circle cx="342.80" cy="743.29" r="1.45"/>
<circle cx="357.20" cy="743.48" r="1.45"/>
<circle cx="339.20" cy="743.79" r="1.45"/>
<circle cx="360.80" cy="744.83" r="1.45"/>
<circle cx="348.80" cy="744.93" r="1.45"/>
<circle cx="345.20" cy="746.07" r="1.45"/>
<circle cx="350.00" cy="748.77" r="1.45"/>
<circle cx="353.60" cy="749.78" r="1.45"/>
<circle cx="350.00" cy="753.68" r="1.45"/>
<circle cx="353.60" cy="754.25" r="1.45"/>
<circle cx="346.40" cy="754.71" r="1.45"/>
<circle cx="357.20" cy="754.83" r="1.45"/>
<circle cx="342.80" cy="755.65" r="1.45"/>
<circle cx="350.00" cy="759.12" r="1.45"/>
<circle cx="346.40" cy="761.49" r="1.45"/>
<circle cx="350.00" cy="765.07" r="1.45"/>
<circle cx="346.40" cy="765.10" r="1.45"/>
<circle cx="353.60" cy="767.06" r="1.45"/>
<circle cx="344.00" cy="768.10" r="1.45"/>
<circle cx="350.00" cy="778.30" r="1.45"/>
<circle cx="346.40" cy="779.50" r="1.45"/>
<circle cx="350.00" cy="782.59" r="1.45"/>
<circle cx="457.70" cy="624.31" r="1.45"/>
<circle cx="455.30" cy="627.19" r="1.45"/>
<circle cx="457.70" cy="661.79" r="1.45"/>
<circle cx="457.70" cy="666.11" r="1.45"/>
<circle cx="457.70" cy="679.08" r="1.45"/>
<circle cx="454.10" cy="679.08" r="1.45"/>
<circle cx="457.70" cy="686.45" r="1.45"/>
<circle cx="457.70" cy="696.81" r="1.45"/>
<circle cx="461.30" cy="697.21" r="1.45"/>
<circle cx="457.70" cy="700.89" r="1.45"/>
<circle cx="461.30" cy="701.54" r="1.45"/>
<circle cx="454.10" cy="702.57" r="1.45"/>
<circle cx="457.70" cy="705.21" r="1.45"/>
<circle cx="456.50" cy="708.47" r="1.45"/>
<circle cx="457.70" cy="713.95" r="1.45"/>
<circle cx="455.30" cy="716.91" r="1.45"/>
<circle cx="457.70" cy="720.37" r="1.45"/>
<circle cx="454.10" cy="720.73" r="1.45"/>
<circle cx="460.10" cy="722.83" r="1.45"/>
<circle cx="451.70" cy="723.35" r="1.45"/>
<circle cx="456.50" cy="723.92" r="1.45"/>
<circle cx="463.70" cy="724.06" r="1.45"/>
<circle cx="467.30" cy="724.39" r="1.45"/>
<circle cx="448.10" cy="725.59" r="1.45"/>
<circle cx="470.90" cy="725.89" r="1.45"/>
<circle cx="444.50" cy="726.20" r="1.45"/>
<circle cx="457.70" cy="728.39" r="1.45"/>
<circle cx="454.10" cy="728.96" r="1.45"/>
<circle cx="461.30" cy="729.57" r="1.45"/>
<circle cx="450.50" cy="731.25" r="1.45"/>
<circle cx="456.50" cy="731.78" r="1.45"/>
<circle cx="463.70" cy="732.51" r="1.45"/>
<circle cx="458.90" cy="734.21" r="1.45"/>
<circle cx="454.10" cy="734.56" r="1.45"/>
<circle cx="450.50" cy="735.37" r="1.45"/>
<circle cx="457.70" cy="737.74" r="1.45"/>
<circle cx="461.30" cy="737.76" r="1.45"/>
<circle cx="454.10" cy="738.31" r="1.45"/>
<circle cx="464.90" cy="739.17" r="1.45"/>
<circle cx="450.50" cy="739.18" r="1.45"/>
<circle cx="457.70" cy="741.72" r="1.45"/>
<circle cx="454.10" cy="741.73" r="1.45"/>
<circle cx="461.30" cy="741.79" r="1.45"/>
<circle cx="450.50" cy="742.62" r="1.45"/>
<circle cx="464.90" cy="743.18" r="1.45"/>
<circle cx="446.90" cy="743.94" r="1.45"/>
<circle cx="468.50" cy="744.36" r="1.45"/>
<circle cx="443.30" cy="744.77" r="1.45"/>
<circle cx="458.90" cy="745.01" r="1.45"/>
<circle cx="455.30" cy="745.23" r="1.45"/>
<circle cx="462.50" cy="746.78" r="1.45"/>
<circle cx="451.70" cy="747.37" r="1.45"/>
<circle cx="457.70" cy="748.57" r="1.45"/>
<circle cx="464.90" cy="749.73" r="1.45"/>
<circle cx="461.30" cy="750.79" r="1.45"/>
<circle cx="457.70" cy="752.58" r="1.45"/>
<circle cx="454.10" cy="753.32" r="1.45"/>
<circle cx="463.70" cy="753.46" r="1.45"/>
<circle cx="450.50" cy="753.69" r="1.45"/>
<circle cx="467.30" cy="753.72" r="1.45"/>
<circle cx="446.90" cy="754.38" r="1.45"/>
<circle cx="457.70" cy="756.29" r="1.45"/>
<circle cx="461.30" cy="756.67" r="1.45"/>
<circle cx="454.10" cy="757.75" r="1.45"/>
<circle cx="464.90" cy="758.10" r="1.45"/>
<circle cx="458.90" cy="759.58" r="1.45"/>
<circle cx="450.50" cy="759.82" r="1.45"/>
<circle cx="446.90" cy="759.83" r="1.45"/>
<circle cx="462.50" cy="760.53" r="1.45"/>
<circle cx="455.30" cy="761.00" r="1.45"/>
<circle cx="466.10" cy="761.85" r="1.45"/>
<circle cx="469.70" cy="762.14" r="1.45"/>
<circle cx="457.70" cy="763.60" r="1.45"/>
<circle cx="461.30" cy="764.11" r="1.45"/>
<circle cx="454.10" cy="764.45" r="1.45"/>
<circle cx="450.50" cy="764.94" r="1.45"/>
<circle cx="464.90" cy="766.36" r="1.45"/>
<circle cx="446.90" cy="766.57" r="1.45"/>
<circle cx="457.70" cy="767.16" r="1.45"/>
<circle cx="468.50" cy="767.26" r="1.45"/>
<circle cx="460.10" cy="770.06" r="1.45"/>
<circle cx="456.50" cy="771.01" r="1.45"/>
<circle cx="452.90" cy="771.68" r="1.45"/>
<circle cx="463.70" cy="772.23" r="1.45"/>
<circle cx="449.30" cy="773.02" r="1.45"/>
<circle cx="458.90" cy="773.59" r="1.45"/>
<circle cx="457.70" cy="781.46" r="1.45"/>
<circle cx="454.10" cy="782.86" r="1.45"/>
<circle cx="460.10" cy="784.10" r="1.45"/>
<circle cx="463.70" cy="784.98" r="1.45"/>
<circle cx="456.50" cy="785.69" r="1.45"/>
<circle cx="452.90" cy="786.22" r="1.45"/>
<circle cx="458.90" cy="788.39" r="1.45"/>
<circle cx="455.30" cy="788.92" r="1.45"/>
<circle cx="462.50" cy="789.32" r="1.45"/>
<circle cx="451.70" cy="789.98" r="1.45"/>
<circle cx="457.70" cy="792.00" r="1.45"/>
<circle cx="454.10" cy="793.22" r="1.45"/>
<circle cx="461.30" cy="793.51" r="1.45"/>
<circle cx="450.50" cy="794.96" r="1.45"/>
<circle cx="457.70" cy="795.77" r="1.45"/>
<circle cx="454.10" cy="797.27" r="1.45"/>
<circle cx="461.30" cy="797.31" r="1.45"/>
<circle cx="457.70" cy="800.19" r="1.45"/>
<circle cx="461.30" cy="801.12" r="1.45"/>
<circle cx="455.30" cy="803.34" r="1.45"/>
<circle cx="457.70" cy="806.34" r="1.45"/>
<circle cx="454.10" cy="807.18" r="1.45"/>
<circle cx="461.30" cy="808.33" r="1.45"/>
<line x1="135.70" y1="714.00" x2="135.70" y2="787.70" stroke="#ff0000" stroke-width="4"/>
<line x1="126.20" y1="714.00" x2="145.20" y2="714.00" stroke="#ff0000" stroke-width="4"/>
<line x1="126.20" y1="787.70" x2="145.20" y2="787.70" stroke="#ff0000" stroke-width="4"/>
<line x1="243.00" y1="743.30" x2="243.00" y2="796.70" stroke="#ff0000" stroke-width="4"/>
<line x1="233.50" y1="743.30" x2="252.50" y2="743.30" stroke="#ff0000" stroke-width="4"/>
<line x1="233.50" y1="796.70" x2="252.50" y2="796.70" stroke="#ff0000" stroke-width="4"/>
<line x1="350.00" y1="678.30" x2="350.00" y2="762.30" stroke="#ff0000" stroke-width="4"/>
<line x1="340.50" y1="678.30" x2="359.50" y2="678.30" stroke="#ff0000" stroke-width="4"/>
<line x1="340.50" y1="762.30" x2="359.50" y2="762.30" stroke="#ff0000" stroke-width="4"/>
<line x1="457.70" y1="719.00" x2="457.70" y2="798.30" stroke="#ff0000" stroke-width="4"/>
<line x1="448.20" y1="719.00" x2="467.20" y2="719.00" stroke="#ff0000" stroke-width="4"/>
<line x1="448.20" y1="798.30" x2="467.20" y2="798.30" stroke="#ff0000" stroke-width="4"/>
<line x1="105.00" y1="540.70" x2="105.00" y2="830.20" stroke="#000" stroke-width="2.4"/>
<line x1="96.70" y1="829.00" x2="106.20" y2="829.00" stroke="#000" stroke-width="2.4"/>
<text x="90.70" y="837.90" font-size="20" text-anchor="end">0</text>
<line x1="96.70" y1="756.92" x2="106.20" y2="756.92" stroke="#000" stroke-width="2.4"/>
<text x="90.70" y="765.82" font-size="20" text-anchor="end">50</text>
<line x1="96.70" y1="684.85" x2="106.20" y2="684.85" stroke="#000" stroke-width="2.4"/>
<text x="90.70" y="693.75" font-size="20" text-anchor="end">100</text>
<line x1="96.70" y1="612.77" x2="106.20" y2="612.77" stroke="#000" stroke-width="2.4"/>
<text x="90.70" y="621.67" font-size="20" text-anchor="end">150</text>
<line x1="96.70" y1="540.70" x2="106.20" y2="540.70" stroke="#000" stroke-width="2.4"/>
<text x="90.70" y="549.60" font-size="20" text-anchor="end">200</text>
<line x1="96.70" y1="829.00" x2="535.70" y2="829.00" stroke="#000" stroke-width="2.4"/>
<line x1="135.70" y1="829.00" x2="135.70" y2="837.00" stroke="#000" stroke-width="2.4"/>
<line x1="181.70" y1="829.00" x2="181.70" y2="837.00" stroke="#000" stroke-width="2.4"/>
<line x1="243.00" y1="829.00" x2="243.00" y2="837.00" stroke="#000" stroke-width="2.4"/>
<line x1="289.00" y1="829.00" x2="289.00" y2="837.00" stroke="#000" stroke-width="2.4"/>
<line x1="350.00" y1="829.00" x2="350.00" y2="837.00" stroke="#000" stroke-width="2.4"/>
<line x1="396.70" y1="829.00" x2="396.70" y2="837.00" stroke="#000" stroke-width="2.4"/>
<line x1="457.70" y1="829.00" x2="457.70" y2="837.00" stroke="#000" stroke-width="2.4"/>
<line x1="504.00" y1="829.00" x2="504.00" y2="837.00" stroke="#000" stroke-width="2.4"/>
<text x="158.30" y="865.00" text-anchor="middle">SC</text>
<text x="264.30" y="865.00" text-anchor="middle">shNHE1</text>
<text x="373.30" y="865.00" text-anchor="middle">SC</text>
<text x="480.00" y="865.00" text-anchor="middle">shNHE1</text>
<text x="35.50" y="683.30" text-anchor="middle" transform="rotate(-90 35.50 683.30)">Speed (µm h<tspan dy="-7" font-size="13">−1</tspan><tspan dy="7">)</tspan></text>
<polyline points="146.70,643.30 146.70,629.30 243.30,629.30 243.30,640.00" fill="none" stroke="#000" stroke-width="2.4"/>
<polyline points="148.30,600.70 148.30,538.30 345.70,538.30 345.70,556.00" fill="none" stroke="#000" stroke-width="2.4"/>
<polyline points="349.00,551.70 349.00,538.30 460.00,538.30 460.00,556.00" fill="none" stroke="#000" stroke-width="2.4"/>
<text x="196.00" y="629.70" font-size="24" text-anchor="middle" letter-spacing="1.2">***</text>
<text x="252.30" y="539.70" font-size="24" text-anchor="middle" letter-spacing="1.2">****</text>
<text x="403.30" y="539.70" font-size="24" text-anchor="middle" letter-spacing="1.2">****</text>
<text x="1190.50" y="487.80" font-size="33" font-weight="bold" stroke="#000" stroke-width="1.1">h</text>
<rect x="1302.70" y="531.70" width="47.40" height="418.50" fill="#ffd0d4"/>
<rect x="1357.50" y="531.70" width="158.10" height="418.50" fill="#c8c8fa"/>
<rect x="1524.40" y="531.70" width="46.60" height="418.50" fill="#ffd0d4"/>
<rect x="1578.40" y="531.70" width="101.60" height="418.50" fill="#c8c8fa"/>
<line x1="1519.70" y1="531.70" x2="1519.70" y2="815.00" stroke="#000" stroke-width="3" stroke-dasharray="5,2.8"/>
<circle cx="1328.20" cy="617.18" r="3.00"/>
<circle cx="1323.20" cy="617.18" r="3.00"/>
<circle cx="1333.20" cy="617.18" r="3.00"/>
<circle cx="1318.20" cy="617.18" r="3.00"/>
<circle cx="1328.20" cy="631.46" r="3.00"/>
<circle cx="1323.20" cy="631.46" r="3.00"/>
<circle cx="1333.20" cy="631.46" r="3.00"/>
<circle cx="1318.20" cy="631.46" r="3.00"/>
<circle cx="1338.20" cy="631.46" r="3.00"/>
<circle cx="1328.20" cy="645.74" r="3.00"/>
<circle cx="1333.20" cy="645.74" r="3.00"/>
<circle cx="1323.20" cy="645.74" r="3.00"/>
<circle cx="1338.20" cy="645.74" r="3.00"/>
<circle cx="1318.20" cy="645.74" r="3.00"/>
<circle cx="1343.20" cy="645.74" r="3.00"/>
<circle cx="1328.20" cy="660.02" r="3.00"/>
<circle cx="1333.20" cy="660.02" r="3.00"/>
<circle cx="1323.20" cy="660.02" r="3.00"/>
<circle cx="1338.20" cy="660.02" r="3.00"/>
<circle cx="1318.20" cy="660.02" r="3.00"/>
<circle cx="1343.20" cy="660.02" r="3.00"/>
<circle cx="1313.20" cy="660.02" r="3.00"/>
<circle cx="1328.20" cy="674.30" r="3.00"/>
<circle cx="1323.20" cy="674.30" r="3.00"/>
<circle cx="1333.20" cy="674.30" r="3.00"/>
<circle cx="1318.20" cy="674.30" r="3.00"/>
<circle cx="1328.20" cy="688.58" r="3.00"/>
<circle cx="1323.20" cy="688.58" r="3.00"/>
<circle cx="1333.20" cy="688.58" r="3.00"/>
<circle cx="1318.20" cy="688.58" r="3.00"/>
<circle cx="1328.20" cy="702.86" r="3.00"/>
<circle cx="1323.20" cy="702.86" r="3.00"/>
<circle cx="1333.20" cy="702.86" r="3.00"/>
<circle cx="1318.20" cy="702.86" r="3.00"/>
<circle cx="1328.20" cy="717.14" r="3.00"/>
<circle cx="1328.20" cy="745.70" r="3.00"/>
<circle cx="1333.20" cy="745.70" r="3.00"/>
<circle cx="1328.20" cy="759.98" r="3.00"/>
<circle cx="1382.50" cy="574.34" r="3.00"/>
<circle cx="1382.50" cy="602.90" r="3.00"/>
<circle cx="1387.50" cy="602.90" r="3.00"/>
<circle cx="1382.50" cy="617.18" r="3.00"/>
<circle cx="1387.50" cy="617.18" r="3.00"/>
<circle cx="1377.50" cy="617.18" r="3.00"/>
<circle cx="1392.50" cy="617.18" r="3.00"/>
<circle cx="1372.50" cy="617.18" r="3.00"/>
<circle cx="1382.50" cy="631.46" r="3.00"/>
<circle cx="1377.50" cy="631.46" r="3.00"/>
<circle cx="1387.50" cy="631.46" r="3.00"/>
<circle cx="1372.50" cy="631.46" r="3.00"/>
<circle cx="1392.50" cy="631.46" r="3.00"/>
<circle cx="1367.50" cy="631.46" r="3.00"/>
<circle cx="1397.50" cy="631.46" r="3.00"/>
<circle cx="1362.50" cy="631.46" r="3.00"/>
<circle cx="1402.50" cy="631.46" r="3.00"/>
<circle cx="1382.50" cy="645.74" r="3.00"/>
<circle cx="1387.50" cy="645.74" r="3.00"/>
<circle cx="1377.50" cy="645.74" r="3.00"/>
<circle cx="1392.50" cy="645.74" r="3.00"/>
<circle cx="1372.50" cy="645.74" r="3.00"/>
<circle cx="1397.50" cy="645.74" r="3.00"/>
<circle cx="1367.50" cy="645.74" r="3.00"/>
<circle cx="1402.50" cy="645.74" r="3.00"/>
<circle cx="1362.50" cy="645.74" r="3.00"/>
<circle cx="1382.50" cy="660.02" r="3.00"/>
<circle cx="1377.50" cy="660.02" r="3.00"/>
<circle cx="1387.50" cy="660.02" r="3.00"/>
<circle cx="1372.50" cy="660.02" r="3.00"/>
<circle cx="1392.50" cy="660.02" r="3.00"/>
<circle cx="1382.50" cy="674.30" r="3.00"/>
<circle cx="1387.50" cy="674.30" r="3.00"/>
<circle cx="1382.50" cy="688.58" r="3.00"/>
<circle cx="1437.40" cy="617.18" r="3.00"/>
<circle cx="1432.40" cy="617.18" r="3.00"/>
<circle cx="1437.40" cy="631.46" r="3.00"/>
<circle cx="1432.40" cy="631.46" r="3.00"/>
<circle cx="1442.40" cy="631.46" r="3.00"/>
<circle cx="1427.40" cy="631.46" r="3.00"/>
<circle cx="1447.40" cy="631.46" r="3.00"/>
<circle cx="1422.40" cy="631.46" r="3.00"/>
<circle cx="1452.40" cy="631.46" r="3.00"/>
<circle cx="1437.40" cy="645.74" r="3.00"/>
<circle cx="1442.40" cy="645.74" r="3.00"/>
<circle cx="1432.40" cy="645.74" r="3.00"/>
<circle cx="1447.40" cy="645.74" r="3.00"/>
<circle cx="1427.40" cy="645.74" r="3.00"/>
<circle cx="1452.40" cy="645.74" r="3.00"/>
<circle cx="1437.40" cy="660.02" r="3.00"/>
<circle cx="1442.40" cy="660.02" r="3.00"/>
<circle cx="1432.40" cy="660.02" r="3.00"/>
<circle cx="1447.40" cy="660.02" r="3.00"/>
<circle cx="1427.40" cy="660.02" r="3.00"/>
<circle cx="1452.40" cy="660.02" r="3.00"/>
<circle cx="1422.40" cy="660.02" r="3.00"/>
<circle cx="1457.40" cy="660.02" r="3.00"/>
<circle cx="1437.40" cy="674.30" r="3.00"/>
<circle cx="1442.40" cy="674.30" r="3.00"/>
<circle cx="1432.40" cy="674.30" r="3.00"/>
<circle cx="1447.40" cy="674.30" r="3.00"/>
<circle cx="1427.40" cy="674.30" r="3.00"/>
<circle cx="1452.40" cy="674.30" r="3.00"/>
<circle cx="1422.40" cy="674.30" r="3.00"/>
<circle cx="1437.40" cy="688.58" r="3.00"/>
<circle cx="1432.40" cy="688.58" r="3.00"/>
<circle cx="1442.40" cy="688.58" r="3.00"/>
<circle cx="1427.40" cy="688.58" r="3.00"/>
<circle cx="1437.40" cy="702.86" r="3.00"/>
<circle cx="1432.40" cy="702.86" r="3.00"/>
<circle cx="1437.40" cy="717.14" r="3.00"/>
<circle cx="1432.40" cy="717.14" r="3.00"/>
<circle cx="1442.40" cy="717.14" r="3.00"/>
<circle cx="1492.30" cy="617.18" r="3.00"/>
<circle cx="1487.30" cy="617.18" r="3.00"/>
<circle cx="1492.30" cy="631.46" r="3.00"/>
<circle cx="1487.30" cy="631.46" r="3.00"/>
<circle cx="1497.30" cy="631.46" r="3.00"/>
<circle cx="1492.30" cy="645.74" r="3.00"/>
<circle cx="1497.30" cy="645.74" r="3.00"/>
<circle cx="1487.30" cy="645.74" r="3.00"/>
<circle cx="1502.30" cy="645.74" r="3.00"/>
<circle cx="1482.30" cy="645.74" r="3.00"/>
<circle cx="1492.30" cy="660.02" r="3.00"/>
<circle cx="1487.30" cy="660.02" r="3.00"/>
<circle cx="1497.30" cy="660.02" r="3.00"/>
<circle cx="1482.30" cy="660.02" r="3.00"/>
<circle cx="1502.30" cy="660.02" r="3.00"/>
<circle cx="1492.30" cy="674.30" r="3.00"/>
<circle cx="1497.30" cy="674.30" r="3.00"/>
<circle cx="1487.30" cy="674.30" r="3.00"/>
<circle cx="1492.30" cy="688.58" r="3.00"/>
<circle cx="1487.30" cy="688.58" r="3.00"/>
<circle cx="1492.30" cy="717.14" r="3.00"/>
<circle cx="1487.30" cy="717.14" r="3.00"/>
<circle cx="1492.30" cy="745.70" r="3.00"/>
<circle cx="1492.30" cy="774.26" r="3.00"/>
<circle cx="1547.10" cy="631.46" r="3.00"/>
<circle cx="1542.10" cy="631.46" r="3.00"/>
<circle cx="1552.10" cy="631.46" r="3.00"/>
<circle cx="1537.10" cy="631.46" r="3.00"/>
<circle cx="1547.10" cy="645.74" r="3.00"/>
<circle cx="1542.10" cy="645.74" r="3.00"/>
<circle cx="1552.10" cy="645.74" r="3.00"/>
<circle cx="1537.10" cy="645.74" r="3.00"/>
<circle cx="1557.10" cy="645.74" r="3.00"/>
<circle cx="1532.10" cy="645.74" r="3.00"/>
<circle cx="1547.10" cy="660.02" r="3.00"/>
<circle cx="1542.10" cy="660.02" r="3.00"/>
<circle cx="1552.10" cy="660.02" r="3.00"/>
<circle cx="1537.10" cy="660.02" r="3.00"/>
<circle cx="1557.10" cy="660.02" r="3.00"/>
<circle cx="1532.10" cy="660.02" r="3.00"/>
<circle cx="1562.10" cy="660.02" r="3.00"/>
<circle cx="1527.10" cy="660.02" r="3.00"/>
<circle cx="1547.10" cy="674.30" r="3.00"/>
<circle cx="1542.10" cy="674.30" r="3.00"/>
<circle cx="1552.10" cy="674.30" r="3.00"/>
<circle cx="1537.10" cy="674.30" r="3.00"/>
<circle cx="1557.10" cy="674.30" r="3.00"/>
<circle cx="1547.10" cy="688.58" r="3.00"/>
<circle cx="1552.10" cy="688.58" r="3.00"/>
<circle cx="1542.10" cy="688.58" r="3.00"/>
<circle cx="1547.10" cy="702.86" r="3.00"/>
<circle cx="1601.70" cy="588.62" r="3.00"/>
<circle cx="1601.70" cy="602.90" r="3.00"/>
<circle cx="1606.70" cy="602.90" r="3.00"/>
<circle cx="1601.70" cy="617.18" r="3.00"/>
<circle cx="1606.70" cy="617.18" r="3.00"/>
<circle cx="1596.70" cy="617.18" r="3.00"/>
<circle cx="1611.70" cy="617.18" r="3.00"/>
<circle cx="1591.70" cy="617.18" r="3.00"/>
<circle cx="1601.70" cy="631.46" r="3.00"/>
<circle cx="1596.70" cy="631.46" r="3.00"/>
<circle cx="1606.70" cy="631.46" r="3.00"/>
<circle cx="1591.70" cy="631.46" r="3.00"/>
<circle cx="1611.70" cy="631.46" r="3.00"/>
<circle cx="1586.70" cy="631.46" r="3.00"/>
<circle cx="1616.70" cy="631.46" r="3.00"/>
<circle cx="1581.70" cy="631.46" r="3.00"/>
<circle cx="1601.70" cy="645.74" r="3.00"/>
<circle cx="1596.70" cy="645.74" r="3.00"/>
<circle cx="1606.70" cy="645.74" r="3.00"/>
<circle cx="1591.70" cy="645.74" r="3.00"/>
<circle cx="1611.70" cy="645.74" r="3.00"/>
<circle cx="1586.70" cy="645.74" r="3.00"/>
<circle cx="1616.70" cy="645.74" r="3.00"/>
<circle cx="1581.70" cy="645.74" r="3.00"/>
<circle cx="1621.70" cy="645.74" r="3.00"/>
<circle cx="1601.70" cy="660.02" r="3.00"/>
<circle cx="1606.70" cy="660.02" r="3.00"/>
<circle cx="1596.70" cy="660.02" r="3.00"/>
<circle cx="1611.70" cy="660.02" r="3.00"/>
<circle cx="1591.70" cy="660.02" r="3.00"/>
<circle cx="1616.70" cy="660.02" r="3.00"/>
<circle cx="1656.60" cy="531.50" r="3.00"/>
<circle cx="1656.60" cy="560.06" r="3.00"/>
<circle cx="1656.60" cy="574.34" r="3.00"/>
<circle cx="1656.60" cy="588.62" r="3.00"/>
<circle cx="1656.60" cy="602.90" r="3.00"/>
<circle cx="1656.60" cy="617.18" r="3.00"/>
<circle cx="1661.60" cy="617.18" r="3.00"/>
<circle cx="1651.60" cy="617.18" r="3.00"/>
<circle cx="1656.60" cy="631.46" r="3.00"/>
<circle cx="1651.60" cy="631.46" r="3.00"/>
<circle cx="1661.60" cy="631.46" r="3.00"/>
<circle cx="1646.60" cy="631.46" r="3.00"/>
<circle cx="1666.60" cy="631.46" r="3.00"/>
<circle cx="1641.60" cy="631.46" r="3.00"/>
<circle cx="1671.60" cy="631.46" r="3.00"/>
<circle cx="1636.60" cy="631.46" r="3.00"/>
<circle cx="1656.60" cy="645.74" r="3.00"/>
<circle cx="1651.60" cy="645.74" r="3.00"/>
<circle cx="1661.60" cy="645.74" r="3.00"/>
<circle cx="1646.60" cy="645.74" r="3.00"/>
<circle cx="1666.60" cy="645.74" r="3.00"/>
<circle cx="1641.60" cy="645.74" r="3.00"/>
<circle cx="1671.60" cy="645.74" r="3.00"/>
<circle cx="1636.60" cy="645.74" r="3.00"/>
<circle cx="1676.60" cy="645.74" r="3.00"/>
<circle cx="1656.60" cy="660.02" r="3.00"/>
<circle cx="1661.60" cy="660.02" r="3.00"/>
<circle cx="1651.60" cy="660.02" r="3.00"/>
<circle cx="1666.60" cy="660.02" r="3.00"/>
<circle cx="1646.60" cy="660.02" r="3.00"/>
<circle cx="1671.60" cy="660.02" r="3.00"/>
<circle cx="1641.60" cy="660.02" r="3.00"/>
<circle cx="1656.60" cy="674.30" r="3.00"/>
<circle cx="1651.60" cy="674.30" r="3.00"/>
<circle cx="1661.60" cy="674.30" r="3.00"/>
<circle cx="1646.60" cy="674.30" r="3.00"/>
<circle cx="1666.60" cy="674.30" r="3.00"/>
<line x1="1328.20" y1="629.10" x2="1328.20" y2="692.80" stroke="#ff0000" stroke-width="4"/>
<line x1="1318.45" y1="629.10" x2="1337.95" y2="629.10" stroke="#ff0000" stroke-width="4"/>
<line x1="1318.45" y1="692.80" x2="1337.95" y2="692.80" stroke="#ff0000" stroke-width="4"/>
<line x1="1309.70" y1="660.70" x2="1346.70" y2="660.70" stroke="#ff0000" stroke-width="4"/>
<line x1="1382.50" y1="619.50" x2="1382.50" y2="658.00" stroke="#ff0000" stroke-width="4"/>
<line x1="1372.75" y1="619.50" x2="1392.25" y2="619.50" stroke="#ff0000" stroke-width="4"/>
<line x1="1372.75" y1="658.00" x2="1392.25" y2="658.00" stroke="#ff0000" stroke-width="4"/>
<line x1="1364.00" y1="638.80" x2="1401.00" y2="638.80" stroke="#ff0000" stroke-width="4"/>
<line x1="1437.40" y1="635.20" x2="1437.40" y2="682.10" stroke="#ff0000" stroke-width="4"/>
<line x1="1427.65" y1="635.20" x2="1447.15" y2="635.20" stroke="#ff0000" stroke-width="4"/>
<line x1="1427.65" y1="682.10" x2="1447.15" y2="682.10" stroke="#ff0000" stroke-width="4"/>
<line x1="1418.90" y1="658.80" x2="1455.90" y2="658.80" stroke="#ff0000" stroke-width="4"/>
<line x1="1492.30" y1="632.40" x2="1492.30" y2="690.10" stroke="#ff0000" stroke-width="4"/>
<line x1="1482.55" y1="632.40" x2="1502.05" y2="632.40" stroke="#ff0000" stroke-width="4"/>
<line x1="1482.55" y1="690.10" x2="1502.05" y2="690.10" stroke="#ff0000" stroke-width="4"/>
<line x1="1473.80" y1="660.70" x2="1510.80" y2="660.70" stroke="#ff0000" stroke-width="4"/>
<line x1="1547.10" y1="639.30" x2="1547.10" y2="674.40" stroke="#ff0000" stroke-width="4"/>
<line x1="1537.35" y1="639.30" x2="1556.85" y2="639.30" stroke="#ff0000" stroke-width="4"/>
<line x1="1537.35" y1="674.40" x2="1556.85" y2="674.40" stroke="#ff0000" stroke-width="4"/>
<line x1="1528.60" y1="658.00" x2="1565.60" y2="658.00" stroke="#ff0000" stroke-width="4"/>
<line x1="1601.70" y1="622.80" x2="1601.70" y2="655.80" stroke="#ff0000" stroke-width="4"/>
<line x1="1591.95" y1="622.80" x2="1611.45" y2="622.80" stroke="#ff0000" stroke-width="4"/>
<line x1="1591.95" y1="655.80" x2="1611.45" y2="655.80" stroke="#ff0000" stroke-width="4"/>
<line x1="1583.20" y1="638.80" x2="1620.20" y2="638.80" stroke="#ff0000" stroke-width="4"/>
<line x1="1656.60" y1="611.90" x2="1656.60" y2="666.20" stroke="#ff0000" stroke-width="4"/>
<line x1="1646.85" y1="611.90" x2="1666.35" y2="611.90" stroke="#ff0000" stroke-width="4"/>
<line x1="1646.85" y1="666.20" x2="1666.35" y2="666.20" stroke="#ff0000" stroke-width="4"/>
<line x1="1638.10" y1="638.80" x2="1675.10" y2="638.80" stroke="#ff0000" stroke-width="4"/>
<line x1="1292.00" y1="531.70" x2="1292.00" y2="818.70" stroke="#000" stroke-width="3.2"/>
<line x1="1278.20" y1="817.10" x2="1293.60" y2="817.10" stroke="#000" stroke-width="3.2"/>
<text x="1270.20" y="826.00" font-size="20" text-anchor="end">3.5</text>
<line x1="1278.20" y1="745.70" x2="1293.60" y2="745.70" stroke="#000" stroke-width="3.2"/>
<text x="1270.20" y="754.60" font-size="20" text-anchor="end">4.0</text>
<line x1="1278.20" y1="674.30" x2="1293.60" y2="674.30" stroke="#000" stroke-width="3.2"/>
<text x="1270.20" y="683.20" font-size="20" text-anchor="end">4.5</text>
<line x1="1278.20" y1="602.90" x2="1293.60" y2="602.90" stroke="#000" stroke-width="3.2"/>
<text x="1270.20" y="611.80" font-size="20" text-anchor="end">5.0</text>
<line x1="1278.20" y1="531.50" x2="1293.60" y2="531.50" stroke="#000" stroke-width="3.2"/>
<text x="1270.20" y="540.40" font-size="20" text-anchor="end">5.5</text>
<line x1="1278.20" y1="817.10" x2="1695.90" y2="817.10" stroke="#000" stroke-width="3.2"/>
<line x1="1328.20" y1="817.10" x2="1328.20" y2="830.80" stroke="#000" stroke-width="3.2"/>
<line x1="1382.50" y1="817.10" x2="1382.50" y2="830.80" stroke="#000" stroke-width="3.2"/>
<line x1="1437.40" y1="817.10" x2="1437.40" y2="830.80" stroke="#000" stroke-width="3.2"/>
<line x1="1492.30" y1="817.10" x2="1492.30" y2="830.80" stroke="#000" stroke-width="3.2"/>
<line x1="1547.10" y1="817.10" x2="1547.10" y2="830.80" stroke="#000" stroke-width="3.2"/>
<line x1="1601.70" y1="817.10" x2="1601.70" y2="830.80" stroke="#000" stroke-width="3.2"/>
<line x1="1656.60" y1="817.10" x2="1656.60" y2="830.80" stroke="#000" stroke-width="3.2"/>
<text x="1334.70" y="848.50" text-anchor="end" transform="rotate(-45 1334.70 848.50)">Veh.</text>
<text x="1389.00" y="848.50" text-anchor="end" transform="rotate(-45 1389.00 848.50)">Veh.</text>
<text x="1443.90" y="848.50" text-anchor="end" transform="rotate(-45 1443.90 848.50)">CK666</text>
<text x="1498.80" y="848.50" text-anchor="end" transform="rotate(-45 1498.80 848.50)">EIPA</text>
<text x="1553.60" y="848.50" text-anchor="end" transform="rotate(-45 1553.60 848.50)">SC</text>
<text x="1608.20" y="848.50" text-anchor="end" transform="rotate(-45 1608.20 848.50)">SC</text>
<text x="1663.10" y="848.50" text-anchor="end" transform="rotate(-45 1663.10 848.50)">shV4</text>
<text x="1325.40" y="916.00" text-anchor="middle">0.77</text>
<text x="1325.40" y="940.60" text-anchor="middle">cP</text>
<text x="1547.70" y="916.00" text-anchor="middle">0.77</text>
<text x="1547.70" y="940.60" text-anchor="middle">cP</text>
<text x="1433.00" y="939.20" text-anchor="middle">8 cP</text>
<text x="1632.20" y="939.20" text-anchor="middle">8 cP</text>
<line x1="1366.00" y1="911.80" x2="1506.00" y2="911.80" stroke="#000" stroke-width="4"/>
<line x1="1582.00" y1="911.80" x2="1676.00" y2="911.80" stroke="#000" stroke-width="4"/>
<text x="1215.00" y="674.40" text-anchor="middle" transform="rotate(-90 1215.00 674.40)">Lifetime (ns)</text>
<polyline points="1328.20,596.80 1328.20,531.70 1379.00,531.70 1379.00,559.20" fill="none" stroke="#000" stroke-width="3"/>
<polyline points="1384.40,548.20 1384.40,531.70 1492.30,531.70 1492.30,597.60" fill="none" stroke="#000" stroke-width="3"/>
<polyline points="1391.30,574.30 1391.30,559.20 1437.40,559.20 1437.40,597.60" fill="none" stroke="#000" stroke-width="3"/>
<polyline points="1546.30,543.50 1546.30,504.80 1656.60,504.80 1656.60,517.20" fill="none" stroke="#000" stroke-width="3"/>
<polyline points="1546.90,610.00 1546.90,572.90 1597.60,572.90 1597.60,579.20" fill="none" stroke="#000" stroke-width="3"/>
<polyline points="1601.70,571.00 1601.70,555.00 1647.30,555.00 1647.30,571.00" fill="none" stroke="#000" stroke-width="3"/>
<text x="1352.90" y="531.40" font-size="24" text-anchor="middle" letter-spacing="1.2">****</text>
<text x="1437.10" y="531.40" font-size="24" text-anchor="middle" letter-spacing="1.2">****</text>
<text x="1414.60" y="559.10" font-size="24" text-anchor="middle" letter-spacing="1.2">****</text>
<text x="1602.60" y="505.40" font-size="24" text-anchor="middle" letter-spacing="1.2">**</text>
<text x="1573.00" y="573.40" font-size="24" text-anchor="middle" letter-spacing="1.2">***</text>
<text x="1625.00" y="546.80" text-anchor="middle">NS</text>
<text x="1736.50" y="488.30" font-size="33" font-weight="bold" stroke="#000" stroke-width="1.1">i</text>
<rect x="1851.00" y="531.90" width="55.90" height="417.40" fill="#ffd0d4"/>
<rect x="1916.30" y="531.90" width="185.90" height="417.40" fill="#c8c8fa"/>
<circle cx="1878.90" cy="631.84" r="2.90"/>
<circle cx="1878.90" cy="777.67" r="2.90"/>
<circle cx="1878.90" cy="782.37" r="2.90"/>
<circle cx="1873.90" cy="782.37" r="2.90"/>
<circle cx="1878.90" cy="787.08" r="2.90"/>
<circle cx="1873.90" cy="787.08" r="2.90"/>
<circle cx="1878.90" cy="791.78" r="2.90"/>
<circle cx="1873.90" cy="791.78" r="2.90"/>
<circle cx="1878.90" cy="796.48" r="2.90"/>
<circle cx="1873.90" cy="796.48" r="2.90"/>
<circle cx="1878.90" cy="801.19" r="2.90"/>
<circle cx="1873.90" cy="801.19" r="2.90"/>
<circle cx="1883.90" cy="801.19" r="2.90"/>
<circle cx="1878.90" cy="805.89" r="2.90"/>
<circle cx="1883.90" cy="805.89" r="2.90"/>
<circle cx="1873.90" cy="805.89" r="2.90"/>
<circle cx="1878.90" cy="810.60" r="2.90"/>
<circle cx="1873.90" cy="810.60" r="2.90"/>
<circle cx="1883.90" cy="810.60" r="2.90"/>
<circle cx="1878.90" cy="815.30" r="2.90"/>
<circle cx="1883.90" cy="815.30" r="2.90"/>
<circle cx="1873.90" cy="815.30" r="2.90"/>
<circle cx="1888.90" cy="815.30" r="2.90"/>
<circle cx="1868.90" cy="815.30" r="2.90"/>
<circle cx="1893.90" cy="815.30" r="2.90"/>
<circle cx="1863.90" cy="815.30" r="2.90"/>
<circle cx="1898.90" cy="815.30" r="2.90"/>
<circle cx="1858.90" cy="815.30" r="2.90"/>
<circle cx="1871.03" cy="815.30" r="2.90"/>
<circle cx="1891.31" cy="815.30" r="2.90"/>
<circle cx="1876.27" cy="815.30" r="2.90"/>
<circle cx="1866.54" cy="815.30" r="2.90"/>
<circle cx="1896.21" cy="815.30" r="2.90"/>
<circle cx="1881.93" cy="815.30" r="2.90"/>
<circle cx="1862.49" cy="815.30" r="2.90"/>
<circle cx="1887.11" cy="815.30" r="2.90"/>
<circle cx="1892.70" cy="815.30" r="2.90"/>
<circle cx="1860.71" cy="815.30" r="2.90"/>
<circle cx="1897.34" cy="815.30" r="2.90"/>
<circle cx="1867.73" cy="815.30" r="2.90"/>
<circle cx="1872.59" cy="815.30" r="2.90"/>
<circle cx="1877.77" cy="815.30" r="2.90"/>
<circle cx="1870.14" cy="815.30" r="2.90"/>
<circle cx="1884.93" cy="815.30" r="2.90"/>
<circle cx="1865.21" cy="815.30" r="2.90"/>
<circle cx="1881.36" cy="815.30" r="2.90"/>
<circle cx="1880.03" cy="815.30" r="2.90"/>
<circle cx="1874.77" cy="815.30" r="2.90"/>
<circle cx="1886.14" cy="815.30" r="2.90"/>
<circle cx="1944.20" cy="580.10" r="2.90"/>
<circle cx="1939.20" cy="580.10" r="2.90"/>
<circle cx="1944.20" cy="608.32" r="2.90"/>
<circle cx="1939.20" cy="608.32" r="2.90"/>
<circle cx="1944.20" cy="638.90" r="2.90"/>
<circle cx="1939.20" cy="638.90" r="2.90"/>
<circle cx="1944.20" cy="669.48" r="2.90"/>
<circle cx="1939.20" cy="669.48" r="2.90"/>
<circle cx="1944.20" cy="674.18" r="2.90"/>
<circle cx="1944.20" cy="683.59" r="2.90"/>
<circle cx="1944.20" cy="697.70" r="2.90"/>
<circle cx="1944.20" cy="725.92" r="2.90"/>
<circle cx="1949.20" cy="725.92" r="2.90"/>
<circle cx="1944.20" cy="740.04" r="2.90"/>
<circle cx="1944.20" cy="749.44" r="2.90"/>
<circle cx="1944.20" cy="756.50" r="2.90"/>
<circle cx="1949.20" cy="756.50" r="2.90"/>
<circle cx="1944.20" cy="763.56" r="2.90"/>
<circle cx="1944.20" cy="768.26" r="2.90"/>
<circle cx="1944.20" cy="772.96" r="2.90"/>
<circle cx="1944.20" cy="777.67" r="2.90"/>
<circle cx="1944.20" cy="782.37" r="2.90"/>
<circle cx="1944.20" cy="787.08" r="2.90"/>
<circle cx="1939.20" cy="787.08" r="2.90"/>
<circle cx="1944.20" cy="791.78" r="2.90"/>
<circle cx="1944.20" cy="796.48" r="2.90"/>
<circle cx="1944.20" cy="801.19" r="2.90"/>
<circle cx="1939.20" cy="801.19" r="2.90"/>
<circle cx="1949.20" cy="801.19" r="2.90"/>
<circle cx="1944.20" cy="805.89" r="2.90"/>
<circle cx="1949.20" cy="805.89" r="2.90"/>
<circle cx="1939.20" cy="805.89" r="2.90"/>
<circle cx="1954.20" cy="805.89" r="2.90"/>
<circle cx="1944.20" cy="810.60" r="2.90"/>
<circle cx="1949.20" cy="810.60" r="2.90"/>
<circle cx="1939.20" cy="810.60" r="2.90"/>
<circle cx="1944.20" cy="815.30" r="2.90"/>
<circle cx="1939.20" cy="815.30" r="2.90"/>
<circle cx="1949.20" cy="815.30" r="2.90"/>
<circle cx="1934.20" cy="815.30" r="2.90"/>
<circle cx="1954.20" cy="815.30" r="2.90"/>
<circle cx="1929.20" cy="815.30" r="2.90"/>
<circle cx="1959.20" cy="815.30" r="2.90"/>
<circle cx="1924.20" cy="815.30" r="2.90"/>
<circle cx="1964.20" cy="815.30" r="2.90"/>
<circle cx="1936.33" cy="815.30" r="2.90"/>
<circle cx="1956.61" cy="815.30" r="2.90"/>
<circle cx="1941.57" cy="815.30" r="2.90"/>
<circle cx="1931.84" cy="815.30" r="2.90"/>
<circle cx="1961.51" cy="815.30" r="2.90"/>
<circle cx="1947.23" cy="815.30" r="2.90"/>
<circle cx="1927.79" cy="815.30" r="2.90"/>
<circle cx="1952.41" cy="815.30" r="2.90"/>
<circle cx="1958.00" cy="815.30" r="2.90"/>
<circle cx="1926.01" cy="815.30" r="2.90"/>
<circle cx="1962.64" cy="815.30" r="2.90"/>
<circle cx="1933.03" cy="815.30" r="2.90"/>
<circle cx="1937.89" cy="815.30" r="2.90"/>
<circle cx="2009.50" cy="725.92" r="2.90"/>
<circle cx="2009.50" cy="740.04" r="2.90"/>
<circle cx="2009.50" cy="744.74" r="2.90"/>
<circle cx="2009.50" cy="749.44" r="2.90"/>
<circle cx="2009.50" cy="754.15" r="2.90"/>
<circle cx="2009.50" cy="758.85" r="2.90"/>
<circle cx="2009.50" cy="768.26" r="2.90"/>
<circle cx="2009.50" cy="772.96" r="2.90"/>
<circle cx="2009.50" cy="777.67" r="2.90"/>
<circle cx="2009.50" cy="787.08" r="2.90"/>
<circle cx="2009.50" cy="791.78" r="2.90"/>
<circle cx="2009.50" cy="796.48" r="2.90"/>
<circle cx="2014.50" cy="796.48" r="2.90"/>
<circle cx="2009.50" cy="801.19" r="2.90"/>
<circle cx="2014.50" cy="801.19" r="2.90"/>
<circle cx="2004.50" cy="801.19" r="2.90"/>
<circle cx="2019.50" cy="801.19" r="2.90"/>
<circle cx="2009.50" cy="805.89" r="2.90"/>
<circle cx="2014.50" cy="805.89" r="2.90"/>
<circle cx="2004.50" cy="805.89" r="2.90"/>
<circle cx="2019.50" cy="805.89" r="2.90"/>
<circle cx="1999.50" cy="805.89" r="2.90"/>
<circle cx="2009.50" cy="810.60" r="2.90"/>
<circle cx="2004.50" cy="810.60" r="2.90"/>
<circle cx="2014.50" cy="810.60" r="2.90"/>
<circle cx="1999.50" cy="810.60" r="2.90"/>
<circle cx="2019.50" cy="810.60" r="2.90"/>
<circle cx="2009.50" cy="815.30" r="2.90"/>
<circle cx="2014.50" cy="815.30" r="2.90"/>
<circle cx="2004.50" cy="815.30" r="2.90"/>
<circle cx="2019.50" cy="815.30" r="2.90"/>
<circle cx="1999.50" cy="815.30" r="2.90"/>
<circle cx="2024.50" cy="815.30" r="2.90"/>
<circle cx="1994.50" cy="815.30" r="2.90"/>
<circle cx="2029.50" cy="815.30" r="2.90"/>
<circle cx="1989.50" cy="815.30" r="2.90"/>
<circle cx="2001.63" cy="815.30" r="2.90"/>
<circle cx="2021.91" cy="815.30" r="2.90"/>
<circle cx="2006.87" cy="815.30" r="2.90"/>
<circle cx="1997.14" cy="815.30" r="2.90"/>
<circle cx="2026.81" cy="815.30" r="2.90"/>
<circle cx="2012.53" cy="815.30" r="2.90"/>
<circle cx="1993.09" cy="815.30" r="2.90"/>
<circle cx="2017.71" cy="815.30" r="2.90"/>
<circle cx="2023.30" cy="815.30" r="2.90"/>
<circle cx="1991.31" cy="815.30" r="2.90"/>
<circle cx="2027.94" cy="815.30" r="2.90"/>
<circle cx="1998.33" cy="815.30" r="2.90"/>
<circle cx="2003.19" cy="815.30" r="2.90"/>
<circle cx="2074.80" cy="768.26" r="2.90"/>
<circle cx="2074.80" cy="782.37" r="2.90"/>
<circle cx="2074.80" cy="791.78" r="2.90"/>
<circle cx="2074.80" cy="796.48" r="2.90"/>
<circle cx="2078.80" cy="798.84" r="2.90"/>
<circle cx="2074.80" cy="801.19" r="2.90"/>
<circle cx="2069.80" cy="801.19" r="2.90"/>
<circle cx="2082.80" cy="801.19" r="2.90"/>
<circle cx="2074.80" cy="805.89" r="2.90"/>
<circle cx="2069.80" cy="805.89" r="2.90"/>
<circle cx="2079.80" cy="805.89" r="2.90"/>
<circle cx="2064.80" cy="805.89" r="2.90"/>
<circle cx="2074.80" cy="810.60" r="2.90"/>
<circle cx="2069.80" cy="810.60" r="2.90"/>
<circle cx="2079.80" cy="810.60" r="2.90"/>
<circle cx="2064.80" cy="810.60" r="2.90"/>
<circle cx="2084.80" cy="810.60" r="2.90"/>
<circle cx="2059.80" cy="810.60" r="2.90"/>
<circle cx="2074.80" cy="815.30" r="2.90"/>
<circle cx="2069.80" cy="815.30" r="2.90"/>
<circle cx="2079.80" cy="815.30" r="2.90"/>
<circle cx="2064.80" cy="815.30" r="2.90"/>
<circle cx="2084.80" cy="815.30" r="2.90"/>
<circle cx="2059.80" cy="815.30" r="2.90"/>
<circle cx="2089.80" cy="815.30" r="2.90"/>
<circle cx="2054.80" cy="815.30" r="2.90"/>
<circle cx="2094.80" cy="815.30" r="2.90"/>
<circle cx="2066.93" cy="815.30" r="2.90"/>
<circle cx="2087.21" cy="815.30" r="2.90"/>
<circle cx="2072.17" cy="815.30" r="2.90"/>
<circle cx="2062.44" cy="815.30" r="2.90"/>
<circle cx="2092.11" cy="815.30" r="2.90"/>
<circle cx="2077.83" cy="815.30" r="2.90"/>
<circle cx="2058.39" cy="815.30" r="2.90"/>
<circle cx="2083.01" cy="815.30" r="2.90"/>
<circle cx="2088.60" cy="815.30" r="2.90"/>
<circle cx="2056.61" cy="815.30" r="2.90"/>
<circle cx="2093.24" cy="815.30" r="2.90"/>
<circle cx="2063.63" cy="815.30" r="2.90"/>
<circle cx="2068.49" cy="815.30" r="2.90"/>
<circle cx="2073.67" cy="815.30" r="2.90"/>
<circle cx="2066.04" cy="815.30" r="2.90"/>
<circle cx="2080.83" cy="815.30" r="2.90"/>
<circle cx="2061.11" cy="815.30" r="2.90"/>
<line x1="1878.90" y1="780.80" x2="1878.90" y2="815.30" stroke="#ff0000" stroke-width="4"/>
<line x1="1868.10" y1="780.80" x2="1889.70" y2="780.80" stroke="#ff0000" stroke-width="4"/>
<line x1="1857.60" y1="807.00" x2="1900.20" y2="807.00" stroke="#ff0000" stroke-width="4"/>
<line x1="1944.20" y1="695.10" x2="1944.20" y2="815.30" stroke="#ff0000" stroke-width="4"/>
<line x1="1933.40" y1="695.10" x2="1955.00" y2="695.10" stroke="#ff0000" stroke-width="4"/>
<line x1="1922.90" y1="763.00" x2="1965.50" y2="763.00" stroke="#ff0000" stroke-width="4"/>
<line x1="2009.50" y1="782.90" x2="2009.50" y2="815.30" stroke="#ff0000" stroke-width="4"/>
<line x1="1998.70" y1="782.90" x2="2020.30" y2="782.90" stroke="#ff0000" stroke-width="4"/>
<line x1="1988.20" y1="803.80" x2="2030.80" y2="803.80" stroke="#ff0000" stroke-width="4"/>
<line x1="2074.80" y1="799.60" x2="2074.80" y2="815.30" stroke="#ff0000" stroke-width="4"/>
<line x1="2064.00" y1="799.60" x2="2085.60" y2="799.60" stroke="#ff0000" stroke-width="4"/>
<line x1="2053.50" y1="808.50" x2="2096.10" y2="808.50" stroke="#ff0000" stroke-width="4"/>
<line x1="1836.30" y1="532.70" x2="1836.30" y2="816.90" stroke="#000" stroke-width="3.2"/>
<line x1="1824.10" y1="815.30" x2="1837.90" y2="815.30" stroke="#000" stroke-width="3.2"/>
<text x="1812.80" y="824.20" font-size="20" text-anchor="end">0</text>
<line x1="1824.10" y1="768.26" x2="1837.90" y2="768.26" stroke="#000" stroke-width="3.2"/>
<text x="1812.80" y="777.16" font-size="20" text-anchor="end">0.1</text>
<line x1="1824.10" y1="721.22" x2="1837.90" y2="721.22" stroke="#000" stroke-width="3.2"/>
<text x="1812.80" y="730.12" font-size="20" text-anchor="end">0.2</text>
<line x1="1824.10" y1="674.18" x2="1837.90" y2="674.18" stroke="#000" stroke-width="3.2"/>
<text x="1812.80" y="683.08" font-size="20" text-anchor="end">0.3</text>
<line x1="1824.10" y1="627.14" x2="1837.90" y2="627.14" stroke="#000" stroke-width="3.2"/>
<text x="1812.80" y="636.04" font-size="20" text-anchor="end">0.4</text>
<line x1="1824.10" y1="580.10" x2="1837.90" y2="580.10" stroke="#000" stroke-width="3.2"/>
<text x="1812.80" y="589.00" font-size="20" text-anchor="end">0.5</text>
<line x1="1824.10" y1="533.06" x2="1837.90" y2="533.06" stroke="#000" stroke-width="3.2"/>
<text x="1812.80" y="541.96" font-size="20" text-anchor="end">0.6</text>
<line x1="1824.10" y1="815.30" x2="2120.00" y2="815.30" stroke="#000" stroke-width="3.2"/>
<line x1="1878.90" y1="815.30" x2="1878.90" y2="826.50" stroke="#000" stroke-width="3.2"/>
<line x1="1944.20" y1="815.30" x2="1944.20" y2="826.50" stroke="#000" stroke-width="3.2"/>
<line x1="2009.50" y1="815.30" x2="2009.50" y2="826.50" stroke="#000" stroke-width="3.2"/>
<line x1="2074.80" y1="815.30" x2="2074.80" y2="826.50" stroke="#000" stroke-width="3.2"/>
<text x="1886.90" y="847.50" text-anchor="end" transform="rotate(-45 1886.90 847.50)">SC</text>
<text x="1952.20" y="847.50" text-anchor="end" transform="rotate(-45 1952.20 847.50)">SC</text>
<text x="2017.50" y="847.50" text-anchor="end" transform="rotate(-45 2017.50 847.50)">shV4</text>
<text x="2082.80" y="847.50" text-anchor="end" transform="rotate(-45 2082.80 847.50)">shNHE1</text>
<text x="1877.60" y="915.30" text-anchor="middle">0.77</text>
<text x="1877.60" y="940.10" text-anchor="middle">cP</text>
<text x="2003.50" y="938.80" text-anchor="middle">8 cP</text>
<line x1="1923.30" y1="912.00" x2="2094.40" y2="912.00" stroke="#000" stroke-width="4"/>
<text x="1759.50" y="677.60" text-anchor="middle" transform="rotate(-90 1759.50 677.60)">Number of spikes per min</text>
<polyline points="1878.40,609.00 1878.40,517.50 1946.00,517.50 1946.00,531.90" fill="none" stroke="#000" stroke-width="3"/>
<polyline points="1950.20,531.90 1950.20,517.50 2076.10,517.50 2076.10,531.90" fill="none" stroke="#000" stroke-width="3"/>
<polyline points="1950.20,563.20 1950.20,554.10 2009.40,554.10 2009.40,706.40" fill="none" stroke="#000" stroke-width="2.7"/>
<polyline points="2014.20,706.40 2014.20,554.10 2076.10,554.10 2076.10,736.90" fill="none" stroke="#000" stroke-width="2.7"/>
<text x="1910.30" y="519.00" font-size="24" text-anchor="middle" letter-spacing="1.2">****</text>
<text x="2010.80" y="519.00" font-size="24" text-anchor="middle" letter-spacing="1.2">****</text>
<text x="1977.40" y="556.90" font-size="24" text-anchor="middle" letter-spacing="1.2">***</text>
<text x="2040.90" y="547.00" text-anchor="middle">NS</text>
<text x="-1.00" y="1060.60" font-size="33" font-weight="bold" stroke="#000" stroke-width="1.1">j</text>
<rect x="153.75" y="1331.25" width="30.75" height="42.50" fill="#fca0a0"/>
<rect x="200.00" y="1332.00" width="30.50" height="41.75" fill="#fca0a0"/>
<rect x="207.00" y="1339.00" width="16.50" height="34.75" fill="#fff"/>
<rect x="268.75" y="1200.00" width="30.75" height="173.75" fill="#8f8fff"/>
<rect x="315.00" y="1291.25" width="30.75" height="82.50" fill="#8f8fff"/>
<rect x="322.00" y="1298.25" width="16.75" height="75.50" fill="#fff"/>
<rect x="384.25" y="1289.25" width="30.75" height="84.50" fill="#8f8fff"/>
<rect x="430.00" y="1333.25" width="30.75" height="40.50" fill="#8f8fff"/>
<rect x="437.00" y="1340.25" width="16.75" height="33.50" fill="#fff"/>
<line x1="169.00" y1="1310.00" x2="169.00" y2="1331.25" stroke="#ff0000" stroke-width="4"/>
<line x1="161.00" y1="1310.00" x2="177.00" y2="1310.00" stroke="#ff0000" stroke-width="4"/>
<line x1="215.25" y1="1323.00" x2="215.25" y2="1332.00" stroke="#ff0000" stroke-width="4"/>
<line x1="207.25" y1="1323.00" x2="223.25" y2="1323.00" stroke="#ff0000" stroke-width="4"/>
<line x1="284.25" y1="1178.00" x2="284.25" y2="1200.00" stroke="#ff0000" stroke-width="4"/>
<line x1="276.25" y1="1178.00" x2="292.25" y2="1178.00" stroke="#ff0000" stroke-width="4"/>
<line x1="330.25" y1="1268.75" x2="330.25" y2="1291.25" stroke="#ff0000" stroke-width="4"/>
<line x1="322.25" y1="1268.75" x2="338.25" y2="1268.75" stroke="#ff0000" stroke-width="4"/>
<line x1="399.50" y1="1268.25" x2="399.50" y2="1289.25" stroke="#ff0000" stroke-width="4"/>
<line x1="391.50" y1="1268.25" x2="407.50" y2="1268.25" stroke="#ff0000" stroke-width="4"/>
<line x1="445.50" y1="1322.00" x2="445.50" y2="1333.25" stroke="#ff0000" stroke-width="4"/>
<line x1="437.50" y1="1322.00" x2="453.50" y2="1322.00" stroke="#ff0000" stroke-width="4"/>
<circle cx="169.00" cy="1268.25" r="4.40" fill="none" stroke="#000" stroke-width="3.7"/>
<circle cx="158.00" cy="1344.50" r="4.40" fill="none" stroke="#000" stroke-width="3.7"/>
<circle cx="158.00" cy="1359.50" r="4.40" fill="none" stroke="#000" stroke-width="3.7"/>
<circle cx="180.00" cy="1351.75" r="4.40" fill="none" stroke="#000" stroke-width="3.7"/>
<circle cx="215.25" cy="1312.50" r="4.40" fill="none" stroke="#000" stroke-width="3.7"/>
<circle cx="204.50" cy="1327.00" r="4.40" fill="none" stroke="#000" stroke-width="3.7"/>
<circle cx="226.25" cy="1335.00" r="4.40" fill="none" stroke="#000" stroke-width="3.7"/>
<circle cx="215.25" cy="1353.75" r="4.40" fill="none" stroke="#000" stroke-width="3.7"/>
<circle cx="273.25" cy="1165.00" r="4.40" fill="none" stroke="#000" stroke-width="3.7"/>
<circle cx="295.50" cy="1158.75" r="4.40" fill="none" stroke="#000" stroke-width="3.7"/>
<circle cx="284.25" cy="1228.25" r="4.40" fill="none" stroke="#000" stroke-width="3.7"/>
<circle cx="284.25" cy="1248.25" r="4.40" fill="none" stroke="#000" stroke-width="3.7"/>
<circle cx="330.25" cy="1243.25" r="4.40" fill="none" stroke="#000" stroke-width="3.7"/>
<circle cx="330.25" cy="1272.00" r="4.40" fill="none" stroke="#000" stroke-width="3.7"/>
<circle cx="330.25" cy="1302.00" r="4.40" fill="none" stroke="#000" stroke-width="3.7"/>
<circle cx="330.25" cy="1350.00" r="4.40" fill="none" stroke="#000" stroke-width="3.7"/>
<circle cx="388.25" cy="1264.50" r="4.40" fill="none" stroke="#000" stroke-width="3.7"/>
<circle cx="410.50" cy="1260.50" r="4.40" fill="none" stroke="#000" stroke-width="3.7"/>
<circle cx="399.50" cy="1280.75" r="4.40" fill="none" stroke="#000" stroke-width="3.7"/>
<circle cx="399.50" cy="1350.50" r="4.40" fill="none" stroke="#000" stroke-width="3.7"/>
<circle cx="445.50" cy="1305.00" r="4.40" fill="none" stroke="#000" stroke-width="3.7"/>
<circle cx="434.50" cy="1333.00" r="4.40" fill="none" stroke="#000" stroke-width="3.7"/>
<circle cx="456.75" cy="1339.50" r="4.40" fill="none" stroke="#000" stroke-width="3.7"/>
<circle cx="445.50" cy="1357.50" r="4.40" fill="none" stroke="#000" stroke-width="3.7"/>
<line x1="138.75" y1="1086.25" x2="138.75" y2="1375.25" stroke="#000" stroke-width="3"/>
<line x1="126.25" y1="1373.75" x2="140.25" y2="1373.75" stroke="#000" stroke-width="3"/>
<text x="118.00" y="1382.65" font-size="20" text-anchor="end">0</text>
<line x1="126.25" y1="1277.92" x2="140.25" y2="1277.92" stroke="#000" stroke-width="3"/>
<text x="118.00" y="1286.82" font-size="20" text-anchor="end">100</text>
<line x1="126.25" y1="1182.09" x2="140.25" y2="1182.09" stroke="#000" stroke-width="3"/>
<text x="118.00" y="1190.99" font-size="20" text-anchor="end">200</text>
<line x1="126.25" y1="1086.26" x2="140.25" y2="1086.26" stroke="#000" stroke-width="3"/>
<text x="118.00" y="1095.16" font-size="20" text-anchor="end">300</text>
<line x1="126.25" y1="1373.75" x2="479.50" y2="1373.75" stroke="#000" stroke-width="3"/>
<line x1="169.00" y1="1373.75" x2="169.00" y2="1385.00" stroke="#000" stroke-width="3"/>
<line x1="215.25" y1="1373.75" x2="215.25" y2="1385.00" stroke="#000" stroke-width="3"/>
<line x1="284.25" y1="1373.75" x2="284.25" y2="1385.00" stroke="#000" stroke-width="3"/>
<line x1="330.25" y1="1373.75" x2="330.25" y2="1385.00" stroke="#000" stroke-width="3"/>
<line x1="399.50" y1="1373.75" x2="399.50" y2="1385.00" stroke="#000" stroke-width="3"/>
<line x1="445.50" y1="1373.75" x2="445.50" y2="1385.00" stroke="#000" stroke-width="3"/>
<text x="174.00" y="1407.00" text-anchor="end" transform="rotate(-45 174.00 1407.00)">SC</text>
<text x="220.25" y="1407.00" text-anchor="end" transform="rotate(-45 220.25 1407.00)">shTRPV4</text>
<text x="289.25" y="1407.00" text-anchor="end" transform="rotate(-45 289.25 1407.00)">SC</text>
<text x="335.25" y="1407.00" text-anchor="end" transform="rotate(-45 335.25 1407.00)">shTRPV4</text>
<text x="404.50" y="1407.00" text-anchor="end" transform="rotate(-45 404.50 1407.00)">SC</text>
<text x="450.50" y="1407.00" text-anchor="end" transform="rotate(-45 450.50 1407.00)">shTRPV4</text>
<text x="153.75" y="1237.50">0.77 cP</text>
<text x="284.25" y="1121.25">8 cP</text>
<text x="284.25" y="1150.10" font-size="24" text-anchor="middle" letter-spacing="1.2">***</text>
<text x="372.00" y="1218.00">8 cP + HC</text>
<text x="61.00" y="1224.40" text-anchor="middle" transform="rotate(-90 61.00 1224.40)"><tspan font-style="italic">I</tspan> (pA pF<tspan dy="-7" font-size="13">−1</tspan><tspan dy="7">)</tspan></text>
<text x="579.50" y="1062.50" font-size="33" font-weight="bold" stroke="#000" stroke-width="1.1">k</text>
<rect x="720.75" y="1034.50" width="18.25" height="18.75" fill="#ff8080"/>
<text x="748.00" y="1052.50" font-size="21">0.77 cP</text>
<rect x="886.25" y="1034.50" width="18.25" height="18.75" fill="#8f8fff"/>
<text x="912.50" y="1052.50" font-size="21">8 cP</text>
<rect x="725.00" y="1290.00" width="43.75" height="83.75" fill="#fca0a0"/>
<rect x="791.25" y="1299.25" width="43.75" height="74.50" fill="#fca0a0"/>
<rect x="857.00" y="1253.00" width="44.25" height="120.75" fill="#8f8fff"/>
<rect x="923.00" y="1293.75" width="44.00" height="80.00" fill="#8f8fff"/>
<circle cx="746.50" cy="1156.57" r="1.50"/>
<circle cx="746.50" cy="1178.00" r="1.50"/>
<circle cx="746.50" cy="1190.86" r="1.50"/>
<circle cx="746.50" cy="1201.88" r="1.50"/>
<circle cx="748.90" cy="1205.15" r="1.50"/>
<circle cx="745.30" cy="1206.20" r="1.50"/>
<circle cx="748.90" cy="1208.84" r="1.50"/>
<circle cx="742.90" cy="1209.44" r="1.50"/>
<circle cx="746.50" cy="1222.52" r="1.50"/>
<circle cx="742.90" cy="1223.97" r="1.50"/>
<circle cx="746.50" cy="1231.36" r="1.50"/>
<circle cx="746.50" cy="1235.66" r="1.50"/>
<circle cx="746.50" cy="1239.32" r="1.50"/>
<circle cx="742.90" cy="1242.00" r="1.50"/>
<circle cx="748.90" cy="1242.53" r="1.50"/>
<circle cx="752.50" cy="1243.99" r="1.50"/>
<circle cx="746.50" cy="1248.14" r="1.50"/>
<circle cx="742.90" cy="1248.69" r="1.50"/>
<circle cx="750.10" cy="1249.19" r="1.50"/>
<circle cx="739.30" cy="1250.58" r="1.50"/>
<circle cx="746.50" cy="1251.81" r="1.50"/>
<circle cx="742.90" cy="1252.84" r="1.50"/>
<circle cx="750.10" cy="1253.26" r="1.50"/>
<circle cx="753.70" cy="1253.51" r="1.50"/>
<circle cx="736.90" cy="1253.78" r="1.50"/>
<circle cx="757.30" cy="1254.78" r="1.50"/>
<circle cx="746.50" cy="1256.40" r="1.50"/>
<circle cx="742.90" cy="1256.72" r="1.50"/>
<circle cx="750.10" cy="1258.26" r="1.50"/>
<circle cx="739.30" cy="1258.68" r="1.50"/>
<circle cx="753.70" cy="1258.70" r="1.50"/>
<circle cx="735.70" cy="1258.79" r="1.50"/>
<circle cx="745.30" cy="1259.87" r="1.50"/>
<circle cx="757.30" cy="1260.51" r="1.50"/>
<circle cx="746.50" cy="1270.61" r="1.50"/>
<circle cx="742.90" cy="1271.79" r="1.50"/>
<circle cx="750.10" cy="1272.48" r="1.50"/>
<circle cx="739.30" cy="1273.30" r="1.50"/>
<circle cx="753.70" cy="1273.91" r="1.50"/>
<circle cx="746.50" cy="1274.99" r="1.50"/>
<circle cx="757.30" cy="1275.09" r="1.50"/>
<circle cx="735.70" cy="1275.11" r="1.50"/>
<circle cx="760.90" cy="1275.11" r="1.50"/>
<circle cx="732.10" cy="1275.20" r="1.50"/>
<circle cx="742.90" cy="1275.62" r="1.50"/>
<circle cx="750.10" cy="1276.19" r="1.50"/>
<circle cx="764.50" cy="1276.47" r="1.50"/>
<circle cx="728.50" cy="1276.70" r="1.50"/>
<circle cx="739.30" cy="1277.18" r="1.50"/>
<circle cx="745.52" cy="1277.34" r="1.50"/>
<circle cx="753.70" cy="1278.31" r="1.50"/>
<circle cx="735.70" cy="1279.22" r="1.50"/>
<circle cx="757.30" cy="1279.54" r="1.50"/>
<circle cx="732.10" cy="1279.55" r="1.50"/>
<circle cx="748.90" cy="1279.59" r="1.50"/>
<circle cx="742.90" cy="1279.86" r="1.50"/>
<circle cx="739.30" cy="1281.37" r="1.50"/>
<circle cx="752.50" cy="1282.03" r="1.50"/>
<circle cx="760.90" cy="1282.04" r="1.50"/>
<circle cx="728.50" cy="1282.23" r="1.50"/>
<circle cx="764.50" cy="1282.27" r="1.50"/>
<circle cx="746.50" cy="1283.02" r="1.50"/>
<circle cx="742.90" cy="1284.23" r="1.50"/>
<circle cx="736.90" cy="1284.30" r="1.50"/>
<circle cx="750.10" cy="1284.99" r="1.50"/>
<circle cx="753.70" cy="1285.76" r="1.50"/>
<circle cx="746.50" cy="1287.01" r="1.50"/>
<circle cx="740.50" cy="1287.26" r="1.50"/>
<circle cx="750.10" cy="1289.66" r="1.50"/>
<circle cx="744.10" cy="1290.10" r="1.50"/>
<circle cx="753.70" cy="1290.20" r="1.50"/>
<circle cx="738.10" cy="1290.39" r="1.50"/>
<circle cx="747.70" cy="1292.69" r="1.50"/>
<circle cx="741.70" cy="1293.14" r="1.50"/>
<circle cx="751.30" cy="1293.55" r="1.50"/>
<circle cx="754.90" cy="1293.96" r="1.50"/>
<circle cx="738.10" cy="1294.25" r="1.50"/>
<circle cx="734.50" cy="1295.24" r="1.50"/>
<circle cx="745.30" cy="1295.64" r="1.50"/>
<circle cx="758.50" cy="1295.90" r="1.50"/>
<circle cx="748.90" cy="1297.04" r="1.50"/>
<circle cx="741.70" cy="1297.54" r="1.50"/>
<circle cx="752.50" cy="1299.11" r="1.50"/>
<circle cx="738.10" cy="1299.16" r="1.50"/>
<circle cx="746.50" cy="1300.15" r="1.50"/>
<circle cx="742.90" cy="1302.68" r="1.50"/>
<circle cx="748.90" cy="1303.02" r="1.50"/>
<circle cx="752.50" cy="1304.06" r="1.50"/>
<circle cx="739.30" cy="1304.19" r="1.50"/>
<circle cx="746.50" cy="1306.80" r="1.50"/>
<circle cx="750.10" cy="1306.99" r="1.50"/>
<circle cx="742.90" cy="1307.08" r="1.50"/>
<circle cx="753.70" cy="1307.82" r="1.50"/>
<circle cx="739.30" cy="1307.87" r="1.50"/>
<circle cx="757.30" cy="1308.73" r="1.50"/>
<circle cx="746.50" cy="1310.52" r="1.50"/>
<circle cx="750.10" cy="1310.77" r="1.50"/>
<circle cx="742.90" cy="1310.91" r="1.50"/>
<circle cx="736.90" cy="1311.26" r="1.50"/>
<circle cx="753.70" cy="1311.73" r="1.50"/>
<circle cx="759.70" cy="1311.89" r="1.50"/>
<circle cx="733.30" cy="1312.91" r="1.50"/>
<circle cx="763.30" cy="1312.96" r="1.50"/>
<circle cx="729.70" cy="1313.02" r="1.50"/>
<circle cx="766.90" cy="1313.33" r="1.50"/>
<circle cx="726.10" cy="1313.47" r="1.50"/>
<circle cx="756.15" cy="1313.57" r="1.50"/>
<circle cx="745.33" cy="1313.58" r="1.50"/>
<circle cx="740.50" cy="1313.95" r="1.50"/>
<circle cx="748.90" cy="1316.04" r="1.50"/>
<circle cx="745.30" cy="1317.75" r="1.50"/>
<circle cx="748.90" cy="1319.87" r="1.50"/>
<circle cx="745.30" cy="1322.11" r="1.50"/>
<circle cx="748.90" cy="1323.53" r="1.50"/>
<circle cx="741.70" cy="1323.69" r="1.50"/>
<circle cx="752.50" cy="1324.88" r="1.50"/>
<circle cx="738.10" cy="1325.01" r="1.50"/>
<circle cx="746.50" cy="1326.36" r="1.50"/>
<circle cx="756.10" cy="1327.08" r="1.50"/>
<circle cx="742.90" cy="1327.98" r="1.50"/>
<circle cx="748.90" cy="1329.36" r="1.50"/>
<circle cx="752.50" cy="1330.61" r="1.50"/>
<circle cx="746.50" cy="1332.38" r="1.50"/>
<circle cx="742.90" cy="1332.62" r="1.50"/>
<circle cx="739.30" cy="1332.78" r="1.50"/>
<circle cx="748.90" cy="1335.63" r="1.50"/>
<circle cx="745.30" cy="1336.18" r="1.50"/>
<circle cx="741.70" cy="1336.42" r="1.50"/>
<circle cx="752.50" cy="1337.93" r="1.50"/>
<circle cx="738.10" cy="1338.56" r="1.50"/>
<circle cx="756.10" cy="1338.74" r="1.50"/>
<circle cx="746.50" cy="1346.36" r="1.50"/>
<circle cx="750.10" cy="1347.77" r="1.50"/>
<circle cx="744.10" cy="1349.74" r="1.50"/>
<circle cx="747.70" cy="1351.24" r="1.50"/>
<circle cx="812.75" cy="1192.29" r="1.50"/>
<circle cx="810.35" cy="1195.15" r="1.50"/>
<circle cx="812.75" cy="1206.58" r="1.50"/>
<circle cx="812.75" cy="1217.17" r="1.50"/>
<circle cx="816.35" cy="1217.38" r="1.50"/>
<circle cx="812.75" cy="1229.35" r="1.50"/>
<circle cx="815.15" cy="1232.64" r="1.50"/>
<circle cx="811.55" cy="1233.25" r="1.50"/>
<circle cx="812.75" cy="1239.39" r="1.50"/>
<circle cx="809.15" cy="1239.46" r="1.50"/>
<circle cx="812.75" cy="1247.41" r="1.50"/>
<circle cx="809.15" cy="1249.37" r="1.50"/>
<circle cx="812.75" cy="1251.11" r="1.50"/>
<circle cx="816.35" cy="1252.12" r="1.50"/>
<circle cx="806.75" cy="1252.58" r="1.50"/>
<circle cx="819.95" cy="1252.67" r="1.50"/>
<circle cx="810.35" cy="1254.12" r="1.50"/>
<circle cx="813.95" cy="1256.38" r="1.50"/>
<circle cx="817.55" cy="1256.77" r="1.50"/>
<circle cx="810.35" cy="1257.82" r="1.50"/>
<circle cx="815.15" cy="1259.91" r="1.50"/>
<circle cx="811.55" cy="1261.49" r="1.50"/>
<circle cx="817.55" cy="1263.22" r="1.50"/>
<circle cx="807.95" cy="1263.76" r="1.50"/>
<circle cx="812.75" cy="1266.13" r="1.50"/>
<circle cx="819.95" cy="1266.28" r="1.50"/>
<circle cx="816.35" cy="1267.35" r="1.50"/>
<circle cx="809.15" cy="1267.94" r="1.50"/>
<circle cx="805.55" cy="1268.88" r="1.50"/>
<circle cx="822.35" cy="1269.26" r="1.50"/>
<circle cx="812.75" cy="1270.65" r="1.50"/>
<circle cx="817.55" cy="1270.93" r="1.50"/>
<circle cx="809.15" cy="1271.79" r="1.50"/>
<circle cx="805.55" cy="1273.13" r="1.50"/>
<circle cx="812.75" cy="1275.12" r="1.50"/>
<circle cx="809.15" cy="1276.23" r="1.50"/>
<circle cx="816.35" cy="1276.37" r="1.50"/>
<circle cx="812.75" cy="1279.11" r="1.50"/>
<circle cx="818.75" cy="1279.18" r="1.50"/>
<circle cx="806.75" cy="1279.21" r="1.50"/>
<circle cx="822.35" cy="1279.90" r="1.50"/>
<circle cx="803.15" cy="1280.93" r="1.50"/>
<circle cx="825.95" cy="1281.10" r="1.50"/>
<circle cx="812.75" cy="1282.74" r="1.50"/>
<circle cx="816.35" cy="1282.97" r="1.50"/>
<circle cx="809.15" cy="1284.14" r="1.50"/>
<circle cx="819.95" cy="1284.95" r="1.50"/>
<circle cx="805.55" cy="1286.11" r="1.50"/>
<circle cx="823.55" cy="1286.13" r="1.50"/>
<circle cx="813.95" cy="1286.25" r="1.50"/>
<circle cx="801.95" cy="1286.71" r="1.50"/>
<circle cx="810.35" cy="1288.18" r="1.50"/>
<circle cx="816.35" cy="1288.98" r="1.50"/>
<circle cx="819.95" cy="1289.40" r="1.50"/>
<circle cx="806.75" cy="1289.74" r="1.50"/>
<circle cx="803.15" cy="1290.81" r="1.50"/>
<circle cx="812.75" cy="1291.00" r="1.50"/>
<circle cx="823.55" cy="1291.53" r="1.50"/>
<circle cx="799.55" cy="1292.35" r="1.50"/>
<circle cx="809.15" cy="1292.87" r="1.50"/>
<circle cx="816.35" cy="1293.38" r="1.50"/>
<circle cx="805.55" cy="1293.81" r="1.50"/>
<circle cx="819.95" cy="1294.22" r="1.50"/>
<circle cx="812.75" cy="1295.41" r="1.50"/>
<circle cx="812.75" cy="1299.71" r="1.50"/>
<circle cx="809.15" cy="1300.41" r="1.50"/>
<circle cx="816.35" cy="1302.00" r="1.50"/>
<circle cx="811.55" cy="1303.15" r="1.50"/>
<circle cx="807.95" cy="1304.61" r="1.50"/>
<circle cx="819.95" cy="1304.67" r="1.50"/>
<circle cx="804.35" cy="1304.75" r="1.50"/>
<circle cx="823.55" cy="1305.30" r="1.50"/>
<circle cx="800.75" cy="1305.37" r="1.50"/>
<circle cx="812.75" cy="1308.07" r="1.50"/>
<circle cx="816.35" cy="1308.15" r="1.50"/>
<circle cx="809.15" cy="1308.80" r="1.50"/>
<circle cx="819.95" cy="1309.38" r="1.50"/>
<circle cx="805.55" cy="1310.62" r="1.50"/>
<circle cx="823.55" cy="1310.80" r="1.50"/>
<circle cx="801.95" cy="1310.91" r="1.50"/>
<circle cx="812.75" cy="1312.93" r="1.50"/>
<circle cx="809.15" cy="1313.86" r="1.50"/>
<circle cx="816.35" cy="1313.98" r="1.50"/>
<circle cx="805.55" cy="1314.39" r="1.50"/>
<circle cx="819.95" cy="1315.41" r="1.50"/>
<circle cx="801.95" cy="1316.03" r="1.50"/>
<circle cx="823.55" cy="1316.04" r="1.50"/>
<circle cx="798.35" cy="1316.39" r="1.50"/>
<circle cx="812.75" cy="1316.92" r="1.50"/>
<circle cx="809.15" cy="1317.68" r="1.50"/>
<circle cx="816.35" cy="1317.88" r="1.50"/>
<circle cx="805.55" cy="1319.37" r="1.50"/>
<circle cx="819.95" cy="1319.83" r="1.50"/>
<circle cx="801.95" cy="1320.10" r="1.50"/>
<circle cx="823.55" cy="1320.30" r="1.50"/>
<circle cx="812.75" cy="1321.16" r="1.50"/>
<circle cx="816.35" cy="1321.58" r="1.50"/>
<circle cx="809.15" cy="1321.94" r="1.50"/>
<circle cx="827.15" cy="1322.46" r="1.50"/>
<circle cx="818.75" cy="1324.44" r="1.50"/>
<circle cx="813.95" cy="1324.75" r="1.50"/>
<circle cx="806.75" cy="1324.86" r="1.50"/>
<circle cx="822.35" cy="1325.07" r="1.50"/>
<circle cx="810.35" cy="1325.38" r="1.50"/>
<circle cx="803.15" cy="1326.25" r="1.50"/>
<circle cx="799.55" cy="1326.55" r="1.50"/>
<circle cx="825.95" cy="1327.43" r="1.50"/>
<circle cx="816.35" cy="1327.87" r="1.50"/>
<circle cx="812.75" cy="1328.28" r="1.50"/>
<circle cx="807.95" cy="1328.36" r="1.50"/>
<circle cx="819.95" cy="1329.90" r="1.50"/>
<circle cx="804.35" cy="1330.38" r="1.50"/>
<circle cx="815.15" cy="1331.63" r="1.50"/>
<circle cx="811.55" cy="1333.36" r="1.50"/>
<circle cx="813.95" cy="1336.73" r="1.50"/>
<circle cx="810.35" cy="1338.81" r="1.50"/>
<circle cx="817.55" cy="1339.04" r="1.50"/>
<circle cx="806.75" cy="1339.87" r="1.50"/>
<circle cx="813.95" cy="1340.47" r="1.50"/>
<circle cx="821.15" cy="1340.48" r="1.50"/>
<circle cx="803.15" cy="1341.42" r="1.50"/>
<circle cx="810.35" cy="1342.59" r="1.50"/>
<circle cx="812.75" cy="1347.80" r="1.50"/>
<circle cx="809.15" cy="1350.02" r="1.50"/>
<circle cx="812.75" cy="1352.31" r="1.50"/>
<circle cx="816.35" cy="1352.74" r="1.50"/>
<circle cx="809.15" cy="1354.70" r="1.50"/>
<circle cx="812.75" cy="1356.48" r="1.50"/>
<circle cx="878.75" cy="1128.00" r="1.50"/>
<circle cx="878.75" cy="1133.71" r="1.50"/>
<circle cx="878.75" cy="1142.28" r="1.50"/>
<circle cx="878.75" cy="1162.29" r="1.50"/>
<circle cx="878.75" cy="1172.29" r="1.50"/>
<circle cx="878.75" cy="1179.57" r="1.50"/>
<circle cx="878.75" cy="1183.25" r="1.50"/>
<circle cx="878.75" cy="1187.99" r="1.50"/>
<circle cx="881.15" cy="1191.04" r="1.50"/>
<circle cx="877.55" cy="1191.41" r="1.50"/>
<circle cx="873.95" cy="1192.14" r="1.50"/>
<circle cx="879.95" cy="1194.47" r="1.50"/>
<circle cx="878.75" cy="1198.78" r="1.50"/>
<circle cx="875.15" cy="1201.45" r="1.50"/>
<circle cx="881.15" cy="1201.84" r="1.50"/>
<circle cx="878.75" cy="1205.03" r="1.50"/>
<circle cx="882.35" cy="1205.64" r="1.50"/>
<circle cx="875.15" cy="1205.66" r="1.50"/>
<circle cx="885.95" cy="1206.56" r="1.50"/>
<circle cx="871.55" cy="1207.81" r="1.50"/>
<circle cx="878.75" cy="1209.27" r="1.50"/>
<circle cx="875.15" cy="1209.81" r="1.50"/>
<circle cx="878.75" cy="1213.78" r="1.50"/>
<circle cx="875.15" cy="1214.58" r="1.50"/>
<circle cx="882.35" cy="1215.65" r="1.50"/>
<circle cx="871.55" cy="1215.85" r="1.50"/>
<circle cx="885.95" cy="1216.59" r="1.50"/>
<circle cx="878.75" cy="1218.35" r="1.50"/>
<circle cx="882.35" cy="1220.00" r="1.50"/>
<circle cx="876.35" cy="1221.45" r="1.50"/>
<circle cx="872.75" cy="1221.48" r="1.50"/>
<circle cx="885.95" cy="1222.62" r="1.50"/>
<circle cx="878.75" cy="1225.56" r="1.50"/>
<circle cx="875.15" cy="1226.23" r="1.50"/>
<circle cx="882.35" cy="1226.51" r="1.50"/>
<circle cx="871.55" cy="1226.52" r="1.50"/>
<circle cx="878.75" cy="1229.57" r="1.50"/>
<circle cx="884.75" cy="1229.58" r="1.50"/>
<circle cx="881.15" cy="1232.30" r="1.50"/>
<circle cx="876.35" cy="1232.40" r="1.50"/>
<circle cx="884.75" cy="1233.22" r="1.50"/>
<circle cx="872.75" cy="1233.76" r="1.50"/>
<circle cx="888.35" cy="1234.10" r="1.50"/>
<circle cx="869.15" cy="1234.42" r="1.50"/>
<circle cx="878.75" cy="1237.19" r="1.50"/>
<circle cx="875.15" cy="1237.82" r="1.50"/>
<circle cx="882.35" cy="1238.09" r="1.50"/>
<circle cx="871.55" cy="1238.29" r="1.50"/>
<circle cx="885.95" cy="1238.83" r="1.50"/>
<circle cx="878.75" cy="1240.95" r="1.50"/>
<circle cx="875.15" cy="1241.58" r="1.50"/>
<circle cx="883.55" cy="1241.63" r="1.50"/>
<circle cx="871.55" cy="1244.05" r="1.50"/>
<circle cx="887.15" cy="1244.05" r="1.50"/>
<circle cx="867.95" cy="1244.30" r="1.50"/>
<circle cx="878.75" cy="1244.73" r="1.50"/>
<circle cx="878.75" cy="1248.76" r="1.50"/>
<circle cx="875.15" cy="1250.42" r="1.50"/>
<circle cx="882.35" cy="1251.31" r="1.50"/>
<circle cx="871.55" cy="1251.34" r="1.50"/>
<circle cx="878.75" cy="1253.10" r="1.50"/>
<circle cx="885.95" cy="1253.32" r="1.50"/>
<circle cx="889.55" cy="1253.51" r="1.50"/>
<circle cx="867.95" cy="1253.65" r="1.50"/>
<circle cx="893.15" cy="1253.79" r="1.50"/>
<circle cx="875.15" cy="1254.39" r="1.50"/>
<circle cx="882.35" cy="1255.73" r="1.50"/>
<circle cx="871.55" cy="1255.97" r="1.50"/>
<circle cx="865.55" cy="1256.41" r="1.50"/>
<circle cx="878.75" cy="1257.32" r="1.50"/>
<circle cx="885.95" cy="1257.71" r="1.50"/>
<circle cx="875.15" cy="1258.08" r="1.50"/>
<circle cx="882.35" cy="1259.71" r="1.50"/>
<circle cx="871.55" cy="1259.87" r="1.50"/>
<circle cx="889.55" cy="1260.02" r="1.50"/>
<circle cx="878.75" cy="1261.46" r="1.50"/>
<circle cx="885.95" cy="1261.65" r="1.50"/>
<circle cx="875.15" cy="1263.67" r="1.50"/>
<circle cx="881.15" cy="1264.85" r="1.50"/>
<circle cx="884.75" cy="1265.61" r="1.50"/>
<circle cx="877.55" cy="1266.94" r="1.50"/>
<circle cx="872.75" cy="1266.99" r="1.50"/>
<circle cx="888.35" cy="1268.02" r="1.50"/>
<circle cx="881.15" cy="1269.07" r="1.50"/>
<circle cx="877.55" cy="1270.91" r="1.50"/>
<circle cx="873.95" cy="1271.12" r="1.50"/>
<circle cx="884.75" cy="1271.14" r="1.50"/>
<circle cx="881.15" cy="1273.09" r="1.50"/>
<circle cx="870.35" cy="1273.14" r="1.50"/>
<circle cx="876.35" cy="1274.49" r="1.50"/>
<circle cx="884.75" cy="1275.34" r="1.50"/>
<circle cx="872.75" cy="1276.16" r="1.50"/>
<circle cx="879.95" cy="1276.99" r="1.50"/>
<circle cx="876.35" cy="1278.85" r="1.50"/>
<circle cx="883.55" cy="1279.46" r="1.50"/>
<circle cx="879.95" cy="1280.86" r="1.50"/>
<circle cx="876.35" cy="1282.62" r="1.50"/>
<circle cx="883.55" cy="1283.45" r="1.50"/>
<circle cx="872.75" cy="1283.84" r="1.50"/>
<circle cx="887.15" cy="1284.01" r="1.50"/>
<circle cx="878.75" cy="1285.40" r="1.50"/>
<circle cx="875.15" cy="1287.24" r="1.50"/>
<circle cx="878.75" cy="1290.07" r="1.50"/>
<circle cx="882.35" cy="1290.23" r="1.50"/>
<circle cx="872.75" cy="1290.50" r="1.50"/>
<circle cx="885.95" cy="1290.73" r="1.50"/>
<circle cx="878.75" cy="1295.06" r="1.50"/>
<circle cx="878.75" cy="1300.49" r="1.50"/>
<circle cx="879.95" cy="1304.04" r="1.50"/>
<circle cx="878.75" cy="1307.74" r="1.50"/>
<circle cx="882.35" cy="1308.97" r="1.50"/>
<circle cx="875.15" cy="1309.90" r="1.50"/>
<circle cx="885.95" cy="1310.16" r="1.50"/>
<circle cx="871.55" cy="1311.13" r="1.50"/>
<circle cx="889.55" cy="1311.21" r="1.50"/>
<circle cx="878.75" cy="1311.34" r="1.50"/>
<circle cx="867.95" cy="1312.21" r="1.50"/>
<circle cx="864.35" cy="1312.39" r="1.50"/>
<circle cx="878.75" cy="1315.83" r="1.50"/>
<circle cx="875.15" cy="1316.01" r="1.50"/>
<circle cx="882.35" cy="1316.17" r="1.50"/>
<circle cx="871.55" cy="1316.90" r="1.50"/>
<circle cx="884.75" cy="1318.96" r="1.50"/>
<circle cx="877.55" cy="1319.41" r="1.50"/>
<circle cx="878.75" cy="1323.73" r="1.50"/>
<circle cx="875.15" cy="1325.55" r="1.50"/>
<circle cx="882.35" cy="1326.14" r="1.50"/>
<circle cx="878.75" cy="1327.39" r="1.50"/>
<circle cx="885.95" cy="1328.08" r="1.50"/>
<circle cx="876.35" cy="1330.53" r="1.50"/>
<circle cx="881.15" cy="1330.67" r="1.50"/>
<circle cx="872.75" cy="1330.78" r="1.50"/>
<circle cx="878.75" cy="1336.79" r="1.50"/>
<circle cx="875.15" cy="1336.92" r="1.50"/>
<circle cx="878.75" cy="1342.07" r="1.50"/>
<circle cx="945.00" cy="1169.43" r="1.50"/>
<circle cx="945.00" cy="1183.72" r="1.50"/>
<circle cx="945.00" cy="1200.76" r="1.50"/>
<circle cx="941.40" cy="1203.36" r="1.50"/>
<circle cx="945.00" cy="1218.56" r="1.50"/>
<circle cx="941.40" cy="1219.47" r="1.50"/>
<circle cx="945.00" cy="1223.12" r="1.50"/>
<circle cx="945.00" cy="1227.83" r="1.50"/>
<circle cx="948.60" cy="1229.61" r="1.50"/>
<circle cx="945.00" cy="1233.68" r="1.50"/>
<circle cx="945.00" cy="1241.76" r="1.50"/>
<circle cx="941.40" cy="1242.08" r="1.50"/>
<circle cx="945.00" cy="1247.51" r="1.50"/>
<circle cx="941.40" cy="1248.51" r="1.50"/>
<circle cx="948.60" cy="1248.69" r="1.50"/>
<circle cx="937.80" cy="1248.95" r="1.50"/>
<circle cx="952.20" cy="1249.79" r="1.50"/>
<circle cx="934.20" cy="1250.16" r="1.50"/>
<circle cx="945.00" cy="1251.26" r="1.50"/>
<circle cx="955.80" cy="1251.59" r="1.50"/>
<circle cx="948.60" cy="1253.33" r="1.50"/>
<circle cx="942.60" cy="1254.33" r="1.50"/>
<circle cx="939.00" cy="1254.71" r="1.50"/>
<circle cx="946.20" cy="1256.68" r="1.50"/>
<circle cx="949.80" cy="1257.05" r="1.50"/>
<circle cx="953.40" cy="1257.29" r="1.50"/>
<circle cx="935.40" cy="1257.32" r="1.50"/>
<circle cx="942.60" cy="1258.91" r="1.50"/>
<circle cx="939.00" cy="1259.64" r="1.50"/>
<circle cx="957.00" cy="1259.65" r="1.50"/>
<circle cx="946.20" cy="1261.24" r="1.50"/>
<circle cx="942.60" cy="1262.74" r="1.50"/>
<circle cx="949.80" cy="1262.98" r="1.50"/>
<circle cx="939.00" cy="1263.64" r="1.50"/>
<circle cx="945.00" cy="1265.53" r="1.50"/>
<circle cx="952.20" cy="1266.27" r="1.50"/>
<circle cx="945.00" cy="1269.72" r="1.50"/>
<circle cx="941.40" cy="1270.05" r="1.50"/>
<circle cx="948.60" cy="1271.36" r="1.50"/>
<circle cx="937.80" cy="1271.87" r="1.50"/>
<circle cx="952.20" cy="1272.00" r="1.50"/>
<circle cx="934.20" cy="1272.01" r="1.50"/>
<circle cx="945.00" cy="1274.58" r="1.50"/>
<circle cx="941.40" cy="1274.79" r="1.50"/>
<circle cx="949.80" cy="1274.85" r="1.50"/>
<circle cx="937.80" cy="1276.05" r="1.50"/>
<circle cx="946.20" cy="1278.17" r="1.50"/>
<circle cx="942.60" cy="1278.64" r="1.50"/>
<circle cx="945.00" cy="1283.21" r="1.50"/>
<circle cx="941.40" cy="1283.37" r="1.50"/>
<circle cx="948.60" cy="1283.44" r="1.50"/>
<circle cx="937.80" cy="1283.76" r="1.50"/>
<circle cx="952.20" cy="1284.31" r="1.50"/>
<circle cx="934.20" cy="1284.96" r="1.50"/>
<circle cx="955.80" cy="1285.17" r="1.50"/>
<circle cx="930.60" cy="1285.80" r="1.50"/>
<circle cx="959.40" cy="1286.37" r="1.50"/>
<circle cx="927.00" cy="1286.52" r="1.50"/>
<circle cx="945.00" cy="1287.35" r="1.50"/>
<circle cx="941.40" cy="1288.78" r="1.50"/>
<circle cx="948.60" cy="1288.82" r="1.50"/>
<circle cx="937.80" cy="1288.98" r="1.50"/>
<circle cx="952.20" cy="1289.29" r="1.50"/>
<circle cx="934.20" cy="1289.90" r="1.50"/>
<circle cx="955.80" cy="1290.47" r="1.50"/>
<circle cx="945.00" cy="1291.35" r="1.50"/>
<circle cx="948.60" cy="1293.35" r="1.50"/>
<circle cx="942.60" cy="1294.37" r="1.50"/>
<circle cx="946.20" cy="1296.04" r="1.50"/>
<circle cx="939.00" cy="1296.63" r="1.50"/>
<circle cx="951.00" cy="1296.70" r="1.50"/>
<circle cx="935.40" cy="1296.87" r="1.50"/>
<circle cx="954.60" cy="1297.06" r="1.50"/>
<circle cx="931.80" cy="1297.54" r="1.50"/>
<circle cx="958.20" cy="1297.73" r="1.50"/>
<circle cx="942.60" cy="1298.66" r="1.50"/>
<circle cx="961.80" cy="1299.36" r="1.50"/>
<circle cx="946.20" cy="1300.14" r="1.50"/>
<circle cx="949.80" cy="1300.86" r="1.50"/>
<circle cx="939.00" cy="1301.07" r="1.50"/>
<circle cx="953.40" cy="1301.60" r="1.50"/>
<circle cx="942.60" cy="1302.66" r="1.50"/>
<circle cx="935.40" cy="1302.88" r="1.50"/>
<circle cx="957.00" cy="1302.93" r="1.50"/>
<circle cx="931.80" cy="1303.49" r="1.50"/>
<circle cx="946.20" cy="1303.89" r="1.50"/>
<circle cx="960.60" cy="1304.16" r="1.50"/>
<circle cx="940.20" cy="1305.56" r="1.50"/>
<circle cx="943.80" cy="1307.04" r="1.50"/>
<circle cx="948.60" cy="1307.28" r="1.50"/>
<circle cx="952.20" cy="1307.55" r="1.50"/>
<circle cx="936.60" cy="1307.90" r="1.50"/>
<circle cx="945.00" cy="1310.83" r="1.50"/>
<circle cx="941.40" cy="1311.36" r="1.50"/>
<circle cx="948.60" cy="1311.62" r="1.50"/>
<circle cx="937.80" cy="1311.75" r="1.50"/>
<circle cx="952.20" cy="1312.28" r="1.50"/>
<circle cx="934.20" cy="1312.30" r="1.50"/>
<circle cx="955.80" cy="1312.74" r="1.50"/>
<circle cx="945.00" cy="1314.63" r="1.50"/>
<circle cx="941.40" cy="1315.13" r="1.50"/>
<circle cx="948.60" cy="1316.78" r="1.50"/>
<circle cx="952.20" cy="1317.22" r="1.50"/>
<circle cx="937.80" cy="1317.49" r="1.50"/>
<circle cx="943.80" cy="1318.23" r="1.50"/>
<circle cx="934.20" cy="1318.66" r="1.50"/>
<circle cx="955.80" cy="1319.60" r="1.50"/>
<circle cx="947.40" cy="1320.48" r="1.50"/>
<circle cx="940.20" cy="1320.74" r="1.50"/>
<circle cx="951.00" cy="1321.52" r="1.50"/>
<circle cx="936.60" cy="1321.56" r="1.50"/>
<circle cx="945.00" cy="1323.86" r="1.50"/>
<circle cx="948.60" cy="1325.08" r="1.50"/>
<circle cx="941.40" cy="1325.39" r="1.50"/>
<circle cx="945.00" cy="1327.63" r="1.50"/>
<circle cx="939.00" cy="1328.17" r="1.50"/>
<circle cx="949.80" cy="1328.65" r="1.50"/>
<circle cx="953.40" cy="1328.81" r="1.50"/>
<circle cx="935.40" cy="1329.05" r="1.50"/>
<circle cx="957.00" cy="1329.45" r="1.50"/>
<circle cx="942.60" cy="1330.90" r="1.50"/>
<circle cx="931.80" cy="1330.92" r="1.50"/>
<circle cx="946.20" cy="1331.75" r="1.50"/>
<circle cx="949.80" cy="1332.48" r="1.50"/>
<circle cx="940.20" cy="1334.27" r="1.50"/>
<circle cx="945.00" cy="1335.55" r="1.50"/>
<circle cx="948.60" cy="1336.29" r="1.50"/>
<circle cx="952.20" cy="1336.70" r="1.50"/>
<circle cx="936.60" cy="1336.72" r="1.50"/>
<circle cx="942.60" cy="1338.41" r="1.50"/>
<circle cx="946.20" cy="1339.79" r="1.50"/>
<circle cx="949.80" cy="1340.77" r="1.50"/>
<circle cx="945.00" cy="1343.22" r="1.50"/>
<circle cx="941.40" cy="1345.02" r="1.50"/>
<circle cx="948.60" cy="1345.74" r="1.50"/>
<circle cx="937.80" cy="1346.21" r="1.50"/>
<circle cx="945.00" cy="1347.08" r="1.50"/>
<circle cx="941.40" cy="1349.25" r="1.50"/>
<circle cx="945.00" cy="1355.26" r="1.50"/>
<circle cx="941.40" cy="1357.12" r="1.50"/>
<circle cx="947.40" cy="1358.00" r="1.50"/>
<circle cx="951.00" cy="1358.10" r="1.50"/>
<line x1="746.50" y1="1252.00" x2="746.50" y2="1328.00" stroke="#ff0000" stroke-width="4"/>
<line x1="736.00" y1="1252.00" x2="757.00" y2="1252.00" stroke="#ff0000" stroke-width="4"/>
<line x1="736.00" y1="1328.00" x2="757.00" y2="1328.00" stroke="#ff0000" stroke-width="4"/>
<line x1="812.75" y1="1263.75" x2="812.75" y2="1334.50" stroke="#ff0000" stroke-width="4"/>
<line x1="802.25" y1="1263.75" x2="823.25" y2="1263.75" stroke="#ff0000" stroke-width="4"/>
<line x1="802.25" y1="1334.50" x2="823.25" y2="1334.50" stroke="#ff0000" stroke-width="4"/>
<line x1="878.75" y1="1207.00" x2="878.75" y2="1300.50" stroke="#ff0000" stroke-width="4"/>
<line x1="868.25" y1="1207.00" x2="889.25" y2="1207.00" stroke="#ff0000" stroke-width="4"/>
<line x1="868.25" y1="1300.50" x2="889.25" y2="1300.50" stroke="#ff0000" stroke-width="4"/>
<line x1="945.00" y1="1253.25" x2="945.00" y2="1333.75" stroke="#ff0000" stroke-width="4"/>
<line x1="934.50" y1="1253.25" x2="955.50" y2="1253.25" stroke="#ff0000" stroke-width="4"/>
<line x1="934.50" y1="1333.75" x2="955.50" y2="1333.75" stroke="#ff0000" stroke-width="4"/>
<line x1="703.00" y1="1088.00" x2="703.00" y2="1374.75" stroke="#000" stroke-width="2"/>
<line x1="695.00" y1="1373.75" x2="704.00" y2="1373.75" stroke="#000" stroke-width="2"/>
<text x="685.00" y="1382.65" font-size="20" text-anchor="end">0</text>
<line x1="695.00" y1="1302.31" x2="704.00" y2="1302.31" stroke="#000" stroke-width="2"/>
<text x="685.00" y="1311.21" font-size="20" text-anchor="end">50</text>
<line x1="695.00" y1="1230.87" x2="704.00" y2="1230.87" stroke="#000" stroke-width="2"/>
<text x="685.00" y="1239.77" font-size="20" text-anchor="end">100</text>
<line x1="695.00" y1="1159.43" x2="704.00" y2="1159.43" stroke="#000" stroke-width="2"/>
<text x="685.00" y="1168.33" font-size="20" text-anchor="end">150</text>
<line x1="695.00" y1="1087.99" x2="704.00" y2="1087.99" stroke="#000" stroke-width="2"/>
<text x="685.00" y="1096.89" font-size="20" text-anchor="end">200</text>
<line x1="695.00" y1="1373.75" x2="990.50" y2="1373.75" stroke="#000" stroke-width="2"/>
<line x1="746.50" y1="1373.75" x2="746.50" y2="1382.50" stroke="#000" stroke-width="2"/>
<line x1="812.75" y1="1373.75" x2="812.75" y2="1382.50" stroke="#000" stroke-width="2"/>
<line x1="878.75" y1="1373.75" x2="878.75" y2="1382.50" stroke="#000" stroke-width="2"/>
<line x1="945.00" y1="1373.75" x2="945.00" y2="1382.50" stroke="#000" stroke-width="2"/>
<text x="751.50" y="1406.50" text-anchor="end" transform="rotate(-45 751.50 1406.50)">SC</text>
<text x="817.75" y="1406.50" text-anchor="end" transform="rotate(-45 817.75 1406.50)">shTRPV4</text>
<text x="883.75" y="1406.50" text-anchor="end" transform="rotate(-45 883.75 1406.50)">SC</text>
<text x="950.00" y="1406.50" text-anchor="end" transform="rotate(-45 950.00 1406.50)">shTRPV4</text>
<polyline points="746.25,1150.00 746.25,1136.25 813.75,1136.25 813.75,1150.00" fill="none" stroke="#000" stroke-width="2"/>
<polyline points="746.25,1121.25 746.25,1103.25 873.75,1103.25 873.75,1121.25" fill="none" stroke="#000" stroke-width="2"/>
<polyline points="884.50,1121.25 884.50,1103.25 945.50,1103.25 945.50,1158.75" fill="none" stroke="#000" stroke-width="2"/>
<text x="781.25" y="1128.00" text-anchor="middle">NS</text>
<text x="810.00" y="1103.40" font-size="24" text-anchor="middle" letter-spacing="1.2">****</text>
<text x="915.00" y="1103.40" font-size="24" text-anchor="middle" letter-spacing="1.2">****</text>
<text x="628.00" y="1230.00" text-anchor="middle" transform="rotate(-90 628.00 1230.00)">Speed (µm h<tspan dy="-7" font-size="13">−1</tspan><tspan dy="7">)</tspan></text>
<text x="1055.50" y="1062.00" font-size="33" font-weight="bold" stroke="#000" stroke-width="1.1">l</text>
<rect x="1196.25" y="1338.25" width="30.00" height="36.75" fill="#fca0a0"/>
<rect x="1242.00" y="1322.00" width="30.50" height="53.00" fill="#fca0a0"/>
<rect x="1248.75" y="1328.75" width="17.00" height="46.25" fill="#fff"/>
<rect x="1311.25" y="1162.00" width="30.00" height="213.00" fill="#8f8fff"/>
<rect x="1357.00" y="1325.50" width="30.50" height="49.50" fill="#8f8fff"/>
<rect x="1363.75" y="1332.25" width="17.00" height="42.75" fill="#fff"/>
<rect x="1426.25" y="1324.50" width="30.00" height="50.50" fill="#8f8fff"/>
<rect x="1472.00" y="1326.75" width="30.50" height="48.25" fill="#8f8fff"/>
<rect x="1478.75" y="1333.50" width="17.00" height="41.50" fill="#fff"/>
<line x1="1211.25" y1="1315.00" x2="1211.25" y2="1338.25" stroke="#ff0000" stroke-width="4"/>
<line x1="1203.25" y1="1315.00" x2="1219.25" y2="1315.00" stroke="#ff0000" stroke-width="4"/>
<line x1="1257.00" y1="1298.75" x2="1257.00" y2="1322.00" stroke="#ff0000" stroke-width="4"/>
<line x1="1249.00" y1="1298.75" x2="1265.00" y2="1298.75" stroke="#ff0000" stroke-width="4"/>
<line x1="1326.25" y1="1135.50" x2="1326.25" y2="1162.00" stroke="#ff0000" stroke-width="4"/>
<line x1="1318.25" y1="1135.50" x2="1334.25" y2="1135.50" stroke="#ff0000" stroke-width="4"/>
<line x1="1372.00" y1="1305.50" x2="1372.00" y2="1325.50" stroke="#ff0000" stroke-width="4"/>
<line x1="1364.00" y1="1305.50" x2="1380.00" y2="1305.50" stroke="#ff0000" stroke-width="4"/>
<line x1="1441.25" y1="1293.25" x2="1441.25" y2="1324.50" stroke="#ff0000" stroke-width="4"/>
<line x1="1433.25" y1="1293.25" x2="1449.25" y2="1293.25" stroke="#ff0000" stroke-width="4"/>
<line x1="1487.00" y1="1306.25" x2="1487.00" y2="1326.75" stroke="#ff0000" stroke-width="4"/>
<line x1="1479.00" y1="1306.25" x2="1495.00" y2="1306.25" stroke="#ff0000" stroke-width="4"/>
<circle cx="1211.25" cy="1293.75" r="4.40" fill="none" stroke="#000" stroke-width="3.7"/>
<circle cx="1200.50" cy="1361.25" r="4.40" fill="none" stroke="#000" stroke-width="3.7"/>
<circle cx="1222.50" cy="1358.75" r="4.40" fill="none" stroke="#000" stroke-width="3.7"/>
<circle cx="1257.00" cy="1284.25" r="4.40" fill="none" stroke="#000" stroke-width="3.7"/>
<circle cx="1257.00" cy="1317.50" r="4.40" fill="none" stroke="#000" stroke-width="3.7"/>
<circle cx="1257.00" cy="1363.75" r="4.40" fill="none" stroke="#000" stroke-width="3.7"/>
<circle cx="1326.25" cy="1109.50" r="4.40" fill="none" stroke="#000" stroke-width="3.7"/>
<circle cx="1326.25" cy="1183.75" r="4.40" fill="none" stroke="#000" stroke-width="3.7"/>
<circle cx="1326.25" cy="1193.75" r="4.40" fill="none" stroke="#000" stroke-width="3.7"/>
<circle cx="1361.25" cy="1302.00" r="4.40" fill="none" stroke="#000" stroke-width="3.7"/>
<circle cx="1383.00" cy="1310.50" r="4.40" fill="none" stroke="#000" stroke-width="3.7"/>
<circle cx="1372.00" cy="1363.75" r="4.40" fill="none" stroke="#000" stroke-width="3.7"/>
<circle cx="1440.75" cy="1263.00" r="4.40" fill="none" stroke="#000" stroke-width="3.7"/>
<circle cx="1430.00" cy="1357.00" r="4.40" fill="none" stroke="#000" stroke-width="3.7"/>
<circle cx="1452.00" cy="1353.25" r="4.40" fill="none" stroke="#000" stroke-width="3.7"/>
<circle cx="1476.25" cy="1303.00" r="4.40" fill="none" stroke="#000" stroke-width="3.7"/>
<circle cx="1498.00" cy="1311.25" r="4.40" fill="none" stroke="#000" stroke-width="3.7"/>
<circle cx="1487.00" cy="1364.50" r="4.40" fill="none" stroke="#000" stroke-width="3.7"/>
<line x1="1181.25" y1="1087.50" x2="1181.25" y2="1376.50" stroke="#000" stroke-width="3"/>
<line x1="1168.75" y1="1375.00" x2="1182.75" y2="1375.00" stroke="#000" stroke-width="3"/>
<text x="1158.75" y="1383.90" font-size="20" text-anchor="end">0</text>
<line x1="1168.75" y1="1303.12" x2="1182.75" y2="1303.12" stroke="#000" stroke-width="3"/>
<text x="1158.75" y="1312.03" font-size="20" text-anchor="end">100</text>
<line x1="1168.75" y1="1231.25" x2="1182.75" y2="1231.25" stroke="#000" stroke-width="3"/>
<text x="1158.75" y="1240.15" font-size="20" text-anchor="end">200</text>
<line x1="1168.75" y1="1159.38" x2="1182.75" y2="1159.38" stroke="#000" stroke-width="3"/>
<text x="1158.75" y="1168.28" font-size="20" text-anchor="end">300</text>
<line x1="1168.75" y1="1087.50" x2="1182.75" y2="1087.50" stroke="#000" stroke-width="3"/>
<text x="1158.75" y="1096.40" font-size="20" text-anchor="end">400</text>
<line x1="1168.75" y1="1375.00" x2="1521.25" y2="1375.00" stroke="#000" stroke-width="3"/>
<line x1="1211.25" y1="1375.00" x2="1211.25" y2="1387.00" stroke="#000" stroke-width="3"/>
<line x1="1257.00" y1="1375.00" x2="1257.00" y2="1387.00" stroke="#000" stroke-width="3"/>
<line x1="1326.25" y1="1375.00" x2="1326.25" y2="1387.00" stroke="#000" stroke-width="3"/>
<line x1="1372.00" y1="1375.00" x2="1372.00" y2="1387.00" stroke="#000" stroke-width="3"/>
<line x1="1441.25" y1="1375.00" x2="1441.25" y2="1387.00" stroke="#000" stroke-width="3"/>
<line x1="1487.00" y1="1375.00" x2="1487.00" y2="1387.00" stroke="#000" stroke-width="3"/>
<text x="1216.25" y="1407.00" text-anchor="end" transform="rotate(-45 1216.25 1407.00)">SC</text>
<text x="1262.00" y="1407.00" text-anchor="end" transform="rotate(-45 1262.00 1407.00)">shNHE1</text>
<text x="1331.25" y="1407.00" text-anchor="end" transform="rotate(-45 1331.25 1407.00)">SC</text>
<text x="1377.00" y="1407.00" text-anchor="end" transform="rotate(-45 1377.00 1407.00)">shNHE1</text>
<text x="1446.25" y="1407.00" text-anchor="end" transform="rotate(-45 1446.25 1407.00)">SC</text>
<text x="1492.00" y="1407.00" text-anchor="end" transform="rotate(-45 1492.00 1407.00)">shNHE1</text>
<text x="1347.50" y="1063.00" text-anchor="middle">8 cP</text>
<text x="1325.00" y="1098.90" font-size="24" text-anchor="middle" letter-spacing="1.2">**</text>
<text x="1195.50" y="1237.50">0.77 cP</text>
<text x="1410.50" y="1218.00">8 cP + HC</text>
<text x="1090.00" y="1231.00" text-anchor="middle" transform="rotate(-90 1090.00 1231.00)"><tspan font-style="italic">I</tspan> (pA pF<tspan dy="-7" font-size="13">−1</tspan><tspan dy="7">)</tspan></text>
<text x="1605.00" y="1062.50" font-size="33" font-weight="bold" stroke="#000" stroke-width="1.1">m</text>
<rect x="1757.50" y="1038.00" width="18.00" height="18.25" fill="#ff8080"/>
<text x="1785.00" y="1054.50" font-size="21">0.77 cP</text>
<rect x="1922.00" y="1038.00" width="18.00" height="18.25" fill="#8f8fff"/>
<text x="1948.75" y="1054.50" font-size="21">8 cP</text>
<rect x="1768.75" y="1257.00" width="43.75" height="117.50" fill="#fca0a0"/>
<rect x="1834.50" y="1251.25" width="43.75" height="123.25" fill="#fca0a0"/>
<rect x="1900.50" y="1312.00" width="43.75" height="62.50" fill="#8f8fff"/>
<rect x="1966.25" y="1255.00" width="43.75" height="119.50" fill="#8f8fff"/>
<circle cx="1790.75" cy="1167.86" r="3.00"/>
<circle cx="1789.45" cy="1173.60" r="3.00"/>
<circle cx="1790.75" cy="1185.08" r="3.00"/>
<circle cx="1790.75" cy="1191.13" r="3.00"/>
<circle cx="1797.25" cy="1193.45" r="3.00"/>
<circle cx="1785.55" cy="1193.99" r="3.00"/>
<circle cx="1779.05" cy="1194.01" r="3.00"/>
<circle cx="1802.45" cy="1196.56" r="3.00"/>
<circle cx="1773.85" cy="1196.73" r="3.00"/>
<circle cx="1790.75" cy="1199.31" r="3.00"/>
<circle cx="1797.25" cy="1201.05" r="3.00"/>
<circle cx="1790.75" cy="1209.52" r="3.00"/>
<circle cx="1795.95" cy="1212.74" r="3.00"/>
<circle cx="1790.75" cy="1221.12" r="3.00"/>
<circle cx="1797.25" cy="1221.29" r="3.00"/>
<circle cx="1784.25" cy="1222.58" r="3.00"/>
<circle cx="1803.75" cy="1222.67" r="3.00"/>
<circle cx="1777.75" cy="1225.13" r="3.00"/>
<circle cx="1808.95" cy="1225.41" r="3.00"/>
<circle cx="1771.25" cy="1226.04" r="3.00"/>
<circle cx="1793.35" cy="1226.63" r="3.00"/>
<circle cx="1786.85" cy="1228.05" r="3.00"/>
<circle cx="1795.95" cy="1232.14" r="3.00"/>
<circle cx="1790.75" cy="1235.46" r="3.00"/>
<circle cx="1784.25" cy="1235.94" r="3.00"/>
<circle cx="1799.85" cy="1237.31" r="3.00"/>
<circle cx="1779.05" cy="1238.93" r="3.00"/>
<circle cx="1790.75" cy="1242.95" r="3.00"/>
<circle cx="1797.25" cy="1243.71" r="3.00"/>
<circle cx="1784.25" cy="1245.07" r="3.00"/>
<circle cx="1803.75" cy="1245.26" r="3.00"/>
<circle cx="1777.75" cy="1246.12" r="3.00"/>
<circle cx="1808.95" cy="1247.97" r="3.00"/>
<circle cx="1790.75" cy="1249.42" r="3.00"/>
<circle cx="1797.25" cy="1250.12" r="3.00"/>
<circle cx="1772.55" cy="1250.24" r="3.00"/>
<circle cx="1785.55" cy="1252.27" r="3.00"/>
<circle cx="1793.35" cy="1254.92" r="3.00"/>
<circle cx="1788.15" cy="1258.82" r="3.00"/>
<circle cx="1797.25" cy="1259.21" r="3.00"/>
<circle cx="1792.05" cy="1263.46" r="3.00"/>
<circle cx="1784.25" cy="1263.94" r="3.00"/>
<circle cx="1798.55" cy="1264.87" r="3.00"/>
<circle cx="1777.75" cy="1266.37" r="3.00"/>
<circle cx="1790.75" cy="1269.60" r="3.00"/>
<circle cx="1784.25" cy="1270.29" r="3.00"/>
<circle cx="1797.25" cy="1271.04" r="3.00"/>
<circle cx="1803.75" cy="1272.11" r="3.00"/>
<circle cx="1777.75" cy="1272.68" r="3.00"/>
<circle cx="1771.25" cy="1274.33" r="3.00"/>
<circle cx="1790.75" cy="1275.63" r="3.00"/>
<circle cx="1808.95" cy="1275.74" r="3.00"/>
<circle cx="1795.95" cy="1279.04" r="3.00"/>
<circle cx="1785.55" cy="1279.43" r="3.00"/>
<circle cx="1802.45" cy="1279.70" r="3.00"/>
<circle cx="1790.75" cy="1287.62" r="3.00"/>
<circle cx="1797.25" cy="1288.12" r="3.00"/>
<circle cx="1784.25" cy="1288.89" r="3.00"/>
<circle cx="1790.75" cy="1294.07" r="3.00"/>
<circle cx="1797.25" cy="1294.27" r="3.00"/>
<circle cx="1784.25" cy="1294.84" r="3.00"/>
<circle cx="1802.45" cy="1297.15" r="3.00"/>
<circle cx="1779.05" cy="1298.48" r="3.00"/>
<circle cx="1790.75" cy="1300.36" r="3.00"/>
<circle cx="1790.75" cy="1310.20" r="3.00"/>
<circle cx="1786.85" cy="1314.85" r="3.00"/>
<circle cx="1856.50" cy="1149.49" r="3.00"/>
<circle cx="1856.50" cy="1158.68" r="3.00"/>
<circle cx="1856.50" cy="1172.45" r="3.00"/>
<circle cx="1856.50" cy="1185.08" r="3.00"/>
<circle cx="1863.00" cy="1187.38" r="3.00"/>
<circle cx="1856.50" cy="1193.30" r="3.00"/>
<circle cx="1856.50" cy="1201.72" r="3.00"/>
<circle cx="1850.00" cy="1201.81" r="3.00"/>
<circle cx="1863.00" cy="1203.68" r="3.00"/>
<circle cx="1844.80" cy="1205.32" r="3.00"/>
<circle cx="1856.50" cy="1207.53" r="3.00"/>
<circle cx="1850.00" cy="1208.33" r="3.00"/>
<circle cx="1866.90" cy="1208.35" r="3.00"/>
<circle cx="1856.50" cy="1214.68" r="3.00"/>
<circle cx="1863.00" cy="1215.81" r="3.00"/>
<circle cx="1850.00" cy="1216.61" r="3.00"/>
<circle cx="1869.50" cy="1217.79" r="3.00"/>
<circle cx="1856.50" cy="1226.71" r="3.00"/>
<circle cx="1863.00" cy="1227.74" r="3.00"/>
<circle cx="1850.00" cy="1228.32" r="3.00"/>
<circle cx="1869.50" cy="1228.78" r="3.00"/>
<circle cx="1843.50" cy="1229.82" r="3.00"/>
<circle cx="1876.00" cy="1230.70" r="3.00"/>
<circle cx="1856.50" cy="1233.19" r="3.00"/>
<circle cx="1863.00" cy="1233.96" r="3.00"/>
<circle cx="1850.00" cy="1234.21" r="3.00"/>
<circle cx="1869.50" cy="1235.10" r="3.00"/>
<circle cx="1840.90" cy="1235.19" r="3.00"/>
<circle cx="1853.32" cy="1235.84" r="3.00"/>
<circle cx="1876.00" cy="1237.42" r="3.00"/>
<circle cx="1846.52" cy="1238.04" r="3.00"/>
<circle cx="1856.50" cy="1240.81" r="3.00"/>
<circle cx="1863.00" cy="1241.16" r="3.00"/>
<circle cx="1851.30" cy="1244.42" r="3.00"/>
<circle cx="1866.90" cy="1245.83" r="3.00"/>
<circle cx="1859.10" cy="1246.31" r="3.00"/>
<circle cx="1844.80" cy="1246.54" r="3.00"/>
<circle cx="1873.40" cy="1246.71" r="3.00"/>
<circle cx="1838.30" cy="1247.61" r="3.00"/>
<circle cx="1853.90" cy="1249.81" r="3.00"/>
<circle cx="1861.70" cy="1251.71" r="3.00"/>
<circle cx="1848.70" cy="1253.18" r="3.00"/>
<circle cx="1868.20" cy="1253.52" r="3.00"/>
<circle cx="1856.50" cy="1256.33" r="3.00"/>
<circle cx="1843.50" cy="1257.04" r="3.00"/>
<circle cx="1863.00" cy="1258.75" r="3.00"/>
<circle cx="1856.50" cy="1264.75" r="3.00"/>
<circle cx="1850.00" cy="1266.50" r="3.00"/>
<circle cx="1863.00" cy="1267.18" r="3.00"/>
<circle cx="1843.50" cy="1268.57" r="3.00"/>
<circle cx="1868.20" cy="1270.38" r="3.00"/>
<circle cx="1856.50" cy="1276.71" r="3.00"/>
<circle cx="1863.00" cy="1276.77" r="3.00"/>
<circle cx="1850.00" cy="1277.21" r="3.00"/>
<circle cx="1869.50" cy="1277.44" r="3.00"/>
<circle cx="1843.50" cy="1278.30" r="3.00"/>
<circle cx="1874.70" cy="1281.58" r="3.00"/>
<circle cx="1855.20" cy="1282.38" r="3.00"/>
<circle cx="1861.70" cy="1283.03" r="3.00"/>
<circle cx="1857.80" cy="1287.71" r="3.00"/>
<circle cx="1851.30" cy="1290.01" r="3.00"/>
<circle cx="1861.70" cy="1292.69" r="3.00"/>
<circle cx="1856.50" cy="1303.65" r="3.00"/>
<circle cx="1850.00" cy="1304.62" r="3.00"/>
<circle cx="1861.70" cy="1307.63" r="3.00"/>
<circle cx="1855.20" cy="1309.88" r="3.00"/>
<circle cx="1848.70" cy="1311.21" r="3.00"/>
<circle cx="1922.25" cy="1257.40" r="3.00"/>
<circle cx="1915.75" cy="1257.40" r="3.00"/>
<circle cx="1922.25" cy="1268.01" r="3.00"/>
<circle cx="1922.25" cy="1275.17" r="3.00"/>
<circle cx="1928.75" cy="1275.50" r="3.00"/>
<circle cx="1915.75" cy="1276.37" r="3.00"/>
<circle cx="1922.25" cy="1283.43" r="3.00"/>
<circle cx="1915.75" cy="1284.99" r="3.00"/>
<circle cx="1928.75" cy="1285.23" r="3.00"/>
<circle cx="1909.25" cy="1287.49" r="3.00"/>
<circle cx="1933.95" cy="1288.17" r="3.00"/>
<circle cx="1940.45" cy="1288.96" r="3.00"/>
<circle cx="1923.55" cy="1289.12" r="3.00"/>
<circle cx="1917.05" cy="1290.99" r="3.00"/>
<circle cx="1928.75" cy="1292.90" r="3.00"/>
<circle cx="1922.25" cy="1295.41" r="3.00"/>
<circle cx="1913.15" cy="1295.56" r="3.00"/>
<circle cx="1933.95" cy="1295.72" r="3.00"/>
<circle cx="1906.65" cy="1296.04" r="3.00"/>
<circle cx="1940.45" cy="1296.60" r="3.00"/>
<circle cx="1918.45" cy="1297.04" r="3.00"/>
<circle cx="1926.98" cy="1297.75" r="3.00"/>
<circle cx="1902.81" cy="1298.47" r="3.00"/>
<circle cx="1909.89" cy="1298.53" r="3.00"/>
<circle cx="1915.05" cy="1298.70" r="3.00"/>
<circle cx="1934.83" cy="1300.14" r="3.00"/>
<circle cx="1921.31" cy="1300.19" r="3.00"/>
<circle cx="1940.45" cy="1302.97" r="3.00"/>
<circle cx="1926.15" cy="1303.73" r="3.00"/>
<circle cx="1917.05" cy="1305.06" r="3.00"/>
<circle cx="1910.55" cy="1305.49" r="3.00"/>
<circle cx="1931.35" cy="1306.37" r="3.00"/>
<circle cx="1904.05" cy="1306.79" r="3.00"/>
<circle cx="1922.25" cy="1308.80" r="3.00"/>
<circle cx="1936.55" cy="1309.72" r="3.00"/>
<circle cx="1915.75" cy="1310.95" r="3.00"/>
<circle cx="1909.25" cy="1311.31" r="3.00"/>
<circle cx="1942.10" cy="1311.35" r="3.00"/>
<circle cx="1926.15" cy="1313.60" r="3.00"/>
<circle cx="1932.65" cy="1314.98" r="3.00"/>
<circle cx="1919.65" cy="1315.97" r="3.00"/>
<circle cx="1913.15" cy="1317.61" r="3.00"/>
<circle cx="1937.85" cy="1318.20" r="3.00"/>
<circle cx="1906.65" cy="1319.01" r="3.00"/>
<circle cx="1923.55" cy="1321.13" r="3.00"/>
<circle cx="1930.05" cy="1321.41" r="3.00"/>
<circle cx="1917.05" cy="1322.94" r="3.00"/>
<circle cx="1910.55" cy="1324.32" r="3.00"/>
<circle cx="1935.25" cy="1325.09" r="3.00"/>
<circle cx="1904.05" cy="1325.58" r="3.00"/>
<circle cx="1941.75" cy="1326.20" r="3.00"/>
<circle cx="1922.25" cy="1328.05" r="3.00"/>
<circle cx="1928.75" cy="1328.07" r="3.00"/>
<circle cx="1915.75" cy="1328.90" r="3.00"/>
<circle cx="1906.94" cy="1329.43" r="3.00"/>
<circle cx="1938.65" cy="1329.80" r="3.00"/>
<circle cx="1934.28" cy="1329.90" r="3.00"/>
<circle cx="1919.65" cy="1333.53" r="3.00"/>
<circle cx="1926.15" cy="1335.36" r="3.00"/>
<circle cx="1913.15" cy="1335.92" r="3.00"/>
<circle cx="1932.65" cy="1336.40" r="3.00"/>
<circle cx="1906.65" cy="1336.67" r="3.00"/>
<circle cx="1988.00" cy="1172.45" r="3.00"/>
<circle cx="1988.00" cy="1188.52" r="3.00"/>
<circle cx="1988.00" cy="1195.75" r="3.00"/>
<circle cx="1981.50" cy="1196.03" r="3.00"/>
<circle cx="1988.00" cy="1202.80" r="3.00"/>
<circle cx="1981.50" cy="1203.09" r="3.00"/>
<circle cx="1994.50" cy="1204.47" r="3.00"/>
<circle cx="1988.00" cy="1208.98" r="3.00"/>
<circle cx="1988.00" cy="1215.66" r="3.00"/>
<circle cx="1988.00" cy="1222.12" r="3.00"/>
<circle cx="1994.50" cy="1222.63" r="3.00"/>
<circle cx="1982.80" cy="1225.39" r="3.00"/>
<circle cx="1999.70" cy="1225.40" r="3.00"/>
<circle cx="1988.00" cy="1230.45" r="3.00"/>
<circle cx="1994.50" cy="1231.82" r="3.00"/>
<circle cx="1981.50" cy="1232.69" r="3.00"/>
<circle cx="2001.00" cy="1233.05" r="3.00"/>
<circle cx="1988.00" cy="1241.10" r="3.00"/>
<circle cx="1994.50" cy="1242.08" r="3.00"/>
<circle cx="1981.50" cy="1242.51" r="3.00"/>
<circle cx="2001.00" cy="1243.28" r="3.00"/>
<circle cx="1975.00" cy="1244.88" r="3.00"/>
<circle cx="2007.50" cy="1245.60" r="3.00"/>
<circle cx="1968.50" cy="1245.80" r="3.00"/>
<circle cx="1990.60" cy="1246.41" r="3.00"/>
<circle cx="1984.82" cy="1247.06" r="3.00"/>
<circle cx="1997.10" cy="1247.90" r="3.00"/>
<circle cx="1979.27" cy="1248.05" r="3.00"/>
<circle cx="2002.61" cy="1248.15" r="3.00"/>
<circle cx="1975.64" cy="1248.39" r="3.00"/>
<circle cx="1971.22" cy="1248.51" r="3.00"/>
<circle cx="2006.55" cy="1248.93" r="3.00"/>
<circle cx="1992.51" cy="1249.91" r="3.00"/>
<circle cx="1986.70" cy="1252.59" r="3.00"/>
<circle cx="1988.00" cy="1258.97" r="3.00"/>
<circle cx="1981.50" cy="1259.44" r="3.00"/>
<circle cx="1994.50" cy="1261.37" r="3.00"/>
<circle cx="1976.30" cy="1262.98" r="3.00"/>
<circle cx="2001.00" cy="1263.93" r="3.00"/>
<circle cx="1988.00" cy="1266.96" r="3.00"/>
<circle cx="1993.20" cy="1269.60" r="3.00"/>
<circle cx="1985.40" cy="1272.22" r="3.00"/>
<circle cx="1978.90" cy="1272.44" r="3.00"/>
<circle cx="1997.10" cy="1273.97" r="3.00"/>
<circle cx="1990.60" cy="1275.25" r="3.00"/>
<circle cx="1975.00" cy="1277.32" r="3.00"/>
<circle cx="2002.30" cy="1277.33" r="3.00"/>
<circle cx="1988.00" cy="1280.68" r="3.00"/>
<circle cx="1994.50" cy="1282.06" r="3.00"/>
<circle cx="1982.80" cy="1284.19" r="3.00"/>
<circle cx="1999.70" cy="1285.08" r="3.00"/>
<circle cx="1976.30" cy="1285.89" r="3.00"/>
<circle cx="1988.00" cy="1287.25" r="3.00"/>
<circle cx="1994.50" cy="1289.58" r="3.00"/>
<circle cx="1981.50" cy="1289.91" r="3.00"/>
<circle cx="2002.30" cy="1290.51" r="3.00"/>
<circle cx="1973.70" cy="1291.53" r="3.00"/>
<circle cx="1988.00" cy="1293.21" r="3.00"/>
<circle cx="1988.00" cy="1304.71" r="3.00"/>
<circle cx="1981.50" cy="1305.28" r="3.00"/>
<circle cx="1993.20" cy="1307.61" r="3.00"/>
<circle cx="1977.60" cy="1309.87" r="3.00"/>
<circle cx="1988.00" cy="1313.03" r="3.00"/>
<circle cx="1994.50" cy="1313.35" r="3.00"/>
<circle cx="1988.00" cy="1321.32" r="3.00"/>
<circle cx="1982.80" cy="1324.76" r="3.00"/>
<line x1="1790.75" y1="1219.25" x2="1790.75" y2="1293.00" stroke="#ff0000" stroke-width="4"/>
<line x1="1780.25" y1="1219.25" x2="1801.25" y2="1219.25" stroke="#ff0000" stroke-width="4"/>
<line x1="1780.25" y1="1293.00" x2="1801.25" y2="1293.00" stroke="#ff0000" stroke-width="4"/>
<line x1="1856.50" y1="1215.00" x2="1856.50" y2="1287.50" stroke="#ff0000" stroke-width="4"/>
<line x1="1846.00" y1="1215.00" x2="1867.00" y2="1215.00" stroke="#ff0000" stroke-width="4"/>
<line x1="1846.00" y1="1287.50" x2="1867.00" y2="1287.50" stroke="#ff0000" stroke-width="4"/>
<line x1="1922.25" y1="1290.50" x2="1922.25" y2="1333.00" stroke="#ff0000" stroke-width="4"/>
<line x1="1911.75" y1="1290.50" x2="1932.75" y2="1290.50" stroke="#ff0000" stroke-width="4"/>
<line x1="1911.75" y1="1333.00" x2="1932.75" y2="1333.00" stroke="#ff0000" stroke-width="4"/>
<line x1="1988.00" y1="1221.25" x2="1988.00" y2="1288.75" stroke="#ff0000" stroke-width="4"/>
<line x1="1977.50" y1="1221.25" x2="1998.50" y2="1221.25" stroke="#ff0000" stroke-width="4"/>
<line x1="1977.50" y1="1288.75" x2="1998.50" y2="1288.75" stroke="#ff0000" stroke-width="4"/>
<line x1="1747.00" y1="1087.50" x2="1747.00" y2="1375.50" stroke="#000" stroke-width="2"/>
<line x1="1735.00" y1="1374.50" x2="1748.00" y2="1374.50" stroke="#000" stroke-width="2"/>
<text x="1725.50" y="1383.40" font-size="20" text-anchor="end">0</text>
<line x1="1735.00" y1="1317.10" x2="1748.00" y2="1317.10" stroke="#000" stroke-width="2"/>
<text x="1725.50" y="1326.00" font-size="20" text-anchor="end">5</text>
<line x1="1735.00" y1="1259.70" x2="1748.00" y2="1259.70" stroke="#000" stroke-width="2"/>
<text x="1725.50" y="1268.60" font-size="20" text-anchor="end">10</text>
<line x1="1735.00" y1="1202.30" x2="1748.00" y2="1202.30" stroke="#000" stroke-width="2"/>
<text x="1725.50" y="1211.20" font-size="20" text-anchor="end">15</text>
<line x1="1735.00" y1="1144.90" x2="1748.00" y2="1144.90" stroke="#000" stroke-width="2"/>
<text x="1725.50" y="1153.80" font-size="20" text-anchor="end">20</text>
<line x1="1735.00" y1="1087.50" x2="1748.00" y2="1087.50" stroke="#000" stroke-width="2"/>
<text x="1725.50" y="1096.40" font-size="20" text-anchor="end">25</text>
<line x1="1735.00" y1="1374.50" x2="2033.75" y2="1374.50" stroke="#000" stroke-width="2"/>
<line x1="1790.75" y1="1374.50" x2="1790.75" y2="1386.25" stroke="#000" stroke-width="2"/>
<line x1="1856.50" y1="1374.50" x2="1856.50" y2="1386.25" stroke="#000" stroke-width="2"/>
<line x1="1922.25" y1="1374.50" x2="1922.25" y2="1386.25" stroke="#000" stroke-width="2"/>
<line x1="1988.00" y1="1374.50" x2="1988.00" y2="1386.25" stroke="#000" stroke-width="2"/>
<text x="1798.75" y="1403.00" text-anchor="end" transform="rotate(-45 1798.75 1403.00)">Vehicle</text>
<text x="1864.50" y="1403.00" text-anchor="end" transform="rotate(-45 1864.50 1403.00)">GSK2</text>
<text x="1930.25" y="1403.00" text-anchor="end" transform="rotate(-45 1930.25 1403.00)">Vehicle</text>
<text x="1996.00" y="1403.00" text-anchor="end" transform="rotate(-45 1996.00 1403.00)">GSK2</text>
<polyline points="1790.75,1142.50 1790.75,1128.75 1856.50,1128.75 1856.50,1142.50" fill="none" stroke="#000" stroke-width="2"/>
<polyline points="1790.75,1115.50 1790.75,1102.00 1920.50,1102.00 1920.50,1206.25" fill="none" stroke="#000" stroke-width="2"/>
<polyline points="1934.50,1206.25 1934.50,1102.00 1989.00,1102.00 1989.00,1128.75" fill="none" stroke="#000" stroke-width="2"/>
<text x="1823.75" y="1123.75" text-anchor="middle">NS</text>
<text x="1850.00" y="1101.40" font-size="24" text-anchor="middle" letter-spacing="1.2">****</text>
<text x="1961.25" y="1101.40" font-size="24" text-anchor="middle" letter-spacing="1.2">****</text>
<text x="1676.50" y="1232.50" text-anchor="middle" transform="rotate(-90 1676.50 1232.50)">First-cell dissociation time (h)</text>
<text x="0.50" y="1560.60" font-size="33" font-weight="bold" stroke="#000" stroke-width="1.1">n</text>
<rect x="170.10" y="1617.00" width="98.20" height="404.00" fill="#ffd0d4"/>
<rect x="282.00" y="1616.00" width="304.00" height="405.00" fill="#c8c8fa"/>
<line x1="144.80" y1="1882.30" x2="594.50" y2="1882.30" stroke="#000" stroke-width="2" stroke-dasharray="3.2,3.6"/>
<circle cx="192.00" cy="1836.59" r="4.40"/>
<circle cx="186.00" cy="1836.59" r="4.40"/>
<circle cx="197.00" cy="1840.40" r="4.40"/>
<circle cx="192.00" cy="1855.64" r="4.40"/>
<circle cx="197.00" cy="1859.45" r="4.40"/>
<circle cx="187.00" cy="1859.45" r="4.40"/>
<circle cx="192.00" cy="1863.25" r="4.40"/>
<circle cx="182.00" cy="1863.25" r="4.40"/>
<circle cx="197.00" cy="1867.06" r="4.40"/>
<circle cx="187.00" cy="1867.06" r="4.40"/>
<circle cx="203.00" cy="1867.06" r="4.40"/>
<circle cx="192.00" cy="1870.87" r="4.40"/>
<circle cx="182.00" cy="1870.87" r="4.40"/>
<circle cx="176.00" cy="1870.87" r="4.40"/>
<circle cx="208.00" cy="1870.87" r="4.40"/>
<circle cx="187.00" cy="1874.68" r="4.40"/>
<circle cx="197.00" cy="1874.68" r="4.40"/>
<circle cx="203.00" cy="1874.68" r="4.40"/>
<circle cx="191.25" cy="1874.68" r="4.40"/>
<circle cx="207.45" cy="1874.68" r="4.40"/>
<circle cx="182.00" cy="1878.49" r="4.40"/>
<circle cx="176.00" cy="1878.49" r="4.40"/>
<circle cx="193.56" cy="1878.49" r="4.40"/>
<circle cx="199.03" cy="1878.49" r="4.40"/>
<circle cx="205.85" cy="1878.49" r="4.40"/>
<circle cx="188.00" cy="1882.30" r="4.40"/>
<circle cx="202.06" cy="1882.30" r="4.40"/>
<circle cx="178.87" cy="1882.30" r="4.40"/>
<circle cx="207.88" cy="1882.30" r="4.40"/>
<circle cx="196.16" cy="1882.30" r="4.40"/>
<circle cx="193.09" cy="1882.30" r="4.40"/>
<circle cx="182.74" cy="1882.30" r="4.40"/>
<circle cx="176.73" cy="1882.30" r="4.40"/>
<circle cx="199.41" cy="1882.30" r="4.40"/>
<circle cx="190.15" cy="1882.30" r="4.40"/>
<circle cx="244.50" cy="1855.64" r="4.40"/>
<circle cx="238.50" cy="1855.64" r="4.40"/>
<circle cx="249.50" cy="1859.45" r="4.40"/>
<circle cx="233.50" cy="1859.45" r="4.40"/>
<circle cx="244.50" cy="1863.25" r="4.40"/>
<circle cx="238.50" cy="1863.25" r="4.40"/>
<circle cx="249.50" cy="1867.06" r="4.40"/>
<circle cx="233.50" cy="1867.06" r="4.40"/>
<circle cx="244.50" cy="1870.87" r="4.40"/>
<circle cx="238.50" cy="1870.87" r="4.40"/>
<circle cx="254.50" cy="1870.87" r="4.40"/>
<circle cx="249.50" cy="1874.68" r="4.40"/>
<circle cx="233.50" cy="1874.68" r="4.40"/>
<circle cx="259.50" cy="1874.68" r="4.40"/>
<circle cx="241.46" cy="1874.68" r="4.40"/>
<circle cx="254.50" cy="1878.49" r="4.40"/>
<circle cx="228.50" cy="1878.49" r="4.40"/>
<circle cx="237.52" cy="1878.49" r="4.40"/>
<circle cx="246.06" cy="1878.49" r="4.40"/>
<circle cx="249.88" cy="1878.49" r="4.40"/>
<circle cx="258.35" cy="1878.49" r="4.40"/>
<circle cx="242.74" cy="1882.30" r="4.40"/>
<circle cx="231.37" cy="1882.30" r="4.40"/>
<circle cx="260.38" cy="1882.30" r="4.40"/>
<circle cx="251.91" cy="1882.30" r="4.40"/>
<circle cx="247.90" cy="1882.30" r="4.40"/>
<circle cx="235.24" cy="1882.30" r="4.40"/>
<circle cx="239.71" cy="1882.30" r="4.40"/>
<circle cx="255.55" cy="1882.30" r="4.40"/>
<circle cx="244.78" cy="1882.30" r="4.40"/>
<circle cx="228.90" cy="1882.30" r="4.40"/>
<circle cx="296.60" cy="1630.91" r="4.40"/>
<circle cx="296.60" cy="1672.80" r="4.40"/>
<circle cx="302.60" cy="1672.80" r="4.40"/>
<circle cx="296.60" cy="1743.27" r="4.40"/>
<circle cx="296.60" cy="1792.79" r="4.40"/>
<circle cx="296.60" cy="1809.93" r="4.40"/>
<circle cx="302.60" cy="1809.93" r="4.40"/>
<circle cx="296.60" cy="1817.55" r="4.40"/>
<circle cx="302.60" cy="1817.55" r="4.40"/>
<circle cx="296.60" cy="1825.16" r="4.40"/>
<circle cx="302.60" cy="1825.16" r="4.40"/>
<circle cx="290.60" cy="1825.16" r="4.40"/>
<circle cx="296.60" cy="1832.78" r="4.40"/>
<circle cx="290.60" cy="1832.78" r="4.40"/>
<circle cx="296.60" cy="1844.21" r="4.40"/>
<circle cx="290.60" cy="1844.21" r="4.40"/>
<circle cx="302.60" cy="1844.21" r="4.40"/>
<circle cx="285.60" cy="1848.02" r="4.40"/>
<circle cx="307.60" cy="1848.02" r="4.40"/>
<circle cx="296.60" cy="1855.64" r="4.40"/>
<circle cx="302.60" cy="1855.64" r="4.40"/>
<circle cx="290.60" cy="1855.64" r="4.40"/>
<circle cx="307.60" cy="1859.45" r="4.40"/>
<circle cx="285.60" cy="1859.45" r="4.40"/>
<circle cx="293.56" cy="1859.45" r="4.40"/>
<circle cx="296.60" cy="1867.06" r="4.40"/>
<circle cx="302.60" cy="1867.06" r="4.40"/>
<circle cx="290.60" cy="1867.06" r="4.40"/>
<circle cx="307.60" cy="1870.87" r="4.40"/>
<circle cx="285.60" cy="1870.87" r="4.40"/>
<circle cx="296.60" cy="1878.49" r="4.40"/>
<circle cx="290.60" cy="1878.49" r="4.40"/>
<circle cx="302.60" cy="1878.49" r="4.40"/>
<circle cx="285.60" cy="1882.30" r="4.40"/>
<circle cx="307.60" cy="1882.30" r="4.40"/>
<circle cx="312.05" cy="1882.30" r="4.40"/>
<circle cx="281.05" cy="1882.30" r="4.40"/>
<circle cx="349.00" cy="1718.51" r="4.40"/>
<circle cx="349.00" cy="1726.13" r="4.40"/>
<circle cx="349.00" cy="1733.75" r="4.40"/>
<circle cx="349.00" cy="1771.84" r="4.40"/>
<circle cx="349.00" cy="1783.27" r="4.40"/>
<circle cx="343.00" cy="1783.27" r="4.40"/>
<circle cx="349.00" cy="1790.88" r="4.40"/>
<circle cx="343.00" cy="1790.88" r="4.40"/>
<circle cx="349.00" cy="1802.31" r="4.40"/>
<circle cx="349.00" cy="1817.55" r="4.40"/>
<circle cx="355.00" cy="1817.55" r="4.40"/>
<circle cx="349.00" cy="1825.16" r="4.40"/>
<circle cx="355.00" cy="1825.16" r="4.40"/>
<circle cx="343.00" cy="1825.16" r="4.40"/>
<circle cx="349.00" cy="1832.78" r="4.40"/>
<circle cx="343.00" cy="1832.78" r="4.40"/>
<circle cx="355.00" cy="1832.78" r="4.40"/>
<circle cx="349.00" cy="1840.40" r="4.40"/>
<circle cx="355.00" cy="1840.40" r="4.40"/>
<circle cx="343.00" cy="1840.40" r="4.40"/>
<circle cx="349.00" cy="1848.02" r="4.40"/>
<circle cx="343.00" cy="1848.02" r="4.40"/>
<circle cx="349.00" cy="1855.64" r="4.40"/>
<circle cx="343.00" cy="1855.64" r="4.40"/>
<circle cx="355.00" cy="1855.64" r="4.40"/>
<circle cx="349.00" cy="1863.25" r="4.40"/>
<circle cx="355.00" cy="1863.25" r="4.40"/>
<circle cx="343.00" cy="1863.25" r="4.40"/>
<circle cx="349.00" cy="1870.87" r="4.40"/>
<circle cx="343.00" cy="1870.87" r="4.40"/>
<circle cx="355.00" cy="1870.87" r="4.40"/>
<circle cx="349.00" cy="1878.49" r="4.40"/>
<circle cx="355.00" cy="1878.49" r="4.40"/>
<circle cx="343.00" cy="1878.49" r="4.40"/>
<circle cx="360.00" cy="1882.30" r="4.40"/>
<circle cx="338.00" cy="1882.30" r="4.40"/>
<circle cx="345.96" cy="1882.30" r="4.40"/>
<circle cx="364.45" cy="1882.30" r="4.40"/>
<circle cx="401.20" cy="1733.75" r="4.40"/>
<circle cx="401.20" cy="1796.60" r="4.40"/>
<circle cx="401.20" cy="1809.93" r="4.40"/>
<circle cx="395.20" cy="1809.93" r="4.40"/>
<circle cx="401.20" cy="1836.59" r="4.40"/>
<circle cx="395.20" cy="1836.59" r="4.40"/>
<circle cx="407.20" cy="1836.59" r="4.40"/>
<circle cx="401.20" cy="1844.21" r="4.40"/>
<circle cx="407.20" cy="1844.21" r="4.40"/>
<circle cx="395.20" cy="1844.21" r="4.40"/>
<circle cx="412.20" cy="1848.02" r="4.40"/>
<circle cx="390.20" cy="1848.02" r="4.40"/>
<circle cx="398.16" cy="1848.02" r="4.40"/>
<circle cx="416.65" cy="1848.02" r="4.40"/>
<circle cx="401.20" cy="1855.64" r="4.40"/>
<circle cx="395.20" cy="1855.64" r="4.40"/>
<circle cx="407.20" cy="1855.64" r="4.40"/>
<circle cx="389.20" cy="1855.64" r="4.40"/>
<circle cx="401.20" cy="1863.25" r="4.40"/>
<circle cx="395.20" cy="1863.25" r="4.40"/>
<circle cx="407.20" cy="1863.25" r="4.40"/>
<circle cx="389.20" cy="1863.25" r="4.40"/>
<circle cx="401.20" cy="1870.87" r="4.40"/>
<circle cx="395.20" cy="1870.87" r="4.40"/>
<circle cx="407.20" cy="1870.87" r="4.40"/>
<circle cx="389.20" cy="1870.87" r="4.40"/>
<circle cx="401.20" cy="1878.49" r="4.40"/>
<circle cx="395.20" cy="1878.49" r="4.40"/>
<circle cx="407.20" cy="1878.49" r="4.40"/>
<circle cx="389.20" cy="1878.49" r="4.40"/>
<circle cx="412.20" cy="1882.30" r="4.40"/>
<circle cx="385.65" cy="1882.30" r="4.40"/>
<circle cx="397.96" cy="1882.30" r="4.40"/>
<circle cx="453.40" cy="1781.36" r="4.40"/>
<circle cx="453.40" cy="1798.50" r="4.40"/>
<circle cx="459.40" cy="1798.50" r="4.40"/>
<circle cx="453.40" cy="1806.12" r="4.40"/>
<circle cx="459.40" cy="1806.12" r="4.40"/>
<circle cx="453.40" cy="1817.55" r="4.40"/>
<circle cx="459.40" cy="1817.55" r="4.40"/>
<circle cx="453.40" cy="1825.16" r="4.40"/>
<circle cx="459.40" cy="1825.16" r="4.40"/>
<circle cx="453.40" cy="1832.78" r="4.40"/>
<circle cx="459.40" cy="1832.78" r="4.40"/>
<circle cx="453.40" cy="1844.21" r="4.40"/>
<circle cx="459.40" cy="1844.21" r="4.40"/>
<circle cx="453.40" cy="1851.83" r="4.40"/>
<circle cx="459.40" cy="1851.83" r="4.40"/>
<circle cx="453.40" cy="1859.45" r="4.40"/>
<circle cx="459.40" cy="1859.45" r="4.40"/>
<circle cx="447.40" cy="1859.45" r="4.40"/>
<circle cx="453.40" cy="1867.06" r="4.40"/>
<circle cx="447.40" cy="1867.06" r="4.40"/>
<circle cx="459.40" cy="1867.06" r="4.40"/>
<circle cx="453.40" cy="1874.68" r="4.40"/>
<circle cx="459.40" cy="1874.68" r="4.40"/>
<circle cx="447.40" cy="1874.68" r="4.40"/>
<circle cx="465.40" cy="1874.68" r="4.40"/>
<circle cx="453.40" cy="1882.30" r="4.40"/>
<circle cx="459.40" cy="1882.30" r="4.40"/>
<circle cx="447.40" cy="1882.30" r="4.40"/>
<circle cx="465.40" cy="1882.30" r="4.40"/>
<circle cx="441.40" cy="1882.30" r="4.40"/>
<circle cx="505.50" cy="1806.12" r="4.40"/>
<circle cx="505.50" cy="1821.36" r="4.40"/>
<circle cx="511.50" cy="1821.36" r="4.40"/>
<circle cx="505.50" cy="1828.97" r="4.40"/>
<circle cx="511.50" cy="1828.97" r="4.40"/>
<circle cx="500.50" cy="1832.78" r="4.40"/>
<circle cx="505.50" cy="1851.83" r="4.40"/>
<circle cx="499.50" cy="1851.83" r="4.40"/>
<circle cx="505.50" cy="1863.25" r="4.40"/>
<circle cx="499.50" cy="1863.25" r="4.40"/>
<circle cx="511.50" cy="1863.25" r="4.40"/>
<circle cx="494.50" cy="1867.06" r="4.40"/>
<circle cx="516.50" cy="1867.06" r="4.40"/>
<circle cx="502.46" cy="1867.06" r="4.40"/>
<circle cx="507.50" cy="1870.87" r="4.40"/>
<circle cx="489.50" cy="1870.87" r="4.40"/>
<circle cx="521.50" cy="1870.87" r="4.40"/>
<circle cx="498.52" cy="1870.87" r="4.40"/>
<circle cx="512.50" cy="1874.68" r="4.40"/>
<circle cx="503.39" cy="1874.68" r="4.40"/>
<circle cx="517.36" cy="1874.68" r="4.40"/>
<circle cx="492.99" cy="1874.68" r="4.40"/>
<circle cx="498.50" cy="1878.49" r="4.40"/>
<circle cx="507.92" cy="1878.49" r="4.40"/>
<circle cx="519.05" cy="1878.49" r="4.40"/>
<circle cx="503.92" cy="1878.49" r="4.40"/>
<circle cx="514.89" cy="1878.49" r="4.40"/>
<circle cx="493.50" cy="1882.30" r="4.40"/>
<circle cx="511.28" cy="1882.30" r="4.40"/>
<circle cx="501.34" cy="1882.30" r="4.40"/>
<circle cx="521.12" cy="1882.30" r="4.40"/>
<circle cx="516.55" cy="1882.30" r="4.40"/>
<circle cx="505.78" cy="1882.30" r="4.40"/>
<circle cx="557.90" cy="1773.74" r="4.40"/>
<circle cx="557.90" cy="1811.83" r="4.40"/>
<circle cx="557.90" cy="1841.16" r="4.40"/>
<circle cx="557.90" cy="1851.83" r="4.40"/>
<circle cx="557.90" cy="1859.45" r="4.40"/>
<circle cx="551.90" cy="1859.45" r="4.40"/>
<circle cx="557.90" cy="1867.06" r="4.40"/>
<circle cx="551.90" cy="1867.06" r="4.40"/>
<circle cx="563.90" cy="1867.06" r="4.40"/>
<circle cx="546.90" cy="1870.87" r="4.40"/>
<circle cx="568.90" cy="1870.87" r="4.40"/>
<circle cx="554.86" cy="1870.87" r="4.40"/>
<circle cx="559.90" cy="1874.68" r="4.40"/>
<circle cx="541.90" cy="1874.68" r="4.40"/>
<circle cx="573.90" cy="1874.68" r="4.40"/>
<circle cx="550.92" cy="1874.68" r="4.40"/>
<circle cx="564.90" cy="1878.49" r="4.40"/>
<circle cx="555.79" cy="1878.49" r="4.40"/>
<circle cx="569.76" cy="1878.49" r="4.40"/>
<circle cx="545.39" cy="1878.49" r="4.40"/>
<circle cx="560.98" cy="1878.49" r="4.40"/>
<circle cx="550.90" cy="1882.30" r="4.40"/>
<circle cx="562.91" cy="1882.30" r="4.40"/>
<circle cx="573.78" cy="1882.30" r="4.40"/>
<circle cx="567.33" cy="1882.30" r="4.40"/>
<circle cx="542.75" cy="1882.30" r="4.40"/>
<circle cx="554.42" cy="1882.30" r="4.40"/>
<circle cx="558.02" cy="1882.30" r="4.40"/>
<circle cx="547.32" cy="1882.30" r="4.40"/>
<line x1="192.00" y1="1863.40" x2="192.00" y2="1886.80" stroke="#ff0000" stroke-width="4"/>
<line x1="182.75" y1="1863.40" x2="201.25" y2="1863.40" stroke="#ff0000" stroke-width="4"/>
<line x1="182.75" y1="1886.80" x2="201.25" y2="1886.80" stroke="#ff0000" stroke-width="4"/>
<line x1="175.00" y1="1875.30" x2="209.00" y2="1875.30" stroke="#ff0000" stroke-width="4"/>
<line x1="244.50" y1="1872.50" x2="244.50" y2="1884.70" stroke="#ff0000" stroke-width="4"/>
<line x1="235.25" y1="1872.50" x2="253.75" y2="1872.50" stroke="#ff0000" stroke-width="4"/>
<line x1="235.25" y1="1884.70" x2="253.75" y2="1884.70" stroke="#ff0000" stroke-width="4"/>
<line x1="227.50" y1="1878.30" x2="261.50" y2="1878.30" stroke="#ff0000" stroke-width="4"/>
<line x1="296.60" y1="1768.60" x2="296.60" y2="1887.80" stroke="#ff0000" stroke-width="4"/>
<line x1="287.35" y1="1768.60" x2="305.85" y2="1768.60" stroke="#ff0000" stroke-width="4"/>
<line x1="287.35" y1="1887.80" x2="305.85" y2="1887.80" stroke="#ff0000" stroke-width="4"/>
<line x1="279.60" y1="1828.30" x2="313.60" y2="1828.30" stroke="#ff0000" stroke-width="4"/>
<line x1="349.00" y1="1788.70" x2="349.00" y2="1879.20" stroke="#ff0000" stroke-width="4"/>
<line x1="339.75" y1="1788.70" x2="358.25" y2="1788.70" stroke="#ff0000" stroke-width="4"/>
<line x1="339.75" y1="1879.20" x2="358.25" y2="1879.20" stroke="#ff0000" stroke-width="4"/>
<line x1="332.00" y1="1834.40" x2="366.00" y2="1834.40" stroke="#ff0000" stroke-width="4"/>
<line x1="401.20" y1="1818.90" x2="401.20" y2="1881.70" stroke="#ff0000" stroke-width="4"/>
<line x1="391.95" y1="1818.90" x2="410.45" y2="1818.90" stroke="#ff0000" stroke-width="4"/>
<line x1="391.95" y1="1881.70" x2="410.45" y2="1881.70" stroke="#ff0000" stroke-width="4"/>
<line x1="384.20" y1="1850.30" x2="418.20" y2="1850.30" stroke="#ff0000" stroke-width="4"/>
<line x1="453.40" y1="1826.80" x2="453.40" y2="1885.30" stroke="#ff0000" stroke-width="4"/>
<line x1="444.15" y1="1826.80" x2="462.65" y2="1826.80" stroke="#ff0000" stroke-width="4"/>
<line x1="444.15" y1="1885.30" x2="462.65" y2="1885.30" stroke="#ff0000" stroke-width="4"/>
<line x1="436.40" y1="1856.40" x2="470.40" y2="1856.40" stroke="#ff0000" stroke-width="4"/>
<line x1="505.50" y1="1845.10" x2="505.50" y2="1890.80" stroke="#ff0000" stroke-width="4"/>
<line x1="496.25" y1="1845.10" x2="514.75" y2="1845.10" stroke="#ff0000" stroke-width="4"/>
<line x1="496.25" y1="1890.80" x2="514.75" y2="1890.80" stroke="#ff0000" stroke-width="4"/>
<line x1="488.50" y1="1868.60" x2="522.50" y2="1868.60" stroke="#ff0000" stroke-width="4"/>
<line x1="557.90" y1="1851.80" x2="557.90" y2="1893.00" stroke="#ff0000" stroke-width="4"/>
<line x1="548.65" y1="1851.80" x2="567.15" y2="1851.80" stroke="#ff0000" stroke-width="4"/>
<line x1="548.65" y1="1893.00" x2="567.15" y2="1893.00" stroke="#ff0000" stroke-width="4"/>
<line x1="540.90" y1="1873.10" x2="574.90" y2="1873.10" stroke="#ff0000" stroke-width="4"/>
<line x1="157.90" y1="1615.50" x2="157.90" y2="1902.70" stroke="#000" stroke-width="2.4"/>
<line x1="143.90" y1="1882.30" x2="159.10" y2="1882.30" stroke="#000" stroke-width="2.4"/>
<text x="134.90" y="1891.20" font-size="20" text-anchor="end">0</text>
<line x1="143.90" y1="1844.21" x2="159.10" y2="1844.21" stroke="#000" stroke-width="2.4"/>
<text x="134.90" y="1853.11" font-size="20" text-anchor="end">0.1</text>
<line x1="143.90" y1="1806.12" x2="159.10" y2="1806.12" stroke="#000" stroke-width="2.4"/>
<text x="134.90" y="1815.02" font-size="20" text-anchor="end">0.2</text>
<line x1="143.90" y1="1768.03" x2="159.10" y2="1768.03" stroke="#000" stroke-width="2.4"/>
<text x="134.90" y="1776.93" font-size="20" text-anchor="end">0.3</text>
<line x1="143.90" y1="1729.94" x2="159.10" y2="1729.94" stroke="#000" stroke-width="2.4"/>
<text x="134.90" y="1738.84" font-size="20" text-anchor="end">0.4</text>
<line x1="143.90" y1="1691.85" x2="159.10" y2="1691.85" stroke="#000" stroke-width="2.4"/>
<text x="134.90" y="1700.75" font-size="20" text-anchor="end">0.5</text>
<line x1="143.90" y1="1653.76" x2="159.10" y2="1653.76" stroke="#000" stroke-width="2.4"/>
<text x="134.90" y="1662.66" font-size="20" text-anchor="end">0.6</text>
<line x1="143.90" y1="1615.67" x2="159.10" y2="1615.67" stroke="#000" stroke-width="2.4"/>
<text x="134.90" y="1624.57" font-size="20" text-anchor="end">0.7</text>
<line x1="156.70" y1="1901.50" x2="593.90" y2="1901.50" stroke="#000" stroke-width="2.4"/>
<line x1="192.00" y1="1903.50" x2="192.00" y2="1915.80" stroke="#000" stroke-width="2.6"/>
<line x1="244.50" y1="1903.50" x2="244.50" y2="1915.80" stroke="#000" stroke-width="2.6"/>
<line x1="296.60" y1="1903.50" x2="296.60" y2="1915.80" stroke="#000" stroke-width="2.6"/>
<line x1="349.00" y1="1903.50" x2="349.00" y2="1915.80" stroke="#000" stroke-width="2.6"/>
<line x1="401.20" y1="1903.50" x2="401.20" y2="1915.80" stroke="#000" stroke-width="2.6"/>
<line x1="453.40" y1="1903.50" x2="453.40" y2="1915.80" stroke="#000" stroke-width="2.6"/>
<line x1="505.50" y1="1903.50" x2="505.50" y2="1915.80" stroke="#000" stroke-width="2.6"/>
<line x1="557.90" y1="1903.50" x2="557.90" y2="1915.80" stroke="#000" stroke-width="2.6"/>
<text x="42.70" y="1946.30">CK666 (µM):</text>
<text x="192.00" y="1946.30" text-anchor="middle">0</text>
<text x="244.50" y="1946.30" text-anchor="middle">100</text>
<text x="296.60" y="1946.30" text-anchor="middle">0</text>
<text x="349.00" y="1946.30" text-anchor="middle">1</text>
<text x="401.20" y="1946.30" text-anchor="middle">10</text>
<text x="453.40" y="1946.30" text-anchor="middle">25</text>
<text x="505.50" y="1946.30" text-anchor="middle">50</text>
<text x="557.90" y="1946.30" text-anchor="middle">100</text>
<line x1="177.40" y1="1964.00" x2="262.80" y2="1964.00" stroke="#000" stroke-width="4"/>
<line x1="291.20" y1="1964.00" x2="579.30" y2="1964.00" stroke="#000" stroke-width="4"/>
<text x="219.50" y="2002.00" text-anchor="middle">0.77 cP</text>
<text x="433.50" y="2002.00" text-anchor="middle">8 cP</text>
<text x="69.50" y="1749.00" text-anchor="middle" transform="rotate(-90 69.50 1749.00)">Number of spikes per min</text>
<polyline points="189.00,1577.40 189.00,1560.60 558.80,1560.60 558.80,1710.00" fill="none" stroke="#000" stroke-width="3"/>
<polyline points="308.50,1611.90 308.50,1591.10 529.90,1591.10 529.90,1741.10" fill="none" stroke="#000" stroke-width="3"/>
<line x1="500.90" y1="1741.10" x2="558.80" y2="1741.10" stroke="#000" stroke-width="3"/>
<polyline points="189.60,1772.50 189.60,1624.70 285.10,1624.70 285.10,1632.30" fill="none" stroke="#000" stroke-width="3"/>
<polyline points="309.50,1633.80 309.50,1624.70 406.40,1624.70 406.40,1697.20" fill="none" stroke="#000" stroke-width="3"/>
<line x1="349.10" y1="1697.20" x2="452.70" y2="1697.20" stroke="#000" stroke-width="3"/>
<polyline points="189.60,1806.00 189.60,1787.80 246.30,1787.80 246.30,1803.00" fill="none" stroke="#000" stroke-width="3"/>
<text x="379.00" y="1551.50" text-anchor="middle">NS</text>
<text x="425.30" y="1592.40" font-size="24" text-anchor="middle" letter-spacing="1.2">***</text>
<text x="233.20" y="1625.20" font-size="24" text-anchor="middle" letter-spacing="1.2">****</text>
<text x="357.30" y="1614.00" text-anchor="middle">NS</text>
<text x="219.50" y="1777.00" text-anchor="middle">NS</text>
<text x="1653.50" y="1561.20" font-size="33" font-weight="bold" stroke="#000" stroke-width="1.1">p</text>
<rect x="1786.60" y="1611.00" width="122.60" height="287.00" fill="#f5dcf6"/>
<rect x="1916.40" y="1611.00" width="123.40" height="287.00" fill="#eaf2e4"/>
<line x1="1770.60" y1="1887.98" x2="2058.40" y2="1887.98" stroke="#000" stroke-width="4.2" stroke-dasharray="8.5,4.5"/>
<circle cx="1813.80" cy="1868.03" r="3.80" fill="none" stroke="#000" stroke-width="2.8"/>
<circle cx="1807.80" cy="1868.33" r="3.80" fill="none" stroke="#000" stroke-width="2.8"/>
<circle cx="1819.80" cy="1869.96" r="3.80" fill="none" stroke="#000" stroke-width="2.8"/>
<circle cx="1801.80" cy="1870.28" r="3.80" fill="none" stroke="#000" stroke-width="2.8"/>
<circle cx="1825.80" cy="1870.41" r="3.80" fill="none" stroke="#000" stroke-width="2.8"/>
<circle cx="1795.80" cy="1872.93" r="3.80" fill="none" stroke="#000" stroke-width="2.8"/>
<circle cx="1810.80" cy="1873.28" r="3.80" fill="none" stroke="#000" stroke-width="2.8"/>
<circle cx="1831.80" cy="1873.28" r="3.80" fill="none" stroke="#000" stroke-width="2.8"/>
<circle cx="1816.80" cy="1874.59" r="3.80" fill="none" stroke="#000" stroke-width="2.8"/>
<circle cx="1804.80" cy="1875.66" r="3.80" fill="none" stroke="#000" stroke-width="2.8"/>
<circle cx="1822.80" cy="1876.05" r="3.80" fill="none" stroke="#000" stroke-width="2.8"/>
<circle cx="1826.89" cy="1876.51" r="3.80" fill="none" stroke="#000" stroke-width="2.8"/>
<circle cx="1832.15" cy="1876.63" r="3.80" fill="none" stroke="#000" stroke-width="2.8"/>
<circle cx="1798.63" cy="1876.97" r="3.80" fill="none" stroke="#000" stroke-width="2.8"/>
<circle cx="1813.56" cy="1877.17" r="3.80" fill="none" stroke="#000" stroke-width="2.8"/>
<circle cx="1806.96" cy="1877.50" r="3.80" fill="none" stroke="#000" stroke-width="2.8"/>
<circle cx="1802.00" cy="1877.69" r="3.80" fill="none" stroke="#000" stroke-width="2.8"/>
<circle cx="1819.75" cy="1877.70" r="3.80" fill="none" stroke="#000" stroke-width="2.8"/>
<circle cx="1829.64" cy="1879.93" r="3.80" fill="none" stroke="#000" stroke-width="2.8"/>
<circle cx="1824.95" cy="1880.22" r="3.80" fill="none" stroke="#000" stroke-width="2.8"/>
<circle cx="1795.81" cy="1880.74" r="3.80" fill="none" stroke="#000" stroke-width="2.8"/>
<circle cx="1816.69" cy="1881.20" r="3.80" fill="none" stroke="#000" stroke-width="2.8"/>
<circle cx="1810.80" cy="1882.41" r="3.80" fill="none" stroke="#000" stroke-width="2.8"/>
<circle cx="1804.80" cy="1882.72" r="3.80" fill="none" stroke="#000" stroke-width="2.8"/>
<circle cx="1832.35" cy="1882.78" r="3.80" fill="none" stroke="#000" stroke-width="2.8"/>
<circle cx="1820.50" cy="1883.49" r="3.80" fill="none" stroke="#000" stroke-width="2.8"/>
<circle cx="1826.63" cy="1883.87" r="3.80" fill="none" stroke="#000" stroke-width="2.8"/>
<circle cx="1796.54" cy="1884.59" r="3.80" fill="none" stroke="#000" stroke-width="2.8"/>
<circle cx="1807.51" cy="1884.70" r="3.80" fill="none" stroke="#000" stroke-width="2.8"/>
<circle cx="1814.85" cy="1885.10" r="3.80" fill="none" stroke="#000" stroke-width="2.8"/>
<circle cx="1801.94" cy="1885.38" r="3.80" fill="none" stroke="#000" stroke-width="2.8"/>
<circle cx="1832.30" cy="1885.97" r="3.80" fill="none" stroke="#000" stroke-width="2.8"/>
<circle cx="1819.47" cy="1886.84" r="3.80" fill="none" stroke="#000" stroke-width="2.8"/>
<circle cx="1824.91" cy="1887.13" r="3.80" fill="none" stroke="#000" stroke-width="2.8"/>
<circle cx="1879.90" cy="1761.31" r="3.80" fill="none" stroke="#000" stroke-width="2.8"/>
<circle cx="1879.90" cy="1799.31" r="3.80" fill="none" stroke="#000" stroke-width="2.8"/>
<circle cx="1879.90" cy="1822.34" r="3.80" fill="none" stroke="#000" stroke-width="2.8"/>
<circle cx="1879.90" cy="1833.86" r="3.80" fill="none" stroke="#000" stroke-width="2.8"/>
<circle cx="1879.90" cy="1839.62" r="3.80" fill="none" stroke="#000" stroke-width="2.8"/>
<circle cx="1879.90" cy="1847.68" r="3.80" fill="none" stroke="#000" stroke-width="2.8"/>
<circle cx="1879.90" cy="1853.44" r="3.80" fill="none" stroke="#000" stroke-width="2.8"/>
<circle cx="1873.90" cy="1855.74" r="3.80" fill="none" stroke="#000" stroke-width="2.8"/>
<circle cx="1879.90" cy="1860.82" r="3.80" fill="none" stroke="#000" stroke-width="2.8"/>
<circle cx="1885.90" cy="1861.01" r="3.80" fill="none" stroke="#000" stroke-width="2.8"/>
<circle cx="1873.90" cy="1863.75" r="3.80" fill="none" stroke="#000" stroke-width="2.8"/>
<circle cx="1867.90" cy="1863.94" r="3.80" fill="none" stroke="#000" stroke-width="2.8"/>
<circle cx="1891.90" cy="1864.09" r="3.80" fill="none" stroke="#000" stroke-width="2.8"/>
<circle cx="1882.90" cy="1866.03" r="3.80" fill="none" stroke="#000" stroke-width="2.8"/>
<circle cx="1897.90" cy="1866.03" r="3.80" fill="none" stroke="#000" stroke-width="2.8"/>
<circle cx="1861.90" cy="1866.31" r="3.80" fill="none" stroke="#000" stroke-width="2.8"/>
<circle cx="1876.88" cy="1867.72" r="3.80" fill="none" stroke="#000" stroke-width="2.8"/>
<circle cx="1888.63" cy="1867.93" r="3.80" fill="none" stroke="#000" stroke-width="2.8"/>
<circle cx="1870.80" cy="1868.18" r="3.80" fill="none" stroke="#000" stroke-width="2.8"/>
<circle cx="1893.87" cy="1868.55" r="3.80" fill="none" stroke="#000" stroke-width="2.8"/>
<circle cx="1865.04" cy="1869.03" r="3.80" fill="none" stroke="#000" stroke-width="2.8"/>
<circle cx="1881.43" cy="1870.48" r="3.80" fill="none" stroke="#000" stroke-width="2.8"/>
<circle cx="1885.85" cy="1870.78" r="3.80" fill="none" stroke="#000" stroke-width="2.8"/>
<circle cx="1898.76" cy="1870.83" r="3.80" fill="none" stroke="#000" stroke-width="2.8"/>
<circle cx="1873.54" cy="1871.28" r="3.80" fill="none" stroke="#000" stroke-width="2.8"/>
<circle cx="1861.91" cy="1872.21" r="3.80" fill="none" stroke="#000" stroke-width="2.8"/>
<circle cx="1868.90" cy="1872.53" r="3.80" fill="none" stroke="#000" stroke-width="2.8"/>
<circle cx="1877.07" cy="1873.66" r="3.80" fill="none" stroke="#000" stroke-width="2.8"/>
<circle cx="1890.40" cy="1873.87" r="3.80" fill="none" stroke="#000" stroke-width="2.8"/>
<circle cx="1881.40" cy="1877.58" r="3.80" fill="none" stroke="#000" stroke-width="2.8"/>
<circle cx="1872.40" cy="1877.69" r="3.80" fill="none" stroke="#000" stroke-width="2.8"/>
<circle cx="1887.40" cy="1878.72" r="3.80" fill="none" stroke="#000" stroke-width="2.8"/>
<circle cx="1893.40" cy="1878.97" r="3.80" fill="none" stroke="#000" stroke-width="2.8"/>
<circle cx="1866.40" cy="1879.20" r="3.80" fill="none" stroke="#000" stroke-width="2.8"/>
<circle cx="1897.63" cy="1879.73" r="3.80" fill="none" stroke="#000" stroke-width="2.8"/>
<circle cx="1876.48" cy="1880.60" r="3.80" fill="none" stroke="#000" stroke-width="2.8"/>
<circle cx="1861.37" cy="1880.64" r="3.80" fill="none" stroke="#000" stroke-width="2.8"/>
<circle cx="1870.00" cy="1881.08" r="3.80" fill="none" stroke="#000" stroke-width="2.8"/>
<circle cx="1882.49" cy="1882.34" r="3.80" fill="none" stroke="#000" stroke-width="2.8"/>
<circle cx="1889.61" cy="1882.68" r="3.80" fill="none" stroke="#000" stroke-width="2.8"/>
<circle cx="1864.07" cy="1883.69" r="3.80" fill="none" stroke="#000" stroke-width="2.8"/>
<circle cx="1894.10" cy="1884.36" r="3.80" fill="none" stroke="#000" stroke-width="2.8"/>
<circle cx="1874.09" cy="1884.94" r="3.80" fill="none" stroke="#000" stroke-width="2.8"/>
<circle cx="1879.90" cy="1887.96" r="3.80" fill="none" stroke="#000" stroke-width="2.8"/>
<circle cx="1946.50" cy="1815.43" r="3.80" fill="none" stroke="#000" stroke-width="2.8"/>
<circle cx="1946.50" cy="1830.40" r="3.80" fill="none" stroke="#000" stroke-width="2.8"/>
<circle cx="1952.50" cy="1831.56" r="3.80" fill="none" stroke="#000" stroke-width="2.8"/>
<circle cx="1940.50" cy="1832.71" r="3.80" fill="none" stroke="#000" stroke-width="2.8"/>
<circle cx="1946.50" cy="1836.16" r="3.80" fill="none" stroke="#000" stroke-width="2.8"/>
<circle cx="1942.00" cy="1839.62" r="3.80" fill="none" stroke="#000" stroke-width="2.8"/>
<circle cx="1946.50" cy="1844.22" r="3.80" fill="none" stroke="#000" stroke-width="2.8"/>
<circle cx="1942.00" cy="1848.48" r="3.80" fill="none" stroke="#000" stroke-width="2.8"/>
<circle cx="1949.50" cy="1849.02" r="3.80" fill="none" stroke="#000" stroke-width="2.8"/>
<circle cx="1955.50" cy="1850.43" r="3.80" fill="none" stroke="#000" stroke-width="2.8"/>
<circle cx="1937.50" cy="1852.70" r="3.80" fill="none" stroke="#000" stroke-width="2.8"/>
<circle cx="1946.50" cy="1855.64" r="3.80" fill="none" stroke="#000" stroke-width="2.8"/>
<circle cx="1952.50" cy="1856.14" r="3.80" fill="none" stroke="#000" stroke-width="2.8"/>
<circle cx="1940.50" cy="1857.38" r="3.80" fill="none" stroke="#000" stroke-width="2.8"/>
<circle cx="1958.50" cy="1857.75" r="3.80" fill="none" stroke="#000" stroke-width="2.8"/>
<circle cx="1934.50" cy="1857.76" r="3.80" fill="none" stroke="#000" stroke-width="2.8"/>
<circle cx="1964.50" cy="1858.60" r="3.80" fill="none" stroke="#000" stroke-width="2.8"/>
<circle cx="1928.50" cy="1860.02" r="3.80" fill="none" stroke="#000" stroke-width="2.8"/>
<circle cx="1946.50" cy="1861.69" r="3.80" fill="none" stroke="#000" stroke-width="2.8"/>
<circle cx="1952.50" cy="1862.42" r="3.80" fill="none" stroke="#000" stroke-width="2.8"/>
<circle cx="1937.50" cy="1862.53" r="3.80" fill="none" stroke="#000" stroke-width="2.8"/>
<circle cx="1959.59" cy="1862.72" r="3.80" fill="none" stroke="#000" stroke-width="2.8"/>
<circle cx="1964.85" cy="1863.22" r="3.80" fill="none" stroke="#000" stroke-width="2.8"/>
<circle cx="1931.33" cy="1863.68" r="3.80" fill="none" stroke="#000" stroke-width="2.8"/>
<circle cx="1942.66" cy="1865.43" r="3.80" fill="none" stroke="#000" stroke-width="2.8"/>
<circle cx="1948.45" cy="1865.48" r="3.80" fill="none" stroke="#000" stroke-width="2.8"/>
<circle cx="1934.70" cy="1865.69" r="3.80" fill="none" stroke="#000" stroke-width="2.8"/>
<circle cx="1955.50" cy="1867.07" r="3.80" fill="none" stroke="#000" stroke-width="2.8"/>
<circle cx="1961.63" cy="1867.53" r="3.80" fill="none" stroke="#000" stroke-width="2.8"/>
<circle cx="1946.50" cy="1873.39" r="3.80" fill="none" stroke="#000" stroke-width="2.8"/>
<circle cx="1952.50" cy="1874.60" r="3.80" fill="none" stroke="#000" stroke-width="2.8"/>
<circle cx="1946.50" cy="1879.36" r="3.80" fill="none" stroke="#000" stroke-width="2.8"/>
<circle cx="1940.50" cy="1879.50" r="3.80" fill="none" stroke="#000" stroke-width="2.8"/>
<circle cx="1952.50" cy="1880.62" r="3.80" fill="none" stroke="#000" stroke-width="2.8"/>
<circle cx="1946.50" cy="1885.37" r="3.80" fill="none" stroke="#000" stroke-width="2.8"/>
<circle cx="2013.10" cy="1659.97" r="3.80" fill="none" stroke="#000" stroke-width="2.8"/>
<circle cx="2013.10" cy="1679.54" r="3.80" fill="none" stroke="#000" stroke-width="2.8"/>
<circle cx="2013.10" cy="1714.09" r="3.80" fill="none" stroke="#000" stroke-width="2.8"/>
<circle cx="2013.10" cy="1778.58" r="3.80" fill="none" stroke="#000" stroke-width="2.8"/>
<circle cx="2013.10" cy="1786.64" r="3.80" fill="none" stroke="#000" stroke-width="2.8"/>
<circle cx="2013.10" cy="1794.70" r="3.80" fill="none" stroke="#000" stroke-width="2.8"/>
<circle cx="2013.10" cy="1803.92" r="3.80" fill="none" stroke="#000" stroke-width="2.8"/>
<circle cx="2013.10" cy="1815.43" r="3.80" fill="none" stroke="#000" stroke-width="2.8"/>
<circle cx="2013.10" cy="1824.65" r="3.80" fill="none" stroke="#000" stroke-width="2.8"/>
<circle cx="2007.10" cy="1826.95" r="3.80" fill="none" stroke="#000" stroke-width="2.8"/>
<circle cx="2013.10" cy="1831.56" r="3.80" fill="none" stroke="#000" stroke-width="2.8"/>
<circle cx="2008.60" cy="1836.16" r="3.80" fill="none" stroke="#000" stroke-width="2.8"/>
<circle cx="2013.10" cy="1841.92" r="3.80" fill="none" stroke="#000" stroke-width="2.8"/>
<circle cx="2008.60" cy="1846.53" r="3.80" fill="none" stroke="#000" stroke-width="2.8"/>
<circle cx="2013.10" cy="1849.98" r="3.80" fill="none" stroke="#000" stroke-width="2.8"/>
<circle cx="2007.10" cy="1852.28" r="3.80" fill="none" stroke="#000" stroke-width="2.8"/>
<circle cx="2017.60" cy="1853.44" r="3.80" fill="none" stroke="#000" stroke-width="2.8"/>
<circle cx="2023.60" cy="1854.59" r="3.80" fill="none" stroke="#000" stroke-width="2.8"/>
<circle cx="2011.60" cy="1855.74" r="3.80" fill="none" stroke="#000" stroke-width="2.8"/>
<circle cx="2005.60" cy="1858.04" r="3.80" fill="none" stroke="#000" stroke-width="2.8"/>
<circle cx="2016.10" cy="1860.35" r="3.80" fill="none" stroke="#000" stroke-width="2.8"/>
<circle cx="2010.10" cy="1862.65" r="3.80" fill="none" stroke="#000" stroke-width="2.8"/>
<circle cx="2020.60" cy="1864.95" r="3.80" fill="none" stroke="#000" stroke-width="2.8"/>
<circle cx="2014.60" cy="1866.10" r="3.80" fill="none" stroke="#000" stroke-width="2.8"/>
<circle cx="2005.60" cy="1867.26" r="3.80" fill="none" stroke="#000" stroke-width="2.8"/>
<circle cx="2025.10" cy="1868.41" r="3.80" fill="none" stroke="#000" stroke-width="2.8"/>
<circle cx="1999.60" cy="1869.56" r="3.80" fill="none" stroke="#000" stroke-width="2.8"/>
<circle cx="2013.10" cy="1871.86" r="3.80" fill="none" stroke="#000" stroke-width="2.8"/>
<circle cx="2019.10" cy="1873.01" r="3.80" fill="none" stroke="#000" stroke-width="2.8"/>
<circle cx="2007.10" cy="1874.16" r="3.80" fill="none" stroke="#000" stroke-width="2.8"/>
<circle cx="2023.60" cy="1876.47" r="3.80" fill="none" stroke="#000" stroke-width="2.8"/>
<circle cx="2013.10" cy="1877.62" r="3.80" fill="none" stroke="#000" stroke-width="2.8"/>
<circle cx="2002.60" cy="1878.77" r="3.80" fill="none" stroke="#000" stroke-width="2.8"/>
<circle cx="2008.60" cy="1881.07" r="3.80" fill="none" stroke="#000" stroke-width="2.8"/>
<line x1="1813.80" y1="1872.00" x2="1813.80" y2="1884.80" stroke="#ff0000" stroke-width="4"/>
<line x1="1804.05" y1="1872.00" x2="1823.55" y2="1872.00" stroke="#ff0000" stroke-width="4"/>
<line x1="1804.05" y1="1884.80" x2="1823.55" y2="1884.80" stroke="#ff0000" stroke-width="4"/>
<line x1="1791.80" y1="1879.50" x2="1835.80" y2="1879.50" stroke="#ff0000" stroke-width="4"/>
<line x1="1879.90" y1="1838.70" x2="1879.90" y2="1888.80" stroke="#ff0000" stroke-width="4"/>
<line x1="1870.15" y1="1838.70" x2="1889.65" y2="1838.70" stroke="#ff0000" stroke-width="4"/>
<line x1="1870.15" y1="1888.80" x2="1889.65" y2="1888.80" stroke="#ff0000" stroke-width="4"/>
<line x1="1857.90" y1="1864.00" x2="1901.90" y2="1864.00" stroke="#ff0000" stroke-width="4"/>
<line x1="1946.50" y1="1840.00" x2="1946.50" y2="1876.80" stroke="#ff0000" stroke-width="4"/>
<line x1="1936.75" y1="1840.00" x2="1956.25" y2="1840.00" stroke="#ff0000" stroke-width="4"/>
<line x1="1936.75" y1="1876.80" x2="1956.25" y2="1876.80" stroke="#ff0000" stroke-width="4"/>
<line x1="1924.50" y1="1859.00" x2="1968.50" y2="1859.00" stroke="#ff0000" stroke-width="4"/>
<line x1="2013.10" y1="1779.50" x2="2013.10" y2="1884.80" stroke="#ff0000" stroke-width="4"/>
<line x1="2003.35" y1="1779.50" x2="2022.85" y2="1779.50" stroke="#ff0000" stroke-width="4"/>
<line x1="2003.35" y1="1884.80" x2="2022.85" y2="1884.80" stroke="#ff0000" stroke-width="4"/>
<line x1="1991.10" y1="1832.80" x2="2035.10" y2="1832.80" stroke="#ff0000" stroke-width="4"/>
<line x1="1770.10" y1="1611.60" x2="1770.10" y2="1901.00" stroke="#000" stroke-width="3"/>
<line x1="1761.30" y1="1899.50" x2="1771.60" y2="1899.50" stroke="#000" stroke-width="3"/>
<text x="1754.00" y="1908.40" font-size="20" text-anchor="end">0</text>
<line x1="1761.30" y1="1841.92" x2="1771.60" y2="1841.92" stroke="#000" stroke-width="3"/>
<text x="1754.00" y="1850.82" font-size="20" text-anchor="end">5</text>
<line x1="1761.30" y1="1784.34" x2="1771.60" y2="1784.34" stroke="#000" stroke-width="3"/>
<text x="1754.00" y="1793.24" font-size="20" text-anchor="end">10</text>
<line x1="1761.30" y1="1726.76" x2="1771.60" y2="1726.76" stroke="#000" stroke-width="3"/>
<text x="1754.00" y="1735.66" font-size="20" text-anchor="end">15</text>
<line x1="1761.30" y1="1669.18" x2="1771.60" y2="1669.18" stroke="#000" stroke-width="3"/>
<text x="1754.00" y="1678.08" font-size="20" text-anchor="end">20</text>
<line x1="1761.30" y1="1611.60" x2="1771.60" y2="1611.60" stroke="#000" stroke-width="3"/>
<text x="1754.00" y="1620.50" font-size="20" text-anchor="end">25</text>
<line x1="1761.30" y1="1899.50" x2="2059.80" y2="1899.50" stroke="#000" stroke-width="3"/>
<line x1="1813.80" y1="1899.50" x2="1813.80" y2="1908.80" stroke="#000" stroke-width="3"/>
<line x1="1879.90" y1="1899.50" x2="1879.90" y2="1908.80" stroke="#000" stroke-width="3"/>
<line x1="1946.50" y1="1899.50" x2="1946.50" y2="1908.80" stroke="#000" stroke-width="3"/>
<line x1="2013.10" y1="1899.50" x2="2013.10" y2="1908.80" stroke="#000" stroke-width="3"/>
<text x="1813.80" y="1931.40" text-anchor="middle">0.77</text>
<text x="1879.90" y="1931.40" text-anchor="middle">8</text>
<text x="1946.50" y="1931.40" text-anchor="middle">0.77</text>
<text x="2013.10" y="1931.40" text-anchor="middle">8</text>
<text x="1915.90" y="1962.90" text-anchor="middle">Viscosity (cP)</text>
<text x="1847.40" y="1601.00" text-anchor="middle">NHE1</text>
<text x="1981.20" y="1601.00" text-anchor="middle">Ezrin</text>
<text x="1700.00" y="1758.20" text-anchor="middle" transform="rotate(-90 1700.00 1758.20)">Front-to-rear ratio</text>
<polyline points="1814.60,1815.50 1814.60,1703.60 1880.40,1703.60 1880.40,1734.20" fill="none" stroke="#000" stroke-width="2.6"/>
<polyline points="1946.50,1791.50 1946.50,1626.80 2013.70,1626.80 2013.70,1645.70" fill="none" stroke="#000" stroke-width="2.6"/>
<text x="1846.00" y="1702.40" font-size="24" text-anchor="middle" letter-spacing="1.2">***</text>
<text x="1981.20" y="1630.70" font-size="24" text-anchor="middle" letter-spacing="1.2">*</text>
</svg>
</body></html>
